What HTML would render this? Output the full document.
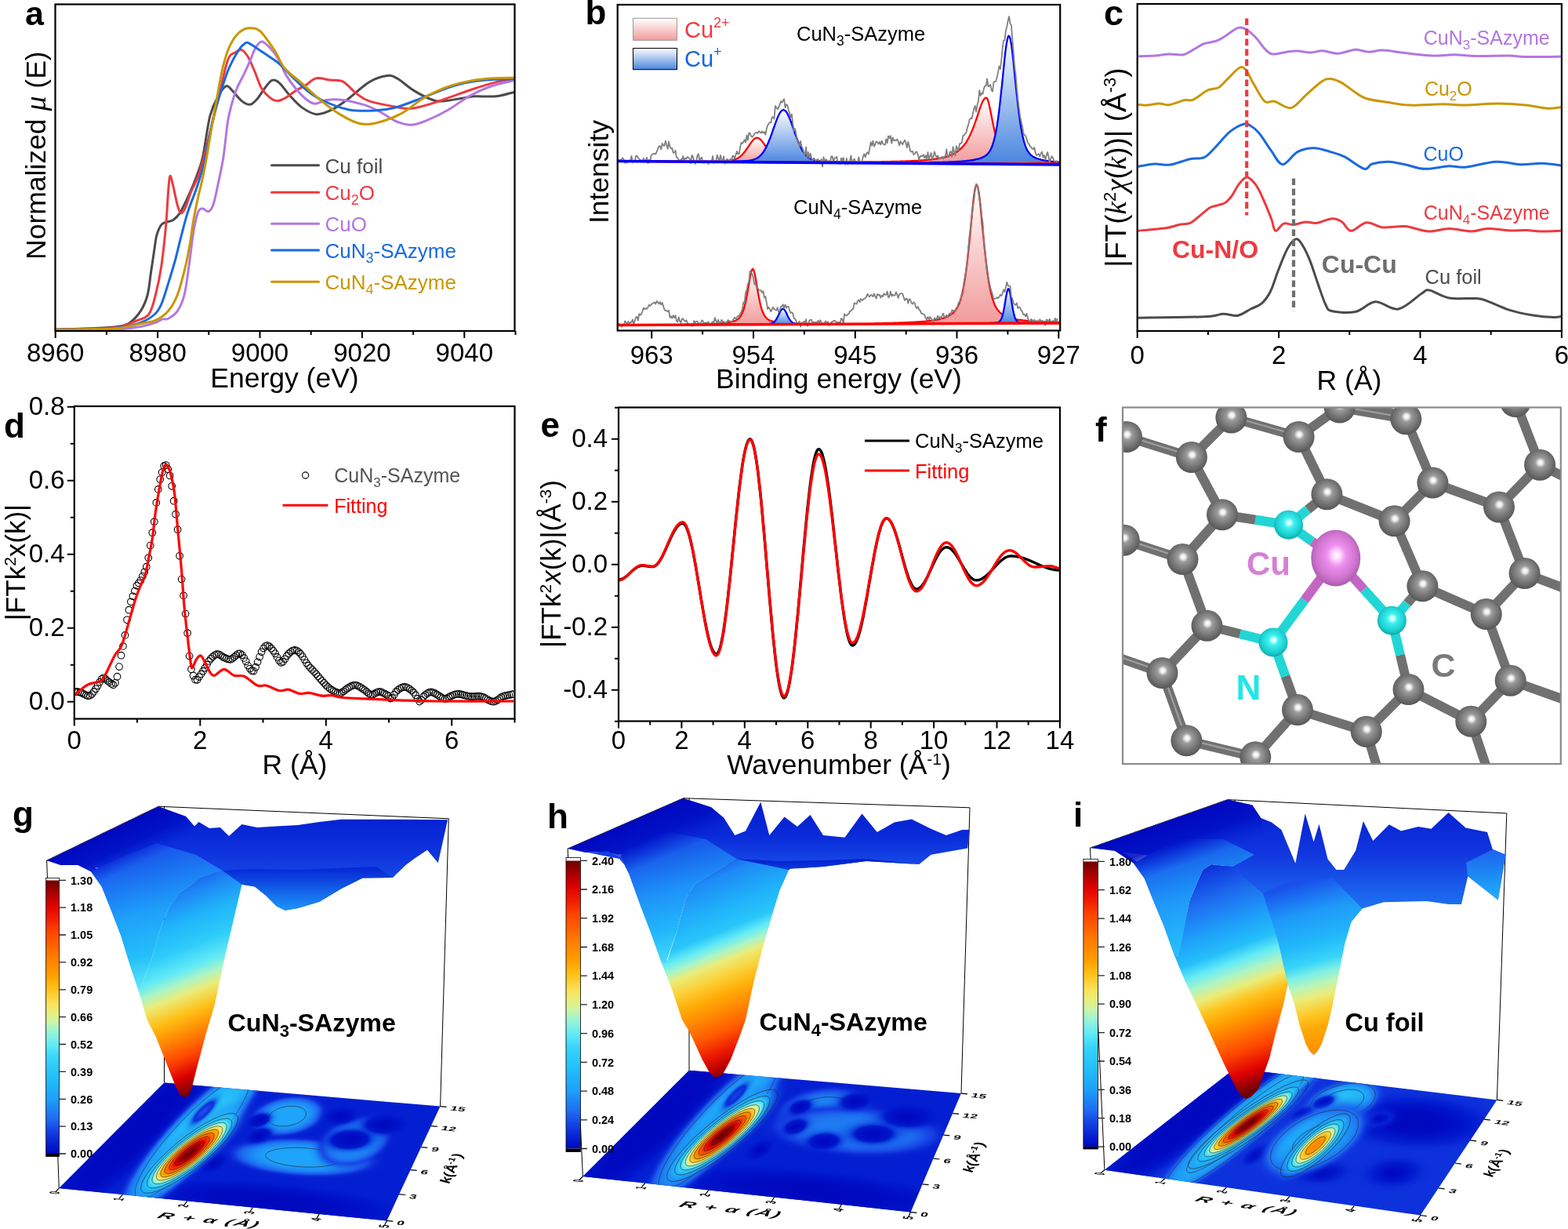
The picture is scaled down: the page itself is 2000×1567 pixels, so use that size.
<!DOCTYPE html>
<html><head><meta charset="utf-8"><title>Figure</title><style>
html,body{margin:0;padding:0;background:#fff;width:2000px;height:1567px;overflow:hidden;}
svg{display:block;}
text{font-family:"Liberation Sans",Arial,sans-serif;}
</style></head><body>
<svg xmlns="http://www.w3.org/2000/svg" width="2000" height="1567" viewBox="0 0 2000 1567">
<rect width="2000" height="1567" fill="#fff"/>
<defs><clipPath id="clipa"><rect x="71" y="6" width="585" height="415.5"/></clipPath><clipPath id="clipb"><rect x="788.7" y="7" width="562.5" height="413.5"/></clipPath><clipPath id="clipc"><rect x="1451.7" y="6" width="539.2" height="415"/></clipPath><clipPath id="clipd"><rect x="95.8" y="519" width="559.7" height="396.5"/></clipPath><clipPath id="clipe"><rect x="790" y="520.5" width="561" height="398"/></clipPath><clipPath id="clipf"><rect x="1432" y="519.5" width="558.8" height="454.5"/></clipPath></defs>
<g clip-path="url(#clipa)">
<path d="M71 420C79.2 419.8 106.8 419.1 120 418.5C133.2 417.9 142.6 417.5 150 416.4C157.4 415.3 159.8 415.3 164.7 412C169.6 408.7 175.4 402.6 179.3 396.6C183.2 390.6 186 384.3 188.2 376C190.4 367.7 191.1 356.5 192.6 346.7C194.1 336.9 195.8 325.2 197 317.4C198.2 309.6 198.4 304.9 199.9 299.8C201.4 294.7 203.6 289.4 205.8 286.6C208 283.8 210.7 283.9 213.1 282.9C215.5 281.9 217.7 282.5 220.4 280.7C223.1 278.9 225.8 277.3 229.2 271.9C232.6 266.5 237.3 256.5 241 248.4C244.7 240.3 248.3 231.6 251.2 223.5C254.1 215.4 255.8 212.7 258.6 200C261.4 187.3 264.6 160.3 268 147.3C271.4 134.3 275.3 128.2 278.7 121.9C282.1 115.7 285.4 111.2 288.1 109.8C290.8 108.4 291.5 110.7 294.8 113.8C298.1 116.9 304.2 125.3 308.2 128.6C312.2 131.8 315.5 133.8 318.9 133.3C322.2 132.9 325.2 129.4 328.3 125.9C331.4 122.4 334.6 116.4 337.7 112.5C340.8 108.6 343.9 103.5 347 102.4C350.1 101.3 352.6 102.5 356.4 105.8C360.2 109 365.1 116.8 369.8 121.9C374.5 127 379 132.6 384.6 136.6C390.2 140.6 397 145.2 403.5 145.7C410 146.2 417.1 142.9 423.8 139.7C430.6 136.4 436.1 132.1 444 126.2C451.9 120.4 462.7 109.5 471 104.6C479.3 99.6 487.9 97.2 494 96.5C500.1 95.8 501.9 97.3 507.5 100.5C513.1 103.7 520.3 110.9 527.7 115.4C535.1 119.9 545.7 125.2 552 127.5C558.3 129.8 558.8 129.3 565.5 128.9C572.2 128.5 585.8 125.8 592.5 124.8C599.2 123.8 599.2 123.1 606 122.8C612.8 122.5 624.7 123.7 633 122.8C641.3 121.9 652.2 118.3 656 117.4" fill="none" stroke="#4b4b4b" stroke-width="3" stroke-linejoin="round" stroke-linecap="round"/>
<path d="M71 420.5C79.2 420.2 106.8 419.6 120 419C133.2 418.4 141.3 418.7 150 417.2C158.7 415.7 165.4 412.5 172 409.8C178.6 407.1 185.2 406.6 189.6 401C194 395.4 195.7 386.3 198.4 376C201.1 365.7 203.6 354.1 205.8 339.4C208 324.7 210.1 303.9 211.6 288C213.1 272.1 213.7 254.6 214.6 244C215.5 233.4 215.8 226 216.8 224.5C217.8 223 218.8 229 220.4 235.2C222 241.4 224.6 255.5 226.3 261.6C228 267.7 229 271.4 230.7 271.9C232.4 272.4 234.4 269.2 236.6 264.6C238.8 260 241.2 250.6 243.9 244C246.6 237.4 250 232.3 252.7 225C255.4 217.7 257.7 208.5 260 200C262.3 191.5 263.5 186.8 266.6 174.2C269.7 161.6 274.7 140.9 278.7 124.6C282.7 108.3 287.1 85.9 290.7 76.3C294.3 66.7 297.2 69 300.1 66.9C303 64.8 305.5 62.7 308.2 63.6C310.9 64.5 313.5 68 316.2 72.3C318.9 76.6 321.4 83 324.3 89.7C327.2 96.4 330.2 106.7 333.6 112.5C337 118.3 341 121.9 344.4 124.6C347.8 127.3 350.4 128.6 353.8 128.6C357.2 128.6 360.5 126.8 364.5 124.6C368.5 122.4 373.6 117.9 377.9 115.2C382.1 112.5 385.7 111.2 390 108.6C394.3 106 398.3 100.9 403.5 99.8C408.7 98.7 415.4 101.4 421 102.1C426.6 102.8 431.7 101 437.3 103.9C442.9 106.8 449.2 115.2 454.8 119.4C460.4 123.6 462.7 126.1 471 128.9C479.3 131.7 495.8 134.7 504.8 136.3C513.8 137.9 517.1 139.1 525 138.3C532.9 137.5 543 134.3 552 131.6C561 128.9 570 125.2 579 122.1C588 118.9 597 115.6 606 112.7C615 109.8 624.7 106.6 633 104.6C641.3 102.6 652.2 101.2 656 100.5" fill="none" stroke="#ed3a40" stroke-width="3" stroke-linejoin="round" stroke-linecap="round"/>
<path d="M71 421C79.2 420.9 106.8 420.7 120 420.5C133.2 420.3 140.1 420.4 150 419.7C159.9 419 171.2 417.8 179.3 416.4C187.4 415 193.8 412.9 198.4 411.3C203.1 409.7 204.5 407.8 207.2 406.9C209.9 406 211.4 407.9 214.6 406.2C217.8 404.5 222.9 401.6 226.3 396.6C229.7 391.6 232.7 385.5 235.1 376C237.5 366.5 239.1 352.8 241 339.4C242.9 326 244.9 306.9 246.8 295.4C248.8 283.9 250.7 275.3 252.7 270.4C254.7 265.5 256.4 266.1 258.6 266C260.8 265.9 263.7 270.4 265.9 269.7C268.1 269 269.8 267.1 271.8 261.6C273.8 256.1 275.5 247 277.7 236.7C279.9 226.4 282.8 213.8 285 200C287.2 186.2 288.6 166.3 290.7 154C292.8 141.7 295.5 133 297.5 125.9C299.5 118.8 300.6 116.3 302.8 111.2C305 106.1 308.2 100.7 310.9 95.1C313.6 89.5 316.4 83.2 318.9 77.6C321.3 72 323.4 65.6 325.6 61.6C327.8 57.6 330.3 54.6 332.3 53.5C334.3 52.4 335 52.9 337.7 54.9C340.4 56.9 345 61.4 348.4 65.6C351.8 69.8 355.1 75.4 357.8 80.3C360.5 85.2 361.1 89.5 364.5 95.1C367.9 100.7 373.4 108.4 377.9 113.8C382.4 119.2 387.2 124.1 391.3 127.2C395.4 130.3 397.9 132.1 402.2 132.2C406.5 132.2 411.1 128.3 417 127.5C422.9 126.7 429.4 126.5 437.3 127.5C445.2 128.5 456.4 131.1 464.3 133.6C472.2 136.1 477.8 138.9 484.5 142.4C491.2 145.9 498.1 151.7 504.8 154.5C511.6 157.3 518.2 159.4 525 159.2C531.8 159 537.4 156.4 545.3 153.2C553.2 149.9 563.3 144.9 572.3 139.7C581.3 134.5 590.3 127 599.3 122.1C608.3 117.1 616.8 113.3 626.3 110C635.8 106.7 651 103.8 656 102.5" fill="none" stroke="#b277e2" stroke-width="3" stroke-linejoin="round" stroke-linecap="round"/>
<path d="M71 420.5C79.2 420.3 106.8 419.9 120 419.5C133.2 419.1 140.1 419.4 150 418C159.9 416.6 171.5 414.1 179.3 411.3C187.1 408.5 192.6 404.9 197 401C201.4 397.1 202.9 394.4 205.8 387.8C208.7 381.2 211.7 370.7 214.6 361.4C217.5 352.1 220.7 341.8 223.4 332C226.1 322.2 228 313 230.7 302.7C233.4 292.4 236.3 280.4 239.5 270.4C242.7 260.4 246.6 251.9 249.8 242.6C253 233.3 256.4 222.5 258.6 214.7C260.8 206.9 260.8 206.8 263 196C265.2 185.2 268.7 163.7 272 150C275.3 136.3 279.4 124.3 282.7 113.8C286 103.3 288.4 95.3 292 87C295.6 78.7 300.8 69.5 304.2 64.2C307.6 59 310 57 312.2 55.5C314.4 54 314 53.4 317.6 55.1C321.2 56.8 327.4 61.4 333.6 65.6C339.8 69.8 349.9 76.3 355 80.3C360.1 84.3 358.7 84.1 364.5 89.7C370.3 95.3 382.4 107.7 390 114C397.6 120.3 401.3 123.2 410.3 127.5C419.3 131.8 432.8 137.4 444 139.7C455.2 141.9 467.7 141.4 477.8 141C487.9 140.6 494.7 139.7 504.8 137C514.9 134.3 528.4 128.6 538.5 124.8C548.6 121 556.5 117.2 565.5 114C574.5 110.8 583.5 107.9 592.5 105.9C601.5 103.9 608.9 102.8 619.5 101.9C630.1 101 649.9 100.7 656 100.5" fill="none" stroke="#1a6ae0" stroke-width="3" stroke-linejoin="round" stroke-linecap="round"/>
<path d="M71 420.5C79.2 420.3 106.8 419.8 120 419.5C133.2 419.2 140.1 419.7 150 418.6C159.9 417.5 171.2 414.5 179.3 412.8C187.4 411.1 192.5 411.1 198.4 408.4C204.3 405.7 209.9 402 214.6 396.6C219.2 391.2 222.6 385.5 226.3 376C230 366.5 233.9 350.4 236.6 339.4C239.3 328.4 240.7 319.8 242.4 310C244.1 300.2 245.1 290.5 246.8 280.7C248.5 270.9 250.7 260.4 252.7 251.4C254.7 242.4 256.8 235 258.6 226.4C260.4 217.8 262.1 208.7 263.7 200C265.3 191.3 265.5 188.4 268 174C270.5 159.6 276 128.3 278.7 113.8C281.4 99.3 282 95.3 284 87C286 78.7 288 70.9 290.7 64.2C293.4 57.5 296.6 51.3 300 46.8C303.4 42.3 307.5 39.2 310.9 37.4C314.3 35.6 316.6 35.3 320.2 35.8C323.8 36.2 327.2 35.1 332.3 40.1C337.4 45.1 345.9 57.8 351 65.6C356.1 73.4 357.4 80.3 363 87C368.6 93.7 376.7 98.8 384.6 105.8C392.5 112.8 402 122.1 410.3 128.9C418.6 135.7 426.7 141.7 434.6 146.4C442.5 151.1 450.3 155.4 457.5 157.2C464.7 159 468.8 159.2 477.8 157.2C486.8 155.2 501.4 150.2 511.5 145C521.6 139.8 529.5 131.6 538.5 126.2C547.5 120.8 556.5 116.3 565.5 112.7C574.5 109.1 583.5 106.6 592.5 104.6C601.5 102.6 608.9 101.4 619.5 100.5C630.1 99.6 649.9 99.4 656 99.2" fill="none" stroke="#c99700" stroke-width="3" stroke-linejoin="round" stroke-linecap="round"/>
</g>
<rect x="70.5" y="5.5" width="586" height="416.5" fill="none" stroke="#000" stroke-width="2.2"/>
<path d="M70.7 422v9M201.1 422v9M331.5 422v9M461.9 422v9M592.3 422v9" stroke="#000" stroke-width="2"/>
<path d="M135.9 422v5M266.3 422v5M396.7 422v5M527.1 422v5M657.5 422v5" stroke="#000" stroke-width="2"/>
<text x="70.7" y="461" font-size="33" text-anchor="middle">8960</text>
<text x="201.1" y="461" font-size="33" text-anchor="middle">8980</text>
<text x="331.5" y="461" font-size="33" text-anchor="middle">9000</text>
<text x="461.9" y="461" font-size="33" text-anchor="middle">9020</text>
<text x="592.3" y="461" font-size="33" text-anchor="middle">9040</text>
<text x="363" y="494" font-size="35.5" text-anchor="middle">Energy (eV)</text>
<text transform="translate(57.6 331) rotate(-90)" font-size="35.5">Normalized <tspan font-family="Liberation Serif" font-style="italic" font-size="38">μ</tspan> (E)</text>
<path d="M346.5 210.8H406.5" stroke="#4b4b4b" stroke-width="3" stroke-linecap="round"/>
<text x="414.5" y="220.6" font-size="26" fill="#4b4b4b">Cu foil</text>
<path d="M346.5 245.3H406.5" stroke="#ed3a40" stroke-width="3" stroke-linecap="round"/>
<text x="414.5" y="255.1" font-size="26" fill="#ed3a40">Cu<tspan font-size="18" dy="6">2</tspan><tspan dy="-6">O</tspan></text>
<path d="M346.5 285.3H406.5" stroke="#b277e2" stroke-width="3" stroke-linecap="round"/>
<text x="414.5" y="295.1" font-size="26" fill="#b277e2">CuO</text>
<path d="M346.5 319.1H406.5" stroke="#1a6ae0" stroke-width="3" stroke-linecap="round"/>
<text x="414.5" y="328.9" font-size="26" fill="#1a6ae0">CuN<tspan font-size="18" dy="6">3</tspan><tspan dy="-6">-SAzyme</tspan></text>
<path d="M346.5 359.3H406.5" stroke="#c99700" stroke-width="3" stroke-linecap="round"/>
<text x="414.5" y="369.1" font-size="26" fill="#c99700">CuN<tspan font-size="18" dy="6">4</tspan><tspan dy="-6">-SAzyme</tspan></text>
<text x="32" y="31.5" font-size="43" font-weight="bold">a</text>
<defs><linearGradient id="gr" x1="0" y1="0" x2="0" y2="1"><stop offset="0" stop-color="#fff"/><stop offset="1" stop-color="#f29b9b"/></linearGradient><linearGradient id="gb" x1="0" y1="0" x2="0" y2="1"><stop offset="0" stop-color="#fff"/><stop offset="1" stop-color="#4a86e0"/></linearGradient></defs>
<g clip-path="url(#clipb)">
<path d="M797.7 205.5L799.8 205.5L801.9 205.5L804 205.5L806.1 205.5L808.2 205.6L810.3 205.6L812.4 205.6L814.5 205.6L816.6 205.6L818.7 205.6L820.8 205.6L822.9 205.6L825 205.6L827.1 205.7L829.2 205.7L831.3 205.7L833.4 205.7L835.5 205.7L837.6 205.7L839.7 205.7L841.8 205.7L843.9 205.7L846 205.7L848.1 205.7L850.2 205.8L852.3 205.8L854.4 205.8L856.5 205.8L858.6 205.8L860.7 205.8L862.8 205.8L864.9 205.8L867 205.8L869.1 205.8L871.2 205.8L873.3 205.8L875.4 205.8L877.5 205.8L879.6 205.8L881.7 205.8L883.8 205.8L885.9 205.8L888 205.8L890.1 205.8L892.2 205.8L894.3 205.8L896.4 205.8L898.5 205.8L900.6 205.8L902.7 205.8L904.8 205.8L906.9 205.7L909 205.7L911.1 205.7L913.2 205.7L915.3 205.6L917.4 205.6L919.5 205.5L921.6 205.5L923.7 205.4L925.8 205.3L927.9 205.1L930 204.9L932.1 204.6L934.2 204.2L936.3 203.7L938.4 202.9L940.5 202L942.6 200.7L944.7 199.1L946.8 197.1L948.9 194.7L951 192L953.1 189L955.2 185.9L957.3 182.8L959.4 180L961.5 177.7L963.6 176.1L965.7 175.6L967.8 176.2L969.9 177.7L972 180.1L974.1 182.9L976.2 186L978.3 189.2L980.4 192.2L982.5 194.9L984.6 197.3L986.7 199.3L988.8 201L990.9 202.3L993 203.3L995.1 204L997.2 204.6L999.3 205L1001.4 205.3L1003.5 205.6L1005.6 205.8L1007.7 205.9L1009.8 206L1011.9 206.1L1014 206.2L1016.1 206.2L1018.2 206.3L1020.3 206.4L1022.4 206.4L1024.5 206.5L1026.6 206.5L1028.7 206.6L1030.8 206.6L1032.9 206.6L1035 206.7L1037.1 206.7L1039.2 206.7L1041.3 206.8L1043.4 206.8L1045.5 206.8L1047.6 206.8L1049.7 206.9L1051.8 206.9L1053.9 206.9L1056 206.9L1058.1 207L1060.2 207L1062.3 207L1064.4 207L1066.5 207.1L1068.6 207.1L1070.7 207.1L1072.8 207.1L1074.9 207.1L1077 207.1L1079.1 207.2L1081.2 207.2L1083.3 207.2L1085.4 207.2L1087.5 207.2L1089.6 207.3L1091.7 207.3L1093.8 207.3L1095.9 207.3L1098 207.3L1100.1 207.3L1102.2 207.4L1104.3 207.4L1106.4 207.4L1108.5 207.4L1110.6 207.4L1112.7 207.4L1114.8 207.4L1116.9 207.5L1119 207.5L1121.1 207.5L1123.2 207.5L1125.3 207.5L1127.4 207.5L1129.5 207.6L1131.6 207.6L1133.7 207.6Z" fill="url(#gr)" stroke="none"/>
<path d="M797.7 205.5L799.8 205.5L801.9 205.5L804 205.5L806.1 205.5L808.2 205.6L810.3 205.6L812.4 205.6L814.5 205.6L816.6 205.6L818.7 205.6L820.8 205.6L822.9 205.6L825 205.6L827.1 205.7L829.2 205.7L831.3 205.7L833.4 205.7L835.5 205.7L837.6 205.7L839.7 205.7L841.8 205.7L843.9 205.7L846 205.7L848.1 205.7L850.2 205.8L852.3 205.8L854.4 205.8L856.5 205.8L858.6 205.8L860.7 205.8L862.8 205.8L864.9 205.8L867 205.8L869.1 205.8L871.2 205.8L873.3 205.8L875.4 205.8L877.5 205.8L879.6 205.8L881.7 205.8L883.8 205.8L885.9 205.8L888 205.8L890.1 205.8L892.2 205.8L894.3 205.8L896.4 205.8L898.5 205.8L900.6 205.8L902.7 205.8L904.8 205.8L906.9 205.7L909 205.7L911.1 205.7L913.2 205.7L915.3 205.6L917.4 205.6L919.5 205.5L921.6 205.5L923.7 205.4L925.8 205.3L927.9 205.1L930 204.9L932.1 204.6L934.2 204.2L936.3 203.7L938.4 202.9L940.5 202L942.6 200.7L944.7 199.1L946.8 197.1L948.9 194.7L951 192L953.1 189L955.2 185.9L957.3 182.8L959.4 180L961.5 177.7L963.6 176.1L965.7 175.6L967.8 176.2L969.9 177.7L972 180.1L974.1 182.9L976.2 186L978.3 189.2L980.4 192.2L982.5 194.9L984.6 197.3L986.7 199.3L988.8 201L990.9 202.3L993 203.3L995.1 204L997.2 204.6L999.3 205L1001.4 205.3L1003.5 205.6L1005.6 205.8L1007.7 205.9L1009.8 206L1011.9 206.1L1014 206.2L1016.1 206.2L1018.2 206.3L1020.3 206.4L1022.4 206.4L1024.5 206.5L1026.6 206.5L1028.7 206.6L1030.8 206.6L1032.9 206.6L1035 206.7L1037.1 206.7L1039.2 206.7L1041.3 206.8L1043.4 206.8L1045.5 206.8L1047.6 206.8L1049.7 206.9L1051.8 206.9L1053.9 206.9L1056 206.9L1058.1 207L1060.2 207L1062.3 207L1064.4 207L1066.5 207.1L1068.6 207.1L1070.7 207.1L1072.8 207.1L1074.9 207.1L1077 207.1L1079.1 207.2L1081.2 207.2L1083.3 207.2L1085.4 207.2L1087.5 207.2L1089.6 207.3L1091.7 207.3L1093.8 207.3L1095.9 207.3L1098 207.3L1100.1 207.3L1102.2 207.4L1104.3 207.4L1106.4 207.4L1108.5 207.4L1110.6 207.4L1112.7 207.4L1114.8 207.4L1116.9 207.5L1119 207.5L1121.1 207.5L1123.2 207.5L1125.3 207.5L1127.4 207.5L1129.5 207.6L1131.6 207.6L1133.7 207.6" fill="none" stroke="#ff0000" stroke-width="2.3"/>
<path d="M1042 206.6L1043.9 206.6L1045.9 206.6L1047.8 206.6L1049.8 206.6L1051.7 206.6L1053.6 206.6L1055.6 206.6L1057.5 206.6L1059.4 206.6L1061.4 206.6L1063.3 206.6L1065.3 206.6L1067.2 206.6L1069.1 206.6L1071.1 206.6L1073 206.6L1075 206.6L1076.9 206.6L1078.8 206.5L1080.8 206.5L1082.7 206.5L1084.7 206.5L1086.6 206.5L1088.5 206.5L1090.5 206.5L1092.4 206.5L1094.3 206.5L1096.3 206.5L1098.2 206.5L1100.2 206.5L1102.1 206.5L1104 206.4L1106 206.4L1107.9 206.4L1109.9 206.4L1111.8 206.4L1113.7 206.4L1115.7 206.3L1117.6 206.3L1119.5 206.3L1121.5 206.3L1123.4 206.3L1125.4 206.2L1127.3 206.2L1129.2 206.2L1131.2 206.1L1133.1 206.1L1135.1 206.1L1137 206L1138.9 206L1140.9 205.9L1142.8 205.9L1144.8 205.9L1146.7 205.8L1148.6 205.7L1150.6 205.7L1152.5 205.6L1154.4 205.6L1156.4 205.5L1158.3 205.4L1160.3 205.3L1162.2 205.2L1164.1 205.2L1166.1 205.1L1168 204.9L1170 204.8L1171.9 204.7L1173.8 204.6L1175.8 204.4L1177.7 204.3L1179.7 204.1L1181.6 204L1183.5 203.8L1185.5 203.6L1187.4 203.4L1189.3 203.1L1191.3 202.9L1193.2 202.6L1195.2 202.3L1197.1 202L1199 201.6L1201 201.2L1202.9 200.8L1204.9 200.3L1206.8 199.8L1208.7 199.2L1210.7 198.5L1212.6 197.8L1214.5 196.9L1216.5 196L1218.4 194.9L1220.4 193.7L1222.3 192.3L1224.2 190.7L1226.2 188.9L1228.1 186.9L1230.1 184.5L1232 181.8L1233.9 178.7L1235.9 175.2L1237.8 171.3L1239.8 166.9L1241.7 162L1243.6 156.8L1245.6 151.1L1247.5 145.3L1249.4 139.5L1251.4 134.1L1253.3 129.6L1255.3 126.2L1257.2 124.6L1259.1 125.4L1261.1 130.9L1263 139.7L1265 149.7L1266.9 159.3L1268.8 167.8L1270.8 175L1272.7 180.8L1274.7 185.5L1276.6 189.3L1278.5 192.3L1280.5 194.7L1282.4 196.6L1284.3 198.1L1286.3 199.4L1288.2 200.4L1290.2 201.3L1292.1 202.1L1294 202.7L1296 203.3L1297.9 203.8L1299.9 204.2L1301.8 204.6L1303.7 204.9L1305.7 205.2L1307.6 205.5L1309.5 205.7L1311.5 205.9L1313.4 206.1L1315.4 206.3L1317.3 206.5L1319.2 206.6L1321.2 206.8L1323.1 206.9L1325.1 207L1327 207.1L1328.9 207.2L1330.9 207.3L1332.8 207.4L1334.8 207.5L1336.7 207.6L1338.6 207.7L1340.6 207.7L1342.5 207.8L1344.4 207.9L1346.4 207.9L1348.3 208L1350.3 208L1352.2 208.1Z" fill="url(#gr)" stroke="none"/>
<path d="M1042 206.6L1043.9 206.6L1045.9 206.6L1047.8 206.6L1049.8 206.6L1051.7 206.6L1053.6 206.6L1055.6 206.6L1057.5 206.6L1059.4 206.6L1061.4 206.6L1063.3 206.6L1065.3 206.6L1067.2 206.6L1069.1 206.6L1071.1 206.6L1073 206.6L1075 206.6L1076.9 206.6L1078.8 206.5L1080.8 206.5L1082.7 206.5L1084.7 206.5L1086.6 206.5L1088.5 206.5L1090.5 206.5L1092.4 206.5L1094.3 206.5L1096.3 206.5L1098.2 206.5L1100.2 206.5L1102.1 206.5L1104 206.4L1106 206.4L1107.9 206.4L1109.9 206.4L1111.8 206.4L1113.7 206.4L1115.7 206.3L1117.6 206.3L1119.5 206.3L1121.5 206.3L1123.4 206.3L1125.4 206.2L1127.3 206.2L1129.2 206.2L1131.2 206.1L1133.1 206.1L1135.1 206.1L1137 206L1138.9 206L1140.9 205.9L1142.8 205.9L1144.8 205.9L1146.7 205.8L1148.6 205.7L1150.6 205.7L1152.5 205.6L1154.4 205.6L1156.4 205.5L1158.3 205.4L1160.3 205.3L1162.2 205.2L1164.1 205.2L1166.1 205.1L1168 204.9L1170 204.8L1171.9 204.7L1173.8 204.6L1175.8 204.4L1177.7 204.3L1179.7 204.1L1181.6 204L1183.5 203.8L1185.5 203.6L1187.4 203.4L1189.3 203.1L1191.3 202.9L1193.2 202.6L1195.2 202.3L1197.1 202L1199 201.6L1201 201.2L1202.9 200.8L1204.9 200.3L1206.8 199.8L1208.7 199.2L1210.7 198.5L1212.6 197.8L1214.5 196.9L1216.5 196L1218.4 194.9L1220.4 193.7L1222.3 192.3L1224.2 190.7L1226.2 188.9L1228.1 186.9L1230.1 184.5L1232 181.8L1233.9 178.7L1235.9 175.2L1237.8 171.3L1239.8 166.9L1241.7 162L1243.6 156.8L1245.6 151.1L1247.5 145.3L1249.4 139.5L1251.4 134.1L1253.3 129.6L1255.3 126.2L1257.2 124.6L1259.1 125.4L1261.1 130.9L1263 139.7L1265 149.7L1266.9 159.3L1268.8 167.8L1270.8 175L1272.7 180.8L1274.7 185.5L1276.6 189.3L1278.5 192.3L1280.5 194.7L1282.4 196.6L1284.3 198.1L1286.3 199.4L1288.2 200.4L1290.2 201.3L1292.1 202.1L1294 202.7L1296 203.3L1297.9 203.8L1299.9 204.2L1301.8 204.6L1303.7 204.9L1305.7 205.2L1307.6 205.5L1309.5 205.7L1311.5 205.9L1313.4 206.1L1315.4 206.3L1317.3 206.5L1319.2 206.6L1321.2 206.8L1323.1 206.9L1325.1 207L1327 207.1L1328.9 207.2L1330.9 207.3L1332.8 207.4L1334.8 207.5L1336.7 207.6L1338.6 207.7L1340.6 207.7L1342.5 207.8L1344.4 207.9L1346.4 207.9L1348.3 208L1350.3 208L1352.2 208.1" fill="none" stroke="#ff0000" stroke-width="2.3"/>
<path d="M807.3 205.5L809.7 205.5L812.1 205.6L814.5 205.6L816.9 205.6L819.3 205.6L821.7 205.6L824.1 205.6L826.5 205.6L828.9 205.6L831.3 205.7L833.7 205.7L836.1 205.7L838.5 205.7L840.9 205.7L843.3 205.7L845.7 205.7L848.1 205.7L850.5 205.7L852.9 205.7L855.3 205.8L857.7 205.8L860.1 205.8L862.5 205.8L864.9 205.8L867.3 205.8L869.7 205.8L872.1 205.8L874.5 205.8L876.9 205.8L879.3 205.8L881.7 205.8L884.1 205.8L886.5 205.8L888.9 205.9L891.3 205.9L893.7 205.9L896.1 205.9L898.5 205.9L900.9 205.9L903.3 205.9L905.7 205.9L908.1 205.8L910.5 205.8L912.9 205.8L915.3 205.8L917.7 205.8L920.1 205.8L922.5 205.8L924.9 205.8L927.3 205.7L929.7 205.7L932.1 205.7L934.5 205.6L936.9 205.6L939.3 205.5L941.7 205.5L944.1 205.4L946.5 205.3L948.9 205.2L951.3 205.1L953.7 204.9L956.1 204.6L958.5 204.2L960.9 203.6L963.3 202.8L965.7 201.6L968.1 200L970.5 197.8L972.9 195L975.3 191.3L977.7 186.8L980.1 181.5L982.5 175.5L984.9 168.9L987.3 162L989.7 155.3L992.1 149.2L994.5 144.3L996.9 141.1L999.3 140L1001.7 141.1L1004.1 144.4L1006.5 149.3L1008.9 155.4L1011.3 162.2L1013.7 169L1016.1 175.7L1018.5 181.8L1020.9 187.1L1023.3 191.6L1025.7 195.3L1028.1 198.2L1030.5 200.4L1032.9 202L1035.3 203.2L1037.7 204.1L1040.1 204.7L1042.5 205.1L1044.9 205.4L1047.3 205.7L1049.7 205.8L1052.1 206L1054.5 206.1L1056.9 206.2L1059.3 206.3L1061.7 206.4L1064.1 206.4L1066.5 206.5L1068.9 206.6L1071.3 206.6L1073.7 206.7L1076.1 206.7L1078.5 206.8L1080.9 206.8L1083.3 206.9L1085.7 206.9L1088.1 206.9L1090.5 207L1092.9 207L1095.3 207L1097.7 207.1L1100.1 207.1L1102.5 207.1L1104.9 207.2L1107.3 207.2L1109.7 207.2L1112.1 207.2L1114.5 207.3L1116.9 207.3L1119.3 207.3L1121.7 207.3L1124.1 207.4L1126.5 207.4L1128.9 207.4L1131.3 207.4L1133.7 207.5L1136.1 207.5L1138.5 207.5L1140.9 207.5L1143.3 207.5L1145.7 207.6L1148.1 207.6L1150.5 207.6L1152.9 207.6L1155.3 207.6L1157.7 207.7L1160.1 207.7L1162.5 207.7L1164.9 207.7L1167.3 207.7L1169.7 207.8L1172.1 207.8L1174.5 207.8L1176.9 207.8L1179.3 207.8L1181.7 207.8L1184.1 207.9L1186.5 207.9L1188.9 207.9L1191.3 207.9Z" fill="url(#gb)" stroke="none"/>
<path d="M807.3 205.5L809.7 205.5L812.1 205.6L814.5 205.6L816.9 205.6L819.3 205.6L821.7 205.6L824.1 205.6L826.5 205.6L828.9 205.6L831.3 205.7L833.7 205.7L836.1 205.7L838.5 205.7L840.9 205.7L843.3 205.7L845.7 205.7L848.1 205.7L850.5 205.7L852.9 205.7L855.3 205.8L857.7 205.8L860.1 205.8L862.5 205.8L864.9 205.8L867.3 205.8L869.7 205.8L872.1 205.8L874.5 205.8L876.9 205.8L879.3 205.8L881.7 205.8L884.1 205.8L886.5 205.8L888.9 205.9L891.3 205.9L893.7 205.9L896.1 205.9L898.5 205.9L900.9 205.9L903.3 205.9L905.7 205.9L908.1 205.8L910.5 205.8L912.9 205.8L915.3 205.8L917.7 205.8L920.1 205.8L922.5 205.8L924.9 205.8L927.3 205.7L929.7 205.7L932.1 205.7L934.5 205.6L936.9 205.6L939.3 205.5L941.7 205.5L944.1 205.4L946.5 205.3L948.9 205.2L951.3 205.1L953.7 204.9L956.1 204.6L958.5 204.2L960.9 203.6L963.3 202.8L965.7 201.6L968.1 200L970.5 197.8L972.9 195L975.3 191.3L977.7 186.8L980.1 181.5L982.5 175.5L984.9 168.9L987.3 162L989.7 155.3L992.1 149.2L994.5 144.3L996.9 141.1L999.3 140L1001.7 141.1L1004.1 144.4L1006.5 149.3L1008.9 155.4L1011.3 162.2L1013.7 169L1016.1 175.7L1018.5 181.8L1020.9 187.1L1023.3 191.6L1025.7 195.3L1028.1 198.2L1030.5 200.4L1032.9 202L1035.3 203.2L1037.7 204.1L1040.1 204.7L1042.5 205.1L1044.9 205.4L1047.3 205.7L1049.7 205.8L1052.1 206L1054.5 206.1L1056.9 206.2L1059.3 206.3L1061.7 206.4L1064.1 206.4L1066.5 206.5L1068.9 206.6L1071.3 206.6L1073.7 206.7L1076.1 206.7L1078.5 206.8L1080.9 206.8L1083.3 206.9L1085.7 206.9L1088.1 206.9L1090.5 207L1092.9 207L1095.3 207L1097.7 207.1L1100.1 207.1L1102.5 207.1L1104.9 207.2L1107.3 207.2L1109.7 207.2L1112.1 207.2L1114.5 207.3L1116.9 207.3L1119.3 207.3L1121.7 207.3L1124.1 207.4L1126.5 207.4L1128.9 207.4L1131.3 207.4L1133.7 207.5L1136.1 207.5L1138.5 207.5L1140.9 207.5L1143.3 207.5L1145.7 207.6L1148.1 207.6L1150.5 207.6L1152.9 207.6L1155.3 207.6L1157.7 207.7L1160.1 207.7L1162.5 207.7L1164.9 207.7L1167.3 207.7L1169.7 207.8L1172.1 207.8L1174.5 207.8L1176.9 207.8L1179.3 207.8L1181.7 207.8L1184.1 207.9L1186.5 207.9L1188.9 207.9L1191.3 207.9" fill="none" stroke="#0000ff" stroke-width="2.3"/>
<path d="M1157.2 207.2L1158.4 207.2L1159.6 207.2L1160.9 207.2L1162.1 207.2L1163.3 207.2L1164.5 207.2L1165.7 207.2L1166.9 207.2L1168.2 207.2L1169.4 207.2L1170.6 207.2L1171.8 207.2L1173 207.2L1174.3 207.2L1175.5 207.1L1176.7 207.1L1177.9 207.1L1179.1 207.1L1180.4 207.1L1181.6 207.1L1182.8 207.1L1184 207.1L1185.2 207.1L1186.4 207L1187.7 207L1188.9 207L1190.1 207L1191.3 207L1192.5 207L1193.8 206.9L1195 206.9L1196.2 206.9L1197.4 206.9L1198.6 206.8L1199.9 206.8L1201.1 206.8L1202.3 206.8L1203.5 206.7L1204.7 206.7L1205.9 206.7L1207.2 206.6L1208.4 206.6L1209.6 206.6L1210.8 206.5L1212 206.5L1213.3 206.4L1214.5 206.4L1215.7 206.3L1216.9 206.3L1218.1 206.2L1219.4 206.1L1220.6 206.1L1221.8 206L1223 205.9L1224.2 205.8L1225.4 205.8L1226.7 205.7L1227.9 205.6L1229.1 205.5L1230.3 205.4L1231.5 205.3L1232.8 205.1L1234 205L1235.2 204.9L1236.4 204.7L1237.6 204.5L1238.9 204.4L1240.1 204.2L1241.3 204L1242.5 203.7L1243.7 203.5L1244.9 203.2L1246.2 203L1247.4 202.6L1248.6 202.3L1249.8 201.9L1251 201.5L1252.3 201.1L1253.5 200.5L1254.7 199.9L1255.9 199.2L1257.1 198.4L1258.4 197.5L1259.6 196.3L1260.8 195L1262 193.3L1263.2 191.3L1264.5 188.8L1265.7 185.8L1266.9 182.2L1268.1 177.9L1269.3 172.7L1270.5 166.6L1271.8 159.5L1273 151.4L1274.2 142.3L1275.4 132.2L1276.6 121.2L1277.9 109.5L1279.1 97.5L1280.3 85.4L1281.5 73.8L1282.7 63.3L1284 54.7L1285.2 48.7L1286.4 45.8L1287.6 46.4L1288.8 50.3L1290 57.3L1291.3 66.6L1292.5 77.5L1293.7 89.3L1294.9 101.5L1296.1 113.5L1297.4 124.9L1298.6 135.7L1299.8 145.5L1301 154.3L1302.2 162.1L1303.5 168.9L1304.7 174.7L1305.9 179.6L1307.1 183.7L1308.3 187.1L1309.5 190L1310.8 192.3L1312 194.2L1313.2 195.8L1314.4 197.1L1315.6 198.2L1316.9 199.1L1318.1 199.9L1319.3 200.5L1320.5 201.1L1321.7 201.6L1323 202.1L1324.2 202.5L1325.4 202.9L1326.6 203.2L1327.8 203.6L1329 203.9L1330.3 204.1L1331.5 204.4L1332.7 204.6L1333.9 204.8L1335.1 205L1336.4 205.2L1337.6 205.4L1338.8 205.5L1340 205.7L1341.2 205.8L1342.5 206L1343.7 206.1L1344.9 206.2L1346.1 206.3L1347.3 206.5L1348.5 206.6L1349.8 206.7L1351 206.7L1352.2 206.8Z" fill="url(#gb)" stroke="none"/>
<path d="M1157.2 207.2L1158.4 207.2L1159.6 207.2L1160.9 207.2L1162.1 207.2L1163.3 207.2L1164.5 207.2L1165.7 207.2L1166.9 207.2L1168.2 207.2L1169.4 207.2L1170.6 207.2L1171.8 207.2L1173 207.2L1174.3 207.2L1175.5 207.1L1176.7 207.1L1177.9 207.1L1179.1 207.1L1180.4 207.1L1181.6 207.1L1182.8 207.1L1184 207.1L1185.2 207.1L1186.4 207L1187.7 207L1188.9 207L1190.1 207L1191.3 207L1192.5 207L1193.8 206.9L1195 206.9L1196.2 206.9L1197.4 206.9L1198.6 206.8L1199.9 206.8L1201.1 206.8L1202.3 206.8L1203.5 206.7L1204.7 206.7L1205.9 206.7L1207.2 206.6L1208.4 206.6L1209.6 206.6L1210.8 206.5L1212 206.5L1213.3 206.4L1214.5 206.4L1215.7 206.3L1216.9 206.3L1218.1 206.2L1219.4 206.1L1220.6 206.1L1221.8 206L1223 205.9L1224.2 205.8L1225.4 205.8L1226.7 205.7L1227.9 205.6L1229.1 205.5L1230.3 205.4L1231.5 205.3L1232.8 205.1L1234 205L1235.2 204.9L1236.4 204.7L1237.6 204.5L1238.9 204.4L1240.1 204.2L1241.3 204L1242.5 203.7L1243.7 203.5L1244.9 203.2L1246.2 203L1247.4 202.6L1248.6 202.3L1249.8 201.9L1251 201.5L1252.3 201.1L1253.5 200.5L1254.7 199.9L1255.9 199.2L1257.1 198.4L1258.4 197.5L1259.6 196.3L1260.8 195L1262 193.3L1263.2 191.3L1264.5 188.8L1265.7 185.8L1266.9 182.2L1268.1 177.9L1269.3 172.7L1270.5 166.6L1271.8 159.5L1273 151.4L1274.2 142.3L1275.4 132.2L1276.6 121.2L1277.9 109.5L1279.1 97.5L1280.3 85.4L1281.5 73.8L1282.7 63.3L1284 54.7L1285.2 48.7L1286.4 45.8L1287.6 46.4L1288.8 50.3L1290 57.3L1291.3 66.6L1292.5 77.5L1293.7 89.3L1294.9 101.5L1296.1 113.5L1297.4 124.9L1298.6 135.7L1299.8 145.5L1301 154.3L1302.2 162.1L1303.5 168.9L1304.7 174.7L1305.9 179.6L1307.1 183.7L1308.3 187.1L1309.5 190L1310.8 192.3L1312 194.2L1313.2 195.8L1314.4 197.1L1315.6 198.2L1316.9 199.1L1318.1 199.9L1319.3 200.5L1320.5 201.1L1321.7 201.6L1323 202.1L1324.2 202.5L1325.4 202.9L1326.6 203.2L1327.8 203.6L1329 203.9L1330.3 204.1L1331.5 204.4L1332.7 204.6L1333.9 204.8L1335.1 205L1336.4 205.2L1337.6 205.4L1338.8 205.5L1340 205.7L1341.2 205.8L1342.5 206L1343.7 206.1L1344.9 206.2L1346.1 206.3L1347.3 206.5L1348.5 206.6L1349.8 206.7L1351 206.7L1352.2 206.8" fill="none" stroke="#0000ff" stroke-width="2.3"/>
<path d="M788.7 203.4L790.1 205.9L791.5 203.5L792.9 203.2L794.3 201.3L795.7 203.6L797.1 207.8L798.5 205.6L799.9 207.6L801.3 205.1L802.7 205.5L804.1 204.9L805.5 199L806.9 207L808.3 205.9L809.7 205.9L811.1 198.9L812.5 198.7L813.9 201.4L815.3 202.7L816.7 205.2L818.1 204L819.5 205.7L820.9 201.8L822.3 204.6L823.7 204.6L825.1 200.9L826.5 208L827.9 203.6L829.3 204.8L830.7 198L832.1 196.5L833.5 196.4L834.9 195.7L836.3 196.5L837.7 193.5L839.1 189.6L840.5 186.3L841.9 186.2L843.3 190.4L844.7 182.9L846.1 185.5L847.5 185.8L848.9 179.7L850.3 185.1L851.7 189.9L853.1 180.4L854.5 187.3L855.9 189.5L857.3 188.9L858.7 194.8L860.1 194.7L861.5 191.8L862.9 200.6L864.3 201.4L865.7 203.4L867.1 205.9L868.5 203.2L869.9 203L871.3 199L872.7 205.5L874.1 201.8L875.5 202.5L876.9 200L878.3 201.1L879.7 202.5L881.1 208.4L882.5 197.8L883.9 199.7L885.3 205.1L886.7 208.9L888.1 206.2L889.5 198.2L890.9 196.2L892.3 205.4L893.7 201.9L895.1 200.7L896.5 207.4L897.9 207.8L899.3 204.7L900.7 205L902.1 205.6L903.5 209.2L904.9 206.1L906.3 205.8L907.7 205.8L909.1 199L910.5 208.1L911.9 207L913.3 205.6L914.7 197.6L916.1 201.8L917.5 206.5L918.9 198L920.3 203.1L921.7 206.9L923.1 199.3L924.5 208.6L925.9 205.1L927.3 202.7L928.7 204L930.1 204.8L931.5 202.7L932.9 205.5L934.3 199L935.7 198.9L937.1 202.3L938.5 197.6L939.9 192.9L941.3 196.6L942.7 195.9L944.1 187.3L945.5 181.7L946.9 183.1L948.3 180.7L949.7 178.1L951.1 181.7L952.5 172.4L953.9 178.5L955.3 169.4L956.7 170.1L958.1 173.8L959.5 174.6L960.9 173L962.3 170.6L963.7 169.3L965.1 168.9L966.5 169.9L967.9 167.2L969.3 168.6L970.7 169.5L972.1 167.5L973.5 169.5L974.9 168.2L976.3 171.6L977.7 164.6L979.1 160.1L980.5 157.7L981.9 156.1L983.3 156.3L984.7 149.5L986.1 149.3L987.5 151.5L988.9 135.1L990.3 137.3L991.7 139.2L993.1 137.1L994.5 133.9L995.9 129.2L997.3 130.7L998.7 128.5L1000.1 126.1L1001.5 137.1L1002.9 133.2L1004.3 134.1L1005.7 139.9L1007.1 144.3L1008.5 149.6L1009.9 145.8L1011.3 157.6L1012.7 166.8L1014.1 164L1015.5 171.5L1016.9 178.6L1018.3 181.8L1019.7 187.2L1021.1 179.9L1022.5 187L1023.9 189.4L1025.3 194.7L1026.7 198L1028.1 187.6L1029.5 201L1030.9 194L1032.3 201.8L1033.7 195.7L1035.1 201.7L1036.5 205.5L1037.9 201.7L1039.3 203.1L1040.7 205.4L1042.1 203.5L1043.5 203L1044.9 208.4L1046.3 207L1047.7 202.8L1049.1 212.6L1050.5 200.2L1051.9 206.9L1053.3 203.2L1054.7 204.5L1056.1 206.4L1057.5 204.9L1058.9 206.3L1060.3 199.4L1061.7 199.5L1063.1 206.4L1064.5 201.4L1065.9 201.2L1067.3 199.8L1068.7 208.6L1070.1 206.9L1071.5 209.3L1072.9 201.6L1074.3 204.6L1075.7 201L1077.1 207.1L1078.5 209.8L1079.9 201.8L1081.3 209.7L1082.7 207.9L1084.1 204.1L1085.5 198.4L1086.9 209.2L1088.3 204.4L1089.7 202.7L1091.1 205.8L1092.5 205.6L1093.9 208.8L1095.3 200.3L1096.7 206.6L1098.1 207L1099.5 205.9L1100.9 199.5L1102.3 196.3L1103.7 200.4L1105.1 195.8L1106.5 194.1L1107.9 196.5L1109.3 189.3L1110.7 181.1L1112.1 185.7L1113.5 179.6L1114.9 186.9L1116.3 184.2L1117.7 180.3L1119.1 181.5L1120.5 183.6L1121.9 180.8L1123.3 184.4L1124.7 179.7L1126.1 183.1L1127.5 184.4L1128.9 184.7L1130.3 177.4L1131.7 182.3L1133.1 173.4L1134.5 176L1135.9 173.1L1137.3 182.8L1138.7 175.4L1140.1 179.3L1141.5 178.7L1142.9 179.2L1144.3 177.5L1145.7 180.3L1147.1 185.5L1148.5 180.2L1149.9 182.2L1151.3 184.2L1152.7 181.1L1154.1 178.6L1155.5 181.9L1156.9 188.3L1158.3 181L1159.7 185.9L1161.1 192.6L1162.5 193.6L1163.9 192.8L1165.3 197L1166.7 196.5L1168.1 193.7L1169.5 193.7L1170.9 197.7L1172.3 203.5L1173.7 199.3L1175.1 198.7L1176.5 199.4L1177.9 197.1L1179.3 201.6L1180.7 198.2L1182.1 203L1183.5 194.2L1184.9 202.6L1186.3 199.4L1187.7 195L1189.1 203.4L1190.5 200L1191.9 193.5L1193.3 197.6L1194.7 201.1L1196.1 198.4L1197.5 202.1L1198.9 201.7L1200.3 201.1L1201.7 199.7L1203.1 202.5L1204.5 200L1205.9 198.9L1207.3 190.3L1208.7 199.3L1210.1 200.1L1211.5 194.3L1212.9 193L1214.3 199.9L1215.7 187.1L1217.1 193.2L1218.5 198.2L1219.9 186.1L1221.3 189.7L1222.7 191.7L1224.1 183.2L1225.5 183.1L1226.9 181.6L1228.3 173L1229.7 172.6L1231.1 170.6L1232.5 169L1233.9 162.7L1235.3 158.6L1236.7 152.4L1238.1 150.9L1239.5 151.2L1240.9 145.1L1242.3 138.5L1243.7 134.9L1245.1 142.6L1246.5 134.1L1247.9 129L1249.3 115.2L1250.7 122.2L1252.1 118.7L1253.5 119.7L1254.9 113.1L1256.3 109.4L1257.7 109.4L1259.1 100.4L1260.5 110.4L1261.9 109.7L1263.3 107.9L1264.7 115.2L1266.1 116.5L1267.5 104.6L1268.9 104.2L1270.3 103.6L1271.7 98.8L1273.1 91.9L1274.5 84.4L1275.9 88L1277.3 77.1L1278.7 61.5L1280.1 51.6L1281.5 51.2L1282.9 39.3L1284.3 34L1285.7 26.3L1287.1 21L1288.5 29.9L1289.9 31.9L1291.3 49.6L1292.7 66.7L1294.1 84.1L1295.5 95.2L1296.9 111.3L1298.3 126L1299.7 137.1L1301.1 147.8L1302.5 154.9L1303.9 160.3L1305.3 169.7L1306.7 172.1L1308.1 173.2L1309.5 177L1310.9 181.7L1312.3 183.5L1313.7 186.3L1315.1 187.5L1316.5 189.7L1317.9 190.2L1319.3 188L1320.7 194.7L1322.1 198L1323.5 197.2L1324.9 196.3L1326.3 199.3L1327.7 195.7L1329.1 193.6L1330.5 200.5L1331.9 198L1333.3 203.9L1334.7 198.5L1336.1 194L1337.5 199.5L1338.9 208.1L1340.3 202.1L1341.7 199.2L1343.1 201.4L1344.5 205.7L1345.9 205.8L1347.3 204.9L1348.7 209.3" fill="none" stroke="#808080" stroke-width="1.8" stroke-linejoin="round"/>
<path d="M787.7 205.5L1352.2 209" stroke="#ff0000" stroke-width="3"/>
<path d="M787.7 205.5L1352.2 210" stroke="#0000ff" stroke-width="3.5"/>
<path d="M867.7 413.8L868.9 413.8L870 413.8L871.2 413.8L872.3 413.8L873.5 413.8L874.6 413.7L875.8 413.7L876.9 413.7L878.1 413.7L879.2 413.7L880.4 413.7L881.6 413.6L882.7 413.6L883.9 413.6L885 413.6L886.2 413.6L887.3 413.5L888.5 413.5L889.6 413.5L890.8 413.5L892 413.5L893.1 413.4L894.3 413.4L895.4 413.4L896.6 413.4L897.7 413.3L898.9 413.3L900 413.3L901.2 413.2L902.4 413.2L903.5 413.2L904.7 413.1L905.8 413.1L907 413L908.1 413L909.3 412.9L910.4 412.9L911.6 412.8L912.7 412.8L913.9 412.7L915.1 412.6L916.2 412.6L917.4 412.5L918.5 412.4L919.7 412.3L920.8 412.2L922 412.1L923.1 412L924.3 411.9L925.5 411.7L926.6 411.6L927.8 411.4L928.9 411.2L930.1 411L931.2 410.8L932.4 410.6L933.5 410.3L934.7 410L935.8 409.6L937 409.2L938.2 408.7L939.3 408.1L940.5 407.4L941.6 406.6L942.8 405.5L943.9 404.1L945.1 402.4L946.2 400.3L947.4 397.7L948.6 394.4L949.7 390.5L950.9 385.8L952 380.3L953.2 374.2L954.3 367.5L955.5 360.6L956.6 353.9L957.8 348.2L958.9 344.3L960.1 342.9L961.3 344.3L962.4 348.2L963.6 353.9L964.7 360.6L965.9 367.5L967 374.1L968.2 380.3L969.3 385.7L970.5 390.4L971.6 394.3L972.8 397.6L974 400.2L975.1 402.3L976.3 404L977.4 405.3L978.6 406.4L979.7 407.2L980.9 407.9L982 408.5L983.2 409L984.4 409.4L985.5 409.7L986.7 410L987.8 410.3L989 410.6L990.1 410.8L991.3 411L992.4 411.1L993.6 411.3L994.8 411.4L995.9 411.5L997.1 411.7L998.2 411.8L999.4 411.9L1000.5 411.9L1001.7 412L1002.8 412.1L1004 412.2L1005.1 412.2L1006.3 412.3L1007.5 412.3L1008.6 412.4L1009.8 412.4L1010.9 412.5L1012.1 412.5L1013.2 412.6L1014.4 412.6L1015.5 412.6L1016.7 412.6L1017.9 412.7L1019 412.7L1020.2 412.7L1021.3 412.7L1022.5 412.8L1023.6 412.8L1024.8 412.8L1025.9 412.8L1027.1 412.8L1028.2 412.9L1029.4 412.9L1030.6 412.9L1031.7 412.9L1032.9 412.9L1034 412.9L1035.2 412.9L1036.3 412.9L1037.5 412.9L1038.6 413L1039.8 413L1041 413L1042.1 413L1043.3 413L1044.4 413L1045.6 413L1046.7 413L1047.9 413L1049 413L1050.2 413L1051.3 413L1052.5 413Z" fill="url(#gr)" stroke="none"/>
<path d="M867.7 413.8L868.9 413.8L870 413.8L871.2 413.8L872.3 413.8L873.5 413.8L874.6 413.7L875.8 413.7L876.9 413.7L878.1 413.7L879.2 413.7L880.4 413.7L881.6 413.6L882.7 413.6L883.9 413.6L885 413.6L886.2 413.6L887.3 413.5L888.5 413.5L889.6 413.5L890.8 413.5L892 413.5L893.1 413.4L894.3 413.4L895.4 413.4L896.6 413.4L897.7 413.3L898.9 413.3L900 413.3L901.2 413.2L902.4 413.2L903.5 413.2L904.7 413.1L905.8 413.1L907 413L908.1 413L909.3 412.9L910.4 412.9L911.6 412.8L912.7 412.8L913.9 412.7L915.1 412.6L916.2 412.6L917.4 412.5L918.5 412.4L919.7 412.3L920.8 412.2L922 412.1L923.1 412L924.3 411.9L925.5 411.7L926.6 411.6L927.8 411.4L928.9 411.2L930.1 411L931.2 410.8L932.4 410.6L933.5 410.3L934.7 410L935.8 409.6L937 409.2L938.2 408.7L939.3 408.1L940.5 407.4L941.6 406.6L942.8 405.5L943.9 404.1L945.1 402.4L946.2 400.3L947.4 397.7L948.6 394.4L949.7 390.5L950.9 385.8L952 380.3L953.2 374.2L954.3 367.5L955.5 360.6L956.6 353.9L957.8 348.2L958.9 344.3L960.1 342.9L961.3 344.3L962.4 348.2L963.6 353.9L964.7 360.6L965.9 367.5L967 374.1L968.2 380.3L969.3 385.7L970.5 390.4L971.6 394.3L972.8 397.6L974 400.2L975.1 402.3L976.3 404L977.4 405.3L978.6 406.4L979.7 407.2L980.9 407.9L982 408.5L983.2 409L984.4 409.4L985.5 409.7L986.7 410L987.8 410.3L989 410.6L990.1 410.8L991.3 411L992.4 411.1L993.6 411.3L994.8 411.4L995.9 411.5L997.1 411.7L998.2 411.8L999.4 411.9L1000.5 411.9L1001.7 412L1002.8 412.1L1004 412.2L1005.1 412.2L1006.3 412.3L1007.5 412.3L1008.6 412.4L1009.8 412.4L1010.9 412.5L1012.1 412.5L1013.2 412.6L1014.4 412.6L1015.5 412.6L1016.7 412.6L1017.9 412.7L1019 412.7L1020.2 412.7L1021.3 412.7L1022.5 412.8L1023.6 412.8L1024.8 412.8L1025.9 412.8L1027.1 412.8L1028.2 412.9L1029.4 412.9L1030.6 412.9L1031.7 412.9L1032.9 412.9L1034 412.9L1035.2 412.9L1036.3 412.9L1037.5 412.9L1038.6 413L1039.8 413L1041 413L1042.1 413L1043.3 413L1044.4 413L1045.6 413L1046.7 413L1047.9 413L1049 413L1050.2 413L1051.3 413L1052.5 413" fill="none" stroke="#ff0000" stroke-width="2.3"/>
<path d="M1114.9 412.3L1116.4 412.2L1117.9 412.2L1119.3 412.2L1120.8 412.2L1122.3 412.1L1123.8 412.1L1125.3 412.1L1126.8 412L1128.2 412L1129.7 412L1131.2 411.9L1132.7 411.9L1134.2 411.9L1135.7 411.8L1137.1 411.8L1138.6 411.8L1140.1 411.7L1141.6 411.7L1143.1 411.6L1144.6 411.6L1146 411.6L1147.5 411.5L1149 411.5L1150.5 411.4L1152 411.4L1153.5 411.3L1154.9 411.2L1156.4 411.2L1157.9 411.1L1159.4 411L1160.9 411L1162.4 410.9L1163.8 410.8L1165.3 410.7L1166.8 410.7L1168.3 410.6L1169.8 410.5L1171.3 410.4L1172.7 410.3L1174.2 410.2L1175.7 410.1L1177.2 409.9L1178.7 409.8L1180.2 409.7L1181.6 409.5L1183.1 409.4L1184.6 409.2L1186.1 409L1187.6 408.8L1189.1 408.6L1190.5 408.4L1192 408.2L1193.5 407.9L1195 407.6L1196.5 407.3L1198 407L1199.4 406.6L1200.9 406.2L1202.4 405.8L1203.9 405.3L1205.4 404.8L1206.9 404.2L1208.3 403.6L1209.8 402.9L1211.3 402.1L1212.8 401.1L1214.3 400.1L1215.8 398.8L1217.2 397.3L1218.7 395.6L1220.2 393.4L1221.7 390.8L1223.2 387.5L1224.7 383.6L1226.1 378.7L1227.6 372.7L1229.1 365.5L1230.6 356.8L1232.1 346.7L1233.6 335L1235 321.9L1236.5 307.4L1238 291.9L1239.5 276.3L1241 261.3L1242.4 248.6L1243.9 239.5L1245.4 235.6L1246.9 237.4L1248.4 244.6L1249.9 256.1L1251.3 270.3L1252.8 285.8L1254.3 301.4L1255.8 316.3L1257.3 330L1258.8 342.3L1260.2 353L1261.7 362.2L1263.2 369.9L1264.7 376.3L1266.2 381.6L1267.7 385.9L1269.1 389.4L1270.6 392.2L1272.1 394.6L1273.6 396.4L1275.1 398L1276.6 399.3L1278 400.5L1279.5 401.4L1281 402.3L1282.5 403L1284 403.7L1285.5 404.2L1286.9 404.8L1288.4 405.3L1289.9 405.7L1291.4 406.1L1292.9 406.4L1294.4 406.8L1295.8 407.1L1297.3 407.3L1298.8 407.6L1300.3 407.8L1301.8 408L1303.3 408.2L1304.7 408.4L1306.2 408.6L1307.7 408.7L1309.2 408.9L1310.7 409L1312.2 409.2L1313.6 409.3L1315.1 409.4L1316.6 409.5L1318.1 409.6L1319.6 409.7L1321.1 409.8L1322.5 409.9L1324 409.9L1325.5 410L1327 410.1L1328.5 410.1L1330 410.2L1331.4 410.3L1332.9 410.3L1334.4 410.4L1335.9 410.4L1337.4 410.5L1338.9 410.5L1340.3 410.5L1341.8 410.6L1343.3 410.6L1344.8 410.7L1346.3 410.7L1347.8 410.7L1349.2 410.8L1350.7 410.8L1352.2 410.8Z" fill="url(#gr)" stroke="none"/>
<path d="M1114.9 412.3L1116.4 412.2L1117.9 412.2L1119.3 412.2L1120.8 412.2L1122.3 412.1L1123.8 412.1L1125.3 412.1L1126.8 412L1128.2 412L1129.7 412L1131.2 411.9L1132.7 411.9L1134.2 411.9L1135.7 411.8L1137.1 411.8L1138.6 411.8L1140.1 411.7L1141.6 411.7L1143.1 411.6L1144.6 411.6L1146 411.6L1147.5 411.5L1149 411.5L1150.5 411.4L1152 411.4L1153.5 411.3L1154.9 411.2L1156.4 411.2L1157.9 411.1L1159.4 411L1160.9 411L1162.4 410.9L1163.8 410.8L1165.3 410.7L1166.8 410.7L1168.3 410.6L1169.8 410.5L1171.3 410.4L1172.7 410.3L1174.2 410.2L1175.7 410.1L1177.2 409.9L1178.7 409.8L1180.2 409.7L1181.6 409.5L1183.1 409.4L1184.6 409.2L1186.1 409L1187.6 408.8L1189.1 408.6L1190.5 408.4L1192 408.2L1193.5 407.9L1195 407.6L1196.5 407.3L1198 407L1199.4 406.6L1200.9 406.2L1202.4 405.8L1203.9 405.3L1205.4 404.8L1206.9 404.2L1208.3 403.6L1209.8 402.9L1211.3 402.1L1212.8 401.1L1214.3 400.1L1215.8 398.8L1217.2 397.3L1218.7 395.6L1220.2 393.4L1221.7 390.8L1223.2 387.5L1224.7 383.6L1226.1 378.7L1227.6 372.7L1229.1 365.5L1230.6 356.8L1232.1 346.7L1233.6 335L1235 321.9L1236.5 307.4L1238 291.9L1239.5 276.3L1241 261.3L1242.4 248.6L1243.9 239.5L1245.4 235.6L1246.9 237.4L1248.4 244.6L1249.9 256.1L1251.3 270.3L1252.8 285.8L1254.3 301.4L1255.8 316.3L1257.3 330L1258.8 342.3L1260.2 353L1261.7 362.2L1263.2 369.9L1264.7 376.3L1266.2 381.6L1267.7 385.9L1269.1 389.4L1270.6 392.2L1272.1 394.6L1273.6 396.4L1275.1 398L1276.6 399.3L1278 400.5L1279.5 401.4L1281 402.3L1282.5 403L1284 403.7L1285.5 404.2L1286.9 404.8L1288.4 405.3L1289.9 405.7L1291.4 406.1L1292.9 406.4L1294.4 406.8L1295.8 407.1L1297.3 407.3L1298.8 407.6L1300.3 407.8L1301.8 408L1303.3 408.2L1304.7 408.4L1306.2 408.6L1307.7 408.7L1309.2 408.9L1310.7 409L1312.2 409.2L1313.6 409.3L1315.1 409.4L1316.6 409.5L1318.1 409.6L1319.6 409.7L1321.1 409.8L1322.5 409.9L1324 409.9L1325.5 410L1327 410.1L1328.5 410.1L1330 410.2L1331.4 410.3L1332.9 410.3L1334.4 410.4L1335.9 410.4L1337.4 410.5L1338.9 410.5L1340.3 410.5L1341.8 410.6L1343.3 410.6L1344.8 410.7L1346.3 410.7L1347.8 410.7L1349.2 410.8L1350.7 410.8L1352.2 410.8" fill="none" stroke="#ff0000" stroke-width="2.3"/>
<path d="M920.6 413.9L921.6 413.9L922.6 413.9L923.5 413.9L924.5 413.9L925.5 413.9L926.5 413.9L927.4 413.8L928.4 413.8L929.4 413.8L930.4 413.8L931.3 413.8L932.3 413.8L933.3 413.8L934.2 413.8L935.2 413.8L936.2 413.8L937.2 413.8L938.1 413.8L939.1 413.8L940.1 413.8L941.1 413.8L942 413.8L943 413.8L944 413.8L945 413.7L946 413.7L946.9 413.7L947.9 413.7L948.9 413.7L949.9 413.7L950.8 413.7L951.8 413.7L952.8 413.7L953.8 413.7L954.7 413.7L955.7 413.7L956.7 413.7L957.6 413.6L958.6 413.6L959.6 413.6L960.6 413.6L961.5 413.6L962.5 413.6L963.5 413.6L964.5 413.6L965.5 413.6L966.4 413.6L967.4 413.5L968.4 413.5L969.4 413.5L970.3 413.5L971.3 413.5L972.3 413.5L973.2 413.4L974.2 413.4L975.2 413.4L976.2 413.4L977.1 413.3L978.1 413.3L979.1 413.2L980.1 413.2L981 413.1L982 412.9L983 412.7L984 412.5L984.9 412.1L985.9 411.6L986.9 411L987.9 410.1L988.9 409L989.8 407.7L990.8 406.1L991.8 404.2L992.8 402.3L993.7 400.2L994.7 398.2L995.7 396.3L996.6 394.9L997.6 393.9L998.6 393.6L999.6 393.9L1000.5 394.9L1001.5 396.3L1002.5 398.1L1003.5 400.2L1004.4 402.2L1005.4 404.2L1006.4 406L1007.4 407.6L1008.3 408.9L1009.3 410L1010.3 410.9L1011.3 411.5L1012.2 412L1013.2 412.4L1014.2 412.6L1015.2 412.8L1016.1 412.9L1017.1 413L1018.1 413L1019.1 413.1L1020 413.1L1021 413.2L1022 413.2L1023 413.2L1023.9 413.2L1024.9 413.2L1025.9 413.2L1026.9 413.2L1027.8 413.2L1028.8 413.3L1029.8 413.3L1030.8 413.3L1031.8 413.3L1032.7 413.3L1033.7 413.3L1034.7 413.3L1035.6 413.3L1036.6 413.3L1037.6 413.3L1038.6 413.3L1039.5 413.3L1040.5 413.3L1041.5 413.3L1042.5 413.3L1043.4 413.3L1044.4 413.3L1045.4 413.3L1046.4 413.3L1047.3 413.3L1048.3 413.3L1049.3 413.3L1050.3 413.3L1051.2 413.3L1052.2 413.3L1053.2 413.3L1054.2 413.3L1055.1 413.3L1056.1 413.3L1057.1 413.3L1058.1 413.3L1059 413.3L1060 413.2L1061 413.2L1062 413.2L1062.9 413.2L1063.9 413.2L1064.9 413.2L1065.9 413.2L1066.8 413.2L1067.8 413.2L1068.8 413.2L1069.8 413.2L1070.8 413.2L1071.7 413.2L1072.7 413.2L1073.7 413.2L1074.6 413.2L1075.6 413.2L1076.6 413.2Z" fill="url(#gb)" stroke="none"/>
<path d="M920.6 413.9L921.6 413.9L922.6 413.9L923.5 413.9L924.5 413.9L925.5 413.9L926.5 413.9L927.4 413.8L928.4 413.8L929.4 413.8L930.4 413.8L931.3 413.8L932.3 413.8L933.3 413.8L934.2 413.8L935.2 413.8L936.2 413.8L937.2 413.8L938.1 413.8L939.1 413.8L940.1 413.8L941.1 413.8L942 413.8L943 413.8L944 413.8L945 413.7L946 413.7L946.9 413.7L947.9 413.7L948.9 413.7L949.9 413.7L950.8 413.7L951.8 413.7L952.8 413.7L953.8 413.7L954.7 413.7L955.7 413.7L956.7 413.7L957.6 413.6L958.6 413.6L959.6 413.6L960.6 413.6L961.5 413.6L962.5 413.6L963.5 413.6L964.5 413.6L965.5 413.6L966.4 413.6L967.4 413.5L968.4 413.5L969.4 413.5L970.3 413.5L971.3 413.5L972.3 413.5L973.2 413.4L974.2 413.4L975.2 413.4L976.2 413.4L977.1 413.3L978.1 413.3L979.1 413.2L980.1 413.2L981 413.1L982 412.9L983 412.7L984 412.5L984.9 412.1L985.9 411.6L986.9 411L987.9 410.1L988.9 409L989.8 407.7L990.8 406.1L991.8 404.2L992.8 402.3L993.7 400.2L994.7 398.2L995.7 396.3L996.6 394.9L997.6 393.9L998.6 393.6L999.6 393.9L1000.5 394.9L1001.5 396.3L1002.5 398.1L1003.5 400.2L1004.4 402.2L1005.4 404.2L1006.4 406L1007.4 407.6L1008.3 408.9L1009.3 410L1010.3 410.9L1011.3 411.5L1012.2 412L1013.2 412.4L1014.2 412.6L1015.2 412.8L1016.1 412.9L1017.1 413L1018.1 413L1019.1 413.1L1020 413.1L1021 413.2L1022 413.2L1023 413.2L1023.9 413.2L1024.9 413.2L1025.9 413.2L1026.9 413.2L1027.8 413.2L1028.8 413.3L1029.8 413.3L1030.8 413.3L1031.8 413.3L1032.7 413.3L1033.7 413.3L1034.7 413.3L1035.6 413.3L1036.6 413.3L1037.6 413.3L1038.6 413.3L1039.5 413.3L1040.5 413.3L1041.5 413.3L1042.5 413.3L1043.4 413.3L1044.4 413.3L1045.4 413.3L1046.4 413.3L1047.3 413.3L1048.3 413.3L1049.3 413.3L1050.3 413.3L1051.2 413.3L1052.2 413.3L1053.2 413.3L1054.2 413.3L1055.1 413.3L1056.1 413.3L1057.1 413.3L1058.1 413.3L1059 413.3L1060 413.2L1061 413.2L1062 413.2L1062.9 413.2L1063.9 413.2L1064.9 413.2L1065.9 413.2L1066.8 413.2L1067.8 413.2L1068.8 413.2L1069.8 413.2L1070.8 413.2L1071.7 413.2L1072.7 413.2L1073.7 413.2L1074.6 413.2L1075.6 413.2L1076.6 413.2" fill="none" stroke="#0000ff" stroke-width="2.3"/>
<path d="M1226.2 412.5L1227 412.5L1227.7 412.5L1228.5 412.5L1229.2 412.5L1230 412.5L1230.7 412.5L1231.5 412.5L1232.2 412.5L1233 412.5L1233.7 412.4L1234.5 412.4L1235.2 412.4L1236 412.4L1236.7 412.4L1237.5 412.4L1238.2 412.4L1239 412.4L1239.7 412.4L1240.5 412.4L1241.2 412.4L1242 412.4L1242.7 412.4L1243.5 412.4L1244.2 412.4L1245 412.3L1245.7 412.3L1246.5 412.3L1247.2 412.3L1248 412.3L1248.7 412.3L1249.5 412.3L1250.2 412.3L1251 412.3L1251.7 412.3L1252.5 412.3L1253.2 412.2L1254 412.2L1254.7 412.2L1255.5 412.2L1256.2 412.2L1257 412.2L1257.7 412.2L1258.5 412.1L1259.2 412.1L1260 412.1L1260.7 412.1L1261.5 412.1L1262.2 412L1263 412L1263.7 412L1264.5 411.9L1265.2 411.9L1266 411.9L1266.7 411.8L1267.5 411.8L1268.2 411.7L1269 411.7L1269.7 411.6L1270.5 411.5L1271.2 411.4L1272 411.3L1272.7 411.1L1273.5 410.8L1274.2 410.4L1275 409.8L1275.7 409.1L1276.5 408L1277.2 406.5L1278 404.6L1278.7 402.2L1279.5 399.3L1280.2 395.7L1281 391.7L1281.7 387.4L1282.5 382.8L1283.2 378.4L1284 374.4L1284.7 371.2L1285.5 369L1286.2 368.3L1287 369L1287.7 371.1L1288.5 374.4L1289.2 378.4L1290 382.8L1290.7 387.3L1291.5 391.7L1292.2 395.7L1293 399.2L1293.7 402.2L1294.5 404.6L1295.2 406.5L1296 407.9L1296.7 409L1297.5 409.7L1298.2 410.3L1299 410.7L1299.7 410.9L1300.5 411.1L1301.2 411.3L1302 411.4L1302.7 411.5L1303.5 411.5L1304.2 411.6L1305 411.6L1305.7 411.7L1306.5 411.7L1307.2 411.7L1308 411.8L1308.7 411.8L1309.5 411.8L1310.2 411.8L1311 411.8L1311.7 411.9L1312.5 411.9L1313.2 411.9L1314 411.9L1314.7 411.9L1315.5 411.9L1316.2 411.9L1317 411.9L1317.7 411.9L1318.5 411.9L1319.2 411.9L1320 412L1320.7 412L1321.5 412L1322.2 412L1323 412L1323.7 412L1324.5 412L1325.2 412L1326 412L1326.7 412L1327.5 412L1328.2 412L1329 412L1329.7 412L1330.5 412L1331.2 412L1332 412L1332.7 412L1333.5 412L1334.2 412L1335 412L1335.7 412L1336.5 412L1337.2 412L1338 412L1338.7 412L1339.5 412L1340.2 412L1341 412L1341.7 412L1342.5 412L1343.2 412L1344 412L1344.7 412L1345.5 412L1346.2 412Z" fill="url(#gb)" stroke="none"/>
<path d="M1226.2 412.5L1227 412.5L1227.7 412.5L1228.5 412.5L1229.2 412.5L1230 412.5L1230.7 412.5L1231.5 412.5L1232.2 412.5L1233 412.5L1233.7 412.4L1234.5 412.4L1235.2 412.4L1236 412.4L1236.7 412.4L1237.5 412.4L1238.2 412.4L1239 412.4L1239.7 412.4L1240.5 412.4L1241.2 412.4L1242 412.4L1242.7 412.4L1243.5 412.4L1244.2 412.4L1245 412.3L1245.7 412.3L1246.5 412.3L1247.2 412.3L1248 412.3L1248.7 412.3L1249.5 412.3L1250.2 412.3L1251 412.3L1251.7 412.3L1252.5 412.3L1253.2 412.2L1254 412.2L1254.7 412.2L1255.5 412.2L1256.2 412.2L1257 412.2L1257.7 412.2L1258.5 412.1L1259.2 412.1L1260 412.1L1260.7 412.1L1261.5 412.1L1262.2 412L1263 412L1263.7 412L1264.5 411.9L1265.2 411.9L1266 411.9L1266.7 411.8L1267.5 411.8L1268.2 411.7L1269 411.7L1269.7 411.6L1270.5 411.5L1271.2 411.4L1272 411.3L1272.7 411.1L1273.5 410.8L1274.2 410.4L1275 409.8L1275.7 409.1L1276.5 408L1277.2 406.5L1278 404.6L1278.7 402.2L1279.5 399.3L1280.2 395.7L1281 391.7L1281.7 387.4L1282.5 382.8L1283.2 378.4L1284 374.4L1284.7 371.2L1285.5 369L1286.2 368.3L1287 369L1287.7 371.1L1288.5 374.4L1289.2 378.4L1290 382.8L1290.7 387.3L1291.5 391.7L1292.2 395.7L1293 399.2L1293.7 402.2L1294.5 404.6L1295.2 406.5L1296 407.9L1296.7 409L1297.5 409.7L1298.2 410.3L1299 410.7L1299.7 410.9L1300.5 411.1L1301.2 411.3L1302 411.4L1302.7 411.5L1303.5 411.5L1304.2 411.6L1305 411.6L1305.7 411.7L1306.5 411.7L1307.2 411.7L1308 411.8L1308.7 411.8L1309.5 411.8L1310.2 411.8L1311 411.8L1311.7 411.9L1312.5 411.9L1313.2 411.9L1314 411.9L1314.7 411.9L1315.5 411.9L1316.2 411.9L1317 411.9L1317.7 411.9L1318.5 411.9L1319.2 411.9L1320 412L1320.7 412L1321.5 412L1322.2 412L1323 412L1323.7 412L1324.5 412L1325.2 412L1326 412L1326.7 412L1327.5 412L1328.2 412L1329 412L1329.7 412L1330.5 412L1331.2 412L1332 412L1332.7 412L1333.5 412L1334.2 412L1335 412L1335.7 412L1336.5 412L1337.2 412L1338 412L1338.7 412L1339.5 412L1340.2 412L1341 412L1341.7 412L1342.5 412L1343.2 412L1344 412L1344.7 412L1345.5 412L1346.2 412" fill="none" stroke="#0000ff" stroke-width="2.3"/>
<path d="M788.7 414.7L790.1 412.9L791.5 414.2L792.9 416.6L794.3 414.7L795.7 414.6L797.1 409.3L798.5 411.2L799.9 412.9L801.3 410L802.7 412.7L804.1 410.9L805.5 410.9L806.9 407.4L808.3 413.1L809.7 409L811.1 404.4L812.5 403.9L813.9 408.6L815.3 400.2L816.7 401.7L818.1 400.5L819.5 396.7L820.9 392.4L822.3 394.2L823.7 393.2L825.1 393.8L826.5 391.7L827.9 388.8L829.3 389.9L830.7 388.4L832.1 387L833.5 386.3L834.9 385.4L836.3 387.8L837.7 383.9L839.1 385.4L840.5 387.6L841.9 385L843.3 388.5L844.7 385.9L846.1 390.4L847.5 394.7L848.9 396.2L850.3 396.1L851.7 397.2L853.1 395.8L854.5 404.9L855.9 403.1L857.3 405.8L858.7 402.2L860.1 405L861.5 402.1L862.9 409.2L864.3 410.4L865.7 404.3L867.1 409.4L868.5 411.6L869.9 406.3L871.3 406.5L872.7 408.7L874.1 410L875.5 408.3L876.9 412L878.3 412.6L879.7 413.6L881.1 413.9L882.5 415.9L883.9 415.1L885.3 409.2L886.7 411.1L888.1 409.8L889.5 409.7L890.9 412.1L892.3 412.3L893.7 413.4L895.1 408.4L896.5 409.2L897.9 412.1L899.3 411.7L900.7 411.4L902.1 411.9L903.5 410.2L904.9 413.6L906.3 412.8L907.7 411.6L909.1 410.2L910.5 411.3L911.9 405.1L913.3 409.2L914.7 411.6L916.1 407.8L917.5 411.8L918.9 411.6L920.3 407.8L921.7 410.4L923.1 410.1L924.5 411.8L925.9 412L927.3 410.2L928.7 408L930.1 409.5L931.5 409.4L932.9 411L934.3 409.6L935.7 406.7L937.1 404.7L938.5 406.4L939.9 404.7L941.3 402.7L942.7 403.4L944.1 400L945.5 397.8L946.9 393.8L948.3 385.5L949.7 385.5L951.1 372.7L952.5 370.2L953.9 362.1L955.3 359L956.7 345.9L958.1 347.1L959.5 349.9L960.9 354L962.3 362.5L963.7 361.4L965.1 366.4L966.5 367.4L967.9 369.9L969.3 370.5L970.7 370.2L972.1 373.2L973.5 371.2L974.9 379.5L976.3 378L977.7 385.4L979.1 394L980.5 391.6L981.9 394.1L983.3 397.3L984.7 394.3L986.1 391.7L987.5 394L988.9 395L990.3 395.6L991.7 392.2L993.1 397.8L994.5 396.6L995.9 391.2L997.3 390.6L998.7 388.3L1000.1 392.8L1001.5 388.4L1002.9 392.5L1004.3 390.6L1005.7 391L1007.1 395.7L1008.5 399L1009.9 398.3L1011.3 399.5L1012.7 406L1014.1 406.4L1015.5 409.1L1016.9 413.3L1018.3 413.1L1019.7 409.6L1021.1 416.5L1022.5 411.2L1023.9 413.1L1025.3 409.8L1026.7 411.2L1028.1 407.2L1029.5 415.7L1030.9 414.7L1032.3 408.5L1033.7 407.9L1035.1 407.6L1036.5 414.3L1037.9 410.4L1039.3 411.4L1040.7 410.8L1042.1 411.3L1043.5 408.9L1044.9 411.6L1046.3 408.1L1047.7 411.4L1049.1 412.3L1050.5 412.7L1051.9 411L1053.3 409.4L1054.7 411.9L1056.1 410.4L1057.5 415.3L1058.9 413.3L1060.3 411.1L1061.7 410.1L1063.1 409.4L1064.5 408.7L1065.9 409.8L1067.3 411L1068.7 411.1L1070.1 410.7L1071.5 413.7L1072.9 406.1L1074.3 406.9L1075.7 412.6L1077.1 400.2L1078.5 402.2L1079.9 402.4L1081.3 400.9L1082.7 399.9L1084.1 396.7L1085.5 396.5L1086.9 394.1L1088.3 394.2L1089.7 386.2L1091.1 387L1092.5 387.6L1093.9 383.7L1095.3 382.4L1096.7 385.2L1098.1 381L1099.5 383L1100.9 382.4L1102.3 380.6L1103.7 380.3L1105.1 378.3L1106.5 374.6L1107.9 377.5L1109.3 378.3L1110.7 375.7L1112.1 376.5L1113.5 378.3L1114.9 374.3L1116.3 377.8L1117.7 380.6L1119.1 374.8L1120.5 376.4L1121.9 375.7L1123.3 379.7L1124.7 376.7L1126.1 378.1L1127.5 374.3L1128.9 375.8L1130.3 375.8L1131.7 371.6L1133.1 379.3L1134.5 377.9L1135.9 371.6L1137.3 377.5L1138.7 375.5L1140.1 376.9L1141.5 376.7L1142.9 372.4L1144.3 375.6L1145.7 379.9L1147.1 375.2L1148.5 374.4L1149.9 374L1151.3 374.8L1152.7 379.1L1154.1 383L1155.5 380.7L1156.9 381.1L1158.3 386.9L1159.7 381.3L1161.1 382.1L1162.5 386.3L1163.9 387.7L1165.3 385.4L1166.7 386.5L1168.1 391.6L1169.5 393L1170.9 390.9L1172.3 395.1L1173.7 395.7L1175.1 399.6L1176.5 399.6L1177.9 400.9L1179.3 401.4L1180.7 405.7L1182.1 407.4L1183.5 403.9L1184.9 407.4L1186.3 404L1187.7 406.3L1189.1 408.2L1190.5 410.1L1191.9 405.6L1193.3 406.3L1194.7 406.8L1196.1 402.5L1197.5 405.9L1198.9 404L1200.3 406.2L1201.7 402.2L1203.1 399.7L1204.5 404.1L1205.9 404.2L1207.3 401.6L1208.7 404.5L1210.1 401L1211.5 399.4L1212.9 401.1L1214.3 395.2L1215.7 396.1L1217.1 396.3L1218.5 396.8L1219.9 392.4L1221.3 391.2L1222.7 386L1224.1 384.8L1225.5 383.8L1226.9 373L1228.3 374.1L1229.7 359.5L1231.1 352.4L1232.5 342.8L1233.9 333.4L1235.3 315.2L1236.7 299.3L1238.1 291.2L1239.5 276.8L1240.9 262.3L1242.3 254.9L1243.7 240L1245.1 235.4L1246.5 237.4L1247.9 241.4L1249.3 254.1L1250.7 259.7L1252.1 276L1253.5 283.4L1254.9 308.1L1256.3 319L1257.7 334.6L1259.1 348.7L1260.5 353.2L1261.9 360.8L1263.3 367L1264.7 371.5L1266.1 375.9L1267.5 381.3L1268.9 380.8L1270.3 380.7L1271.7 379.1L1273.1 380.4L1274.5 378.3L1275.9 375.9L1277.3 377.1L1278.7 373.9L1280.1 369.4L1281.5 372.3L1282.9 366.2L1284.3 359.8L1285.7 364.1L1287.1 364.7L1288.5 364.8L1289.9 378.1L1291.3 380.6L1292.7 386.5L1294.1 388L1295.5 388.9L1296.9 386.4L1298.3 393L1299.7 391.6L1301.1 392.2L1302.5 395.6L1303.9 397.2L1305.3 401L1306.7 400.7L1308.1 403.4L1309.5 399.9L1310.9 405.1L1312.3 408.6L1313.7 410.7L1315.1 407L1316.5 407.8L1317.9 412.1L1319.3 407.7L1320.7 410.3L1322.1 412.7L1323.5 408.8L1324.9 411.8L1326.3 407.2L1327.7 409.5L1329.1 408.8L1330.5 409.4L1331.9 411.9L1333.3 414.9L1334.7 407.7L1336.1 407.9L1337.5 410.6L1338.9 406.9L1340.3 410.6L1341.7 410.9L1343.1 408.9L1344.5 410.8L1345.9 405.9L1347.3 411.5L1348.7 406" fill="none" stroke="#808080" stroke-width="1.8" stroke-linejoin="round"/>
<path d="M787.7 414.5L1352.2 412" stroke="#ff0000" stroke-width="3.5"/>
</g>
<rect x="787.7" y="6" width="564.5" height="415.5" fill="none" stroke="#000" stroke-width="2.2"/>
<path d="M831.2 421.5v10M961 421.5v10M1090.8 421.5v10M1220.5 421.5v10M1350.3 421.5v10" stroke="#000" stroke-width="2"/>
<path d="M896.1 421.5v5M1025.9 421.5v5M1155.7 421.5v5M1285.4 421.5v5" stroke="#000" stroke-width="2"/>
<text x="831.2" y="463.5" font-size="33" text-anchor="middle">963</text>
<text x="961" y="463.5" font-size="33" text-anchor="middle">954</text>
<text x="1090.8" y="463.5" font-size="33" text-anchor="middle">945</text>
<text x="1220.5" y="463.5" font-size="33" text-anchor="middle">936</text>
<text x="1350.3" y="463.5" font-size="33" text-anchor="middle">927</text>
<text x="1070" y="495" font-size="35.5" text-anchor="middle">Binding energy (eV)</text>
<text transform="translate(775.5 219) rotate(-90)" font-size="35.5" text-anchor="middle">Intensity</text>
<rect x="807.5" y="23.3" width="56" height="28" fill="url(#gr)" stroke="#999" stroke-width="1"/>
<rect x="807.5" y="61.5" width="56" height="27.2" fill="url(#gb)" stroke="#000" stroke-width="1"/>
<text x="873" y="47.5" font-size="29" fill="#ee3a3f">Cu<tspan font-size="18" dy="-13">2+</tspan></text>
<text x="873" y="84.8" font-size="29" fill="#1464dc">Cu<tspan font-size="18" dy="-13">+</tspan></text>
<text x="1016" y="52" font-size="25.5">CuN<tspan font-size="17.5" dy="6">3</tspan><tspan dy="-6">-SAzyme</tspan></text>
<text x="1012" y="272.5" font-size="25.5">CuN<tspan font-size="17.5" dy="6">4</tspan><tspan dy="-6">-SAzyme</tspan></text>
<text x="746.5" y="31" font-size="44" font-weight="bold">b</text>
<g clip-path="url(#clipc)">
<path d="M1450.6 71.8C1454.3 71.7 1466.2 71.6 1473 71.1C1479.8 70.6 1485.1 69.2 1491.2 69C1497.3 68.8 1504.3 70.6 1509.4 69.7C1514.5 68.8 1517.6 65.7 1522 63.4C1526.4 61.1 1531.1 57.6 1536 55.7C1540.9 53.8 1546.7 54 1551.4 52.2C1556.1 50.5 1559.3 48 1564 45.2C1568.7 42.4 1575 36.6 1579.4 35.4C1583.8 34.2 1586.6 35.9 1590.6 38.2C1594.6 40.5 1599.5 45.4 1603.2 49.4C1606.9 53.4 1609.7 58.7 1613 62C1616.3 65.3 1618.1 68.3 1622.8 69C1627.5 69.7 1635.6 66.9 1641 66.2C1646.4 65.5 1649.9 65 1655 65.1C1660.1 65.2 1666.4 67 1671.8 66.9C1677.2 66.9 1681.4 64.6 1687.2 64.8C1693 65 1700.1 68.5 1706.8 68.3C1713.5 68.1 1721.1 63.8 1727.6 63.4C1734.1 63 1739.7 66.1 1745.8 66.2C1751.9 66.3 1756.3 63.9 1764 64.1C1771.7 64.3 1781.5 66.4 1792 67.6C1802.5 68.8 1816.5 70.8 1827 71.1C1837.5 71.4 1845.7 69.6 1855 69.7C1864.3 69.8 1871.3 71.3 1883 71.5C1894.7 71.7 1914.5 70.9 1925 71.1C1935.5 71.3 1934.8 72.3 1946 72.5C1957.2 72.7 1984.2 72.2 1991.9 72.1" fill="none" stroke="#b277e2" stroke-width="3" stroke-linejoin="round" stroke-linecap="round"/>
<path d="M1450.6 133.4C1452.7 133.5 1458.5 134.3 1463.2 134.1C1467.9 133.9 1473.9 132.1 1478.6 132C1483.3 131.9 1485.8 134.4 1491.2 133.7C1496.6 133 1505.7 128.9 1510.8 127.8C1515.9 126.7 1517.1 129.2 1522 127.1C1526.9 125 1534.8 117.8 1540.2 115.2C1545.6 112.6 1550 114 1554.2 111.7C1558.4 109.4 1561 105.4 1565.4 101.2C1569.8 97 1576.8 88.5 1580.8 86.5C1584.8 84.5 1586.2 85.9 1589.2 89.3C1592.2 92.7 1595 100.2 1599 106.8C1603 113.4 1608.6 125.5 1613 129.2C1617.4 132.9 1620 127.8 1625.6 129.2C1631.2 130.6 1639.8 139 1646.6 137.6C1653.4 136.2 1659.7 126.4 1666.2 120.8C1672.7 115.2 1680.7 107.4 1685.8 104C1690.9 100.6 1692.8 100.3 1697 100.5C1701.2 100.7 1705.7 102.5 1711 105.4C1716.3 108.3 1723.7 114.6 1729 118C1734.3 121.4 1736 123.6 1743 125.7C1750 127.8 1761.7 129.2 1771 130.6C1780.3 132 1787.3 133.8 1799 134.1C1810.7 134.4 1829.3 132.7 1841 132.7C1852.7 132.7 1857.3 134.2 1869 134.1C1880.7 134 1898.2 132 1911 132C1923.8 132 1935.5 133 1946 134.1C1956.5 135.2 1966.3 137.9 1974 138.3C1981.7 138.7 1988.9 136.8 1991.9 136.5" fill="none" stroke="#c99700" stroke-width="3" stroke-linejoin="round" stroke-linecap="round"/>
<path d="M1450.6 212.5C1454.3 211.9 1466 209.4 1473 209C1480 208.6 1485.1 211.2 1492.6 210.1C1500.1 209 1510.6 204.3 1517.8 202.7C1525 201.1 1530.6 203 1536 200.6C1541.4 198.2 1544.6 193.4 1550 188C1555.4 182.6 1562.4 173.3 1568.2 168.4C1574 163.5 1580.8 160.1 1585 158.6C1589.2 157.1 1589.9 157.4 1593.4 159.3C1596.9 161.2 1601.3 164.3 1606 169.8C1610.7 175.3 1616.4 185.5 1621.4 192.2C1626.4 198.8 1630.5 209.5 1636.1 209.7C1641.7 209.9 1648.3 197.1 1655 193.6C1661.7 190.1 1669 188.7 1676 188.7C1683 188.7 1690.5 191.7 1697 193.6C1703.5 195.5 1707.8 196.3 1715 199.9C1722.2 203.5 1734.4 213.8 1740.2 215.3C1746 216.8 1744.9 210.5 1750 209C1755.1 207.5 1764 206.1 1771 206.2C1778 206.3 1784.3 208.2 1792 209.7C1799.7 211.2 1807.9 215 1817.2 215.3C1826.5 215.7 1839.4 212.2 1848 211.8C1856.6 211.5 1859 214.1 1869 213.2C1879 212.3 1896.5 206.8 1908.2 206.2C1919.9 205.6 1929.2 209.3 1939 209.7C1948.8 210 1958.2 208.1 1967 208.3C1975.8 208.5 1987.8 210.6 1991.9 211.1" fill="none" stroke="#1a6ae0" stroke-width="3" stroke-linejoin="round" stroke-linecap="round"/>
<path d="M1450.6 294.3C1456.7 293.7 1478.2 292 1487.1 290.7C1496 289.4 1498.8 287.6 1504 286.5C1509.2 285.4 1513.8 286.1 1518 284.4C1522.2 282.6 1525.1 279.3 1529.3 276C1533.5 272.7 1539.1 267.2 1543.3 264.8C1547.5 262.4 1551.2 262.4 1554.5 261.3C1557.8 260.2 1560.2 260.4 1563 258.4C1565.8 256.4 1568.6 253.2 1571.4 249.3C1574.2 245.5 1576.8 239.2 1579.8 235.3C1582.8 231.4 1586.8 227 1589.6 226.1C1592.4 225.2 1594.1 227.2 1596.7 229.7C1599.3 232.2 1602.3 236 1605.1 240.9C1607.9 245.8 1610.7 252.6 1613.5 259.2C1616.3 265.8 1619.8 274.3 1622 280.2C1624.2 286.1 1624.3 293.5 1626.9 294.3C1629.5 295.1 1633.6 286.4 1637.4 285.1C1641.2 283.8 1645.3 286.9 1650 286.5C1654.7 286.1 1660.6 283.4 1665.5 283C1670.4 282.6 1673.9 285.1 1679.5 284.4C1685.1 283.7 1693.8 279 1699.2 278.8C1704.6 278.6 1707.8 280.4 1711.8 283C1715.8 285.6 1718.2 294.2 1723.4 294.3C1728.6 294.4 1736.3 284.4 1743.1 283.7C1749.9 283 1756 289.2 1764.2 290C1772.4 290.8 1782.6 287.8 1792.2 288.6C1801.8 289.4 1812.3 294.5 1821.7 295C1831.1 295.5 1839.3 291.4 1848.4 291.4C1857.5 291.4 1868.3 295 1876.5 295C1884.7 295 1889.4 291.6 1897.6 291.4C1905.8 291.2 1917.4 293.6 1925.6 294C1933.8 294.4 1940.1 293.4 1946.7 293.6C1953.3 293.8 1957.3 294.9 1965 295C1972.7 295.1 1988.2 294.4 1992.8 294.3" fill="none" stroke="#ed3a40" stroke-width="3" stroke-linejoin="round" stroke-linecap="round"/>
<path d="M1450.6 405.2C1464.9 405 1518 404.6 1536.3 403.8C1554.6 403 1553.2 400.5 1560.2 400.3C1567.2 400.1 1572.6 403.4 1578.4 402.4C1584.2 401.3 1590.2 396.6 1595.3 394C1600.4 391.4 1605.1 390.6 1609.3 386.9C1613.5 383.1 1617 378.5 1620.5 371.5C1624 364.5 1626.9 353.7 1630.4 344.8C1633.9 335.9 1638.1 324.7 1641.6 318.1C1645.1 311.6 1648.6 307.1 1651.4 305.5C1654.2 303.9 1655.5 304.3 1658.5 308.3C1661.5 312.3 1666 320.5 1669.7 329.4C1673.5 338.3 1677.5 351.9 1681 361.7C1684.5 371.5 1687.8 382.4 1690.8 388.3C1693.8 394.2 1692.8 395.3 1699.2 396.8C1705.6 398.3 1719.8 399.5 1729 397.5C1738.2 395.5 1745.2 385.4 1754.3 384.8C1763.4 384.2 1774 395.8 1783.8 394C1793.6 392.2 1806.8 378.3 1813.3 374.3C1819.8 370.3 1817.2 369.2 1823.1 370.1C1828.9 371 1838.3 378.1 1848.4 379.9C1858.5 381.6 1875.3 379.9 1883.5 380.6C1891.7 381.3 1890.6 381.6 1897.6 384.1C1904.6 386.6 1916.2 392.5 1925.6 395.4C1934.9 398.3 1944.3 400.2 1953.7 401.7C1963.1 403.2 1975.3 404.3 1981.8 404.5C1988.3 404.7 1991 403.3 1992.8 403.1" fill="none" stroke="#4b4b4b" stroke-width="3" stroke-linejoin="round" stroke-linecap="round"/>
</g>
<path d="M1590.2 23.5V274.6" stroke="#ee3a40" stroke-width="4.2" stroke-dasharray="8.5 4.5"/>
<path d="M1650 227.6V396.8" stroke="#6e6e6e" stroke-width="4.2" stroke-dasharray="8.5 4.5"/>
<rect x="1450.7" y="5" width="541.2" height="417" fill="none" stroke="#000" stroke-width="2.2"/>
<path d="M1450.7 422v9M1631.1 422v9M1811.5 422v9M1991.9 422v9" stroke="#000" stroke-width="2"/>
<path d="M1540.9 422v5M1721.3 422v5M1901.7 422v5" stroke="#000" stroke-width="2"/>
<text x="1450.7" y="463.5" font-size="33" text-anchor="middle">0</text>
<text x="1631.1" y="463.5" font-size="33" text-anchor="middle">2</text>
<text x="1811.5" y="463.5" font-size="33" text-anchor="middle">4</text>
<text x="1991.9" y="463.5" font-size="33" text-anchor="middle">6</text>
<text x="1721" y="497" font-size="35.5" text-anchor="middle">R (Å)</text>
<text transform="translate(1436 213.5) rotate(-90)" font-size="37" text-anchor="middle">|FT(<tspan font-family="Liberation Serif" font-style="italic">k</tspan><tspan font-size="22" dy="-13">2</tspan><tspan dy="13" font-family="Liberation Serif" font-style="italic">χ</tspan>(<tspan font-family="Liberation Serif" font-style="italic">k</tspan>))| (Å<tspan font-size="22" dy="-13">-3</tspan><tspan dy="13">)</tspan></text>
<text x="1815.8" y="56.7" font-size="25" fill="#b277e2">CuN<tspan font-size="17" dy="6">3</tspan><tspan dy="-6">-SAzyme</tspan></text>
<text x="1816.9" y="121.5" font-size="25" fill="#c99700">Cu<tspan font-size="17" dy="6">2</tspan><tspan dy="-6">O</tspan></text>
<text x="1815.5" y="204.8" font-size="25" fill="#1a6ae0">CuO</text>
<text x="1815.8" y="279.5" font-size="25" fill="#ed3a40">CuN<tspan font-size="17" dy="6">4</tspan><tspan dy="-6">-SAzyme</tspan></text>
<text x="1817.5" y="361.7" font-size="25.5" fill="#4b4b4b">Cu foil</text>
<text x="1494.9" y="329.4" font-size="32" font-weight="bold" fill="#ed3a40">Cu-N/O</text>
<text x="1685.8" y="347.6" font-size="32" font-weight="bold" fill="#6e6e6e">Cu-Cu</text>
<text x="1408" y="31.5" font-size="45" font-weight="bold">c</text>
<g clip-path="url(#clipd)">
<g fill="none" stroke="#000" stroke-width="1.1"><circle cx="94.8" cy="881.5" r="4.3"/><circle cx="97.3" cy="881.9" r="4.3"/><circle cx="99.8" cy="882.2" r="4.3"/><circle cx="102.3" cy="882.8" r="4.3"/><circle cx="104.7" cy="883.8" r="4.3"/><circle cx="107.2" cy="885.1" r="4.3"/><circle cx="109.7" cy="886.4" r="4.3"/><circle cx="112.2" cy="887.2" r="4.3"/><circle cx="114.7" cy="886.9" r="4.3"/><circle cx="117.2" cy="885.1" r="4.3"/><circle cx="119.7" cy="881.9" r="4.3"/><circle cx="122.2" cy="878.3" r="4.3"/><circle cx="124.6" cy="874.5" r="4.3"/><circle cx="127.1" cy="869.8" r="4.3"/><circle cx="129.6" cy="865.8" r="4.3"/><circle cx="132.1" cy="864.3" r="4.3"/><circle cx="134.6" cy="865.7" r="4.3"/><circle cx="137.1" cy="868.1" r="4.3"/><circle cx="139.6" cy="869.9" r="4.3"/><circle cx="142.1" cy="871.9" r="4.3"/><circle cx="144.5" cy="873.2" r="4.3"/><circle cx="147" cy="870.8" r="4.3"/><circle cx="149.5" cy="862.7" r="4.3"/><circle cx="152" cy="850.1" r="4.3"/><circle cx="154.5" cy="835.7" r="4.3"/><circle cx="157" cy="823.9" r="4.3"/><circle cx="159.5" cy="809.9" r="4.3"/><circle cx="162" cy="790.3" r="4.3"/><circle cx="164.4" cy="777.7" r="4.3"/><circle cx="166.9" cy="767.3" r="4.3"/><circle cx="169.4" cy="760.3" r="4.3"/><circle cx="171.9" cy="753.5" r="4.3"/><circle cx="174.4" cy="746.8" r="4.3"/><circle cx="176.9" cy="743.5" r="4.3"/><circle cx="179.4" cy="740" r="4.3"/><circle cx="181.9" cy="734.8" r="4.3"/><circle cx="184.3" cy="729.3" r="4.3"/><circle cx="186.8" cy="722.7" r="4.3"/><circle cx="189.3" cy="711.3" r="4.3"/><circle cx="191.8" cy="695.6" r="4.3"/><circle cx="194.3" cy="679.2" r="4.3"/><circle cx="196.8" cy="665.2" r="4.3"/><circle cx="199.3" cy="640.9" r="4.3"/><circle cx="201.8" cy="623.9" r="4.3"/><circle cx="204.2" cy="611.3" r="4.3"/><circle cx="206.7" cy="602.3" r="4.3"/><circle cx="209.2" cy="594.2" r="4.3"/><circle cx="211.7" cy="593" r="4.3"/><circle cx="214.2" cy="598.2" r="4.3"/><circle cx="216.7" cy="606.5" r="4.3"/><circle cx="219.2" cy="619.8" r="4.3"/><circle cx="221.7" cy="638.7" r="4.3"/><circle cx="224.1" cy="655.7" r="4.3"/><circle cx="226.6" cy="675.2" r="4.3"/><circle cx="229.1" cy="708.8" r="4.3"/><circle cx="231.6" cy="738.6" r="4.3"/><circle cx="234.1" cy="759.4" r="4.3"/><circle cx="236.6" cy="782.6" r="4.3"/><circle cx="239.1" cy="807.2" r="4.3"/><circle cx="241.6" cy="836.6" r="4.3"/><circle cx="244" cy="853.3" r="4.3"/><circle cx="246.5" cy="861.5" r="4.3"/><circle cx="249" cy="866.6" r="4.3"/><circle cx="251.5" cy="866.8" r="4.3"/><circle cx="254" cy="863" r="4.3"/><circle cx="256.5" cy="859.4" r="4.3"/><circle cx="259" cy="855.7" r="4.3"/><circle cx="261.5" cy="851.8" r="4.3"/><circle cx="263.9" cy="847.4" r="4.3"/><circle cx="266.4" cy="842.9" r="4.3"/><circle cx="268.9" cy="839.8" r="4.3"/><circle cx="271.4" cy="837.3" r="4.3"/><circle cx="273.9" cy="835.3" r="4.3"/><circle cx="276.4" cy="834.2" r="4.3"/><circle cx="278.9" cy="834.3" r="4.3"/><circle cx="281.4" cy="835.6" r="4.3"/><circle cx="283.8" cy="837.3" r="4.3"/><circle cx="286.3" cy="838.5" r="4.3"/><circle cx="288.8" cy="839.7" r="4.3"/><circle cx="291.3" cy="840.6" r="4.3"/><circle cx="293.8" cy="840.8" r="4.3"/><circle cx="296.3" cy="839.8" r="4.3"/><circle cx="298.8" cy="837.8" r="4.3"/><circle cx="301.3" cy="835.5" r="4.3"/><circle cx="303.7" cy="833.6" r="4.3"/><circle cx="306.2" cy="833.3" r="4.3"/><circle cx="308.7" cy="835.2" r="4.3"/><circle cx="311.2" cy="838.9" r="4.3"/><circle cx="313.7" cy="843.3" r="4.3"/><circle cx="316.2" cy="848.6" r="4.3"/><circle cx="318.7" cy="852.5" r="4.3"/><circle cx="321.2" cy="855.3" r="4.3"/><circle cx="323.6" cy="855.6" r="4.3"/><circle cx="326.1" cy="850.7" r="4.3"/><circle cx="328.6" cy="844.1" r="4.3"/><circle cx="331.1" cy="837.6" r="4.3"/><circle cx="333.6" cy="831.3" r="4.3"/><circle cx="336.1" cy="826.6" r="4.3"/><circle cx="338.6" cy="823.8" r="4.3"/><circle cx="341.1" cy="823.1" r="4.3"/><circle cx="343.5" cy="824.2" r="4.3"/><circle cx="346" cy="826.7" r="4.3"/><circle cx="348.5" cy="829.8" r="4.3"/><circle cx="351" cy="833.3" r="4.3"/><circle cx="353.5" cy="837.9" r="4.3"/><circle cx="356" cy="842.3" r="4.3"/><circle cx="358.5" cy="844.8" r="4.3"/><circle cx="361" cy="843.8" r="4.3"/><circle cx="363.4" cy="840.3" r="4.3"/><circle cx="365.9" cy="836.2" r="4.3"/><circle cx="368.4" cy="833.3" r="4.3"/><circle cx="370.9" cy="831.1" r="4.3"/><circle cx="373.4" cy="829.5" r="4.3"/><circle cx="375.9" cy="828.9" r="4.3"/><circle cx="378.4" cy="829.6" r="4.3"/><circle cx="380.9" cy="831.3" r="4.3"/><circle cx="383.3" cy="833.7" r="4.3"/><circle cx="385.8" cy="837" r="4.3"/><circle cx="388.3" cy="841.1" r="4.3"/><circle cx="390.8" cy="845.3" r="4.3"/><circle cx="393.3" cy="848.7" r="4.3"/><circle cx="395.8" cy="851.5" r="4.3"/><circle cx="398.3" cy="854" r="4.3"/><circle cx="400.8" cy="856.6" r="4.3"/><circle cx="403.2" cy="859.3" r="4.3"/><circle cx="405.7" cy="862.3" r="4.3"/><circle cx="408.2" cy="865.3" r="4.3"/><circle cx="410.7" cy="868.1" r="4.3"/><circle cx="413.2" cy="870.8" r="4.3"/><circle cx="415.7" cy="873.5" r="4.3"/><circle cx="418.2" cy="875.9" r="4.3"/><circle cx="420.7" cy="878" r="4.3"/><circle cx="423.1" cy="879.7" r="4.3"/><circle cx="425.6" cy="881.1" r="4.3"/><circle cx="428.1" cy="882.3" r="4.3"/><circle cx="430.6" cy="883.3" r="4.3"/><circle cx="433.1" cy="883.8" r="4.3"/><circle cx="435.6" cy="883.2" r="4.3"/><circle cx="438.1" cy="881.6" r="4.3"/><circle cx="440.6" cy="879.6" r="4.3"/><circle cx="443" cy="877.8" r="4.3"/><circle cx="445.5" cy="876.3" r="4.3"/><circle cx="448" cy="874.9" r="4.3"/><circle cx="450.5" cy="873.9" r="4.3"/><circle cx="453" cy="873.5" r="4.3"/><circle cx="455.5" cy="874.1" r="4.3"/><circle cx="458" cy="875.3" r="4.3"/><circle cx="460.5" cy="876.8" r="4.3"/><circle cx="462.9" cy="878.5" r="4.3"/><circle cx="465.4" cy="880.1" r="4.3"/><circle cx="467.9" cy="882.2" r="4.3"/><circle cx="470.4" cy="884.3" r="4.3"/><circle cx="472.9" cy="885.6" r="4.3"/><circle cx="475.4" cy="885.5" r="4.3"/><circle cx="477.9" cy="884.4" r="4.3"/><circle cx="480.4" cy="883" r="4.3"/><circle cx="482.8" cy="882.1" r="4.3"/><circle cx="485.3" cy="882.2" r="4.3"/><circle cx="487.8" cy="883.1" r="4.3"/><circle cx="490.3" cy="884.3" r="4.3"/><circle cx="492.8" cy="885.7" r="4.3"/><circle cx="495.3" cy="887.2" r="4.3"/><circle cx="497.8" cy="890.6" r="4.3"/><circle cx="500.3" cy="889.9" r="4.3"/><circle cx="502.7" cy="885.7" r="4.3"/><circle cx="505.2" cy="881.9" r="4.3"/><circle cx="507.7" cy="879.6" r="4.3"/><circle cx="510.2" cy="877.8" r="4.3"/><circle cx="512.7" cy="876.5" r="4.3"/><circle cx="515.2" cy="875.9" r="4.3"/><circle cx="517.7" cy="876.1" r="4.3"/><circle cx="520.2" cy="877.1" r="4.3"/><circle cx="522.6" cy="878.6" r="4.3"/><circle cx="525.1" cy="880.6" r="4.3"/><circle cx="527.6" cy="882.9" r="4.3"/><circle cx="530.1" cy="886.2" r="4.3"/><circle cx="532.6" cy="890.9" r="4.3"/><circle cx="535.1" cy="894.6" r="4.3"/><circle cx="537.6" cy="892.4" r="4.3"/><circle cx="540.1" cy="888.2" r="4.3"/><circle cx="542.5" cy="886" r="4.3"/><circle cx="545" cy="884.1" r="4.3"/><circle cx="547.5" cy="882.9" r="4.3"/><circle cx="550" cy="882.4" r="4.3"/><circle cx="552.5" cy="883" r="4.3"/><circle cx="555" cy="884.2" r="4.3"/><circle cx="557.5" cy="885.7" r="4.3"/><circle cx="560" cy="887.3" r="4.3"/><circle cx="562.4" cy="888.9" r="4.3"/><circle cx="564.9" cy="890.3" r="4.3"/><circle cx="567.4" cy="891.1" r="4.3"/><circle cx="569.9" cy="890.7" r="4.3"/><circle cx="572.4" cy="888.9" r="4.3"/><circle cx="574.9" cy="887.7" r="4.3"/><circle cx="577.4" cy="886.6" r="4.3"/><circle cx="579.9" cy="885.6" r="4.3"/><circle cx="582.3" cy="885" r="4.3"/><circle cx="584.8" cy="884.8" r="4.3"/><circle cx="587.3" cy="885.2" r="4.3"/><circle cx="589.8" cy="885.8" r="4.3"/><circle cx="592.3" cy="886.5" r="4.3"/><circle cx="594.8" cy="887.1" r="4.3"/><circle cx="597.3" cy="887.8" r="4.3"/><circle cx="599.8" cy="888.1" r="4.3"/><circle cx="602.2" cy="888.2" r="4.3"/><circle cx="604.7" cy="888.1" r="4.3"/><circle cx="607.2" cy="887.9" r="4.3"/><circle cx="609.7" cy="887.7" r="4.3"/><circle cx="612.2" cy="887.8" r="4.3"/><circle cx="614.7" cy="888.3" r="4.3"/><circle cx="617.2" cy="889.3" r="4.3"/><circle cx="619.6" cy="890.6" r="4.3"/><circle cx="622.1" cy="892.1" r="4.3"/><circle cx="624.6" cy="893.4" r="4.3"/><circle cx="627.1" cy="894.4" r="4.3"/><circle cx="629.6" cy="894.7" r="4.3"/><circle cx="632.1" cy="894" r="4.3"/><circle cx="634.6" cy="892.5" r="4.3"/><circle cx="637.1" cy="890.6" r="4.3"/><circle cx="639.5" cy="888.9" r="4.3"/><circle cx="642" cy="887.8" r="4.3"/><circle cx="644.5" cy="887.1" r="4.3"/><circle cx="647" cy="886.6" r="4.3"/><circle cx="649.5" cy="886.1" r="4.3"/><circle cx="652" cy="885.6" r="4.3"/><circle cx="654.5" cy="885.2" r="4.3"/></g>
<path d="M94.8 886.2C97.6 884 106.3 876 111.7 873.1C117 870.2 123.3 870.7 126.9 868.9C130.5 867 130.1 867.8 133.3 862.3C136.5 856.8 142.5 842.5 146.2 836C149.8 829.4 152 830.1 155 823.3C157.9 816.4 160.9 804.9 163.8 795.1C166.7 785.3 170.1 772.5 172.6 764.5C175.2 756.5 176.9 752.5 179.1 747.1C181.2 741.7 183.7 737.9 185.5 732.1C187.2 726.3 188 719.9 189.5 712.3C191 704.7 192.8 696.3 194.3 686.5C195.8 676.7 196.8 664.1 198.3 653.6C199.8 643.1 201.5 632.5 203.1 623.5C204.7 614.5 206.4 604.7 207.9 599.5C209.5 594.4 210.7 591.8 212.4 592.5C214 593.2 215.9 597.9 217.6 603.8C219.2 609.6 220.9 616.5 222.4 627.7C223.9 638.9 224.9 655.1 226.4 671C227.9 686.9 229.7 705.8 231.2 723.2C232.7 740.5 233.7 759.3 235.2 775.3C236.7 791.3 238.7 807.4 240 819C241.4 830.6 242.4 839.5 243.2 844.9C244.1 850.3 244 852.2 245.2 851.5C246.5 850.8 248.7 843.2 250.5 840.7C252.3 838.1 254.2 835.2 256.1 836C258 836.7 259.7 841.3 261.7 844.9C263.7 848.5 266.1 854.8 268.1 857.6C270.1 860.3 270.8 862 273.7 861.3C276.7 860.6 281.6 853.3 285.8 853.3C289.9 853.3 294.3 859.8 298.6 861.3C302.9 862.8 306.5 860.2 311.4 862.3C316.4 864.4 323.6 872.1 328.3 874C333 876 334.9 872.9 339.5 874C344.2 875.1 351.7 879.7 356.4 880.6C361.1 881.5 363.3 878.6 367.6 879.2C371.9 879.8 377.6 883.7 382.1 884.4C386.5 885.1 389.3 883 394.1 883.4C398.9 883.9 406.1 886.6 410.9 887.2C415.8 887.7 418.6 886.3 423 886.7C427.4 887.1 430.5 888.8 437.4 889.5C444.4 890.2 452.7 890.4 464.7 890.9C476.7 891.5 494.7 892.3 509.6 892.8C524.6 893.3 530.1 893.8 554.6 894C579 894.2 639.5 894 656.5 894" fill="none" stroke="#ff0000" stroke-width="3.2" stroke-linejoin="round" stroke-linecap="round"/>
</g>
<rect x="94.8" y="518" width="561.7" height="398.5" fill="none" stroke="#000" stroke-width="2.2"/>
<path d="M94.8 916.5v9M255.3 916.5v9M415.8 916.5v9M576.2 916.5v9" stroke="#000" stroke-width="2"/>
<path d="M175 916.5v5M335.5 916.5v5M496 916.5v5M656.5 916.5v5" stroke="#000" stroke-width="2"/>
<path d="M94.8 894.7h-9M94.8 800.7h-9M94.8 706.7h-9M94.8 612.7h-9M94.8 518.7h-9" stroke="#000" stroke-width="2"/>
<path d="M94.8 847.7h-5M94.8 753.7h-5M94.8 659.7h-5M94.8 565.7h-5" stroke="#000" stroke-width="2"/>
<text x="94.8" y="955" font-size="33" text-anchor="middle">0</text>
<text x="255.3" y="955" font-size="33" text-anchor="middle">2</text>
<text x="415.8" y="955" font-size="33" text-anchor="middle">4</text>
<text x="576.2" y="955" font-size="33" text-anchor="middle">6</text>
<text x="82.5" y="905.2" font-size="33" text-anchor="end">0.0</text>
<text x="82.5" y="811.2" font-size="33" text-anchor="end">0.2</text>
<text x="82.5" y="717.2" font-size="33" text-anchor="end">0.4</text>
<text x="82.5" y="623.2" font-size="33" text-anchor="end">0.6</text>
<text x="82.5" y="529.2" font-size="33" text-anchor="end">0.8</text>
<text x="376" y="987" font-size="35.5" text-anchor="middle">R (Å)</text>
<text transform="translate(31.5 717) rotate(-90)" font-size="35" text-anchor="middle">|FTk<tspan font-size="21" dy="-12">2</tspan><tspan dy="12">x(k)|</tspan></text>
<circle cx="389.6" cy="606" r="4.1" fill="none" stroke="#000" stroke-width="1.1"/>
<text x="426.3" y="615" font-size="25" fill="#555">CuN<tspan font-size="17" dy="6">3</tspan><tspan dy="-6">-SAzyme</tspan></text>
<path d="M360.5 644.2H418.3" stroke="#ff0000" stroke-width="3"/>
<text x="426.3" y="653.5" font-size="25" fill="#ff0000">Fitting</text>
<text x="5" y="557.5" font-size="44" font-weight="bold">d</text>
<g clip-path="url(#clipe)">
<path d="M789 739L790.1 738.9L791.3 738.8L792.4 738.5L793.5 738L794.6 737.5L795.8 736.9L796.9 736.2L798 735.4L799.1 734.5L800.3 733.6L801.4 732.6L802.5 731.6L803.6 730.6L804.8 729.6L805.9 728.6L807 727.6L808.1 726.6L809.3 725.7L810.4 724.8L811.5 724L812.6 723.3L813.8 722.8L814.9 722.3L816 721.9L817.1 721.6L818.3 721.4L819.4 721.4L820.5 721.4L821.7 721.5L822.8 721.6L823.9 721.7L825 721.9L826.2 722.1L827.3 722.2L828.4 722.3L829.5 722.5L830.7 722.5L831.8 722.6L832.9 722.6L834 722.4L835.2 721.9L836.3 721.2L837.4 720.3L838.5 719.2L839.7 717.9L840.8 716.3L841.9 714.6L843 712.7L844.2 710.7L845.3 708.5L846.4 706.3L847.5 703.9L848.7 701.4L849.8 698.9L850.9 696.4L852 693.8L853.2 691.3L854.3 688.8L855.4 686.3L856.6 683.9L857.7 681.6L858.8 679.4L859.9 677.4L861.1 675.5L862.2 673.8L863.3 672.2L864.4 670.9L865.6 669.8L866.7 668.8L867.8 668.1L868.9 667.7L870.1 667.4L871.2 667.5L872.3 668L873.4 669.2L874.6 670.8L875.7 673L876.8 675.8L877.9 679L879.1 682.7L880.2 686.9L881.3 691.5L882.4 696.5L883.6 701.9L884.7 707.6L885.8 713.6L887 719.8L888.1 726.3L889.2 732.9L890.3 739.6L891.5 746.4L892.6 753.3L893.7 760.1L894.8 766.9L896 773.5L897.1 780L898.2 786.3L899.3 792.3L900.5 798.1L901.6 803.6L902.7 808.6L903.8 813.3L905 817.6L906.1 821.4L907.2 824.8L908.3 827.6L909.5 830L910.6 831.7L911.7 833L912.8 833.7L914 833.8L915.1 833L916.2 831.4L917.4 828.8L918.5 825.4L919.6 821.1L920.7 815.9L921.9 810L923 803.2L924.1 795.8L925.2 787.7L926.4 778.9L927.5 769.7L928.6 759.9L929.7 749.7L930.9 739.1L932 728.3L933.1 717.2L934.2 706L935.4 694.8L936.5 683.5L937.6 672.4L938.7 661.4L939.9 650.7L941 640.2L942.1 630.2L943.2 620.6L944.4 611.5L945.5 603L946.6 595.1L947.7 587.9L948.9 581.4L950 575.8L951.1 570.9L952.3 566.9L953.4 563.8L954.5 561.5L955.6 560.2L956.8 559.8L957.9 560.4L959 562.1L960.1 564.9L961.3 568.8L962.4 573.7L963.5 579.6L964.6 586.4L965.8 594.2L966.9 602.8L968 612.3L969.1 622.5L970.3 633.3L971.4 644.8L972.5 656.8L973.6 669.3L974.8 682.1L975.9 695.2L977 708.5L978.1 721.9L979.3 735.4L980.4 748.7L981.5 761.9L982.7 774.9L983.8 787.5L984.9 799.7L986 811.4L987.2 822.6L988.3 833L989.4 842.8L990.5 851.8L991.7 860L992.8 867.2L993.9 873.5L995 878.8L996.2 883.1L997.3 886.4L998.4 888.6L999.5 889.7L1000.7 889.7L1001.8 888.7L1002.9 886.6L1004 883.6L1005.2 879.6L1006.3 874.7L1007.4 868.9L1008.5 862.1L1009.7 854.6L1010.8 846.2L1011.9 837.1L1013.1 827.3L1014.2 816.9L1015.3 806L1016.4 794.6L1017.6 782.8L1018.7 770.6L1019.8 758.2L1020.9 745.7L1022.1 733L1023.2 720.3L1024.3 707.7L1025.4 695.3L1026.6 683.1L1027.7 671.1L1028.8 659.6L1029.9 648.5L1031.1 638L1032.2 628L1033.3 618.7L1034.4 610.2L1035.6 602.4L1036.7 595.4L1037.8 589.3L1038.9 584.1L1040.1 579.8L1041.2 576.5L1042.3 574.2L1043.4 572.9L1044.6 572.6L1045.7 573.2L1046.8 574.7L1048 576.9L1049.1 580L1050.2 583.9L1051.3 588.6L1052.5 594L1053.6 600.1L1054.7 606.8L1055.8 614.2L1057 622.1L1058.1 630.6L1059.2 639.5L1060.3 648.8L1061.5 658.4L1062.6 668.3L1063.7 678.4L1064.8 688.6L1066 698.9L1067.1 709.2L1068.2 719.4L1069.3 729.4L1070.5 739.3L1071.6 748.8L1072.7 758.1L1073.8 766.9L1075 775.2L1076.1 783L1077.2 790.3L1078.4 796.9L1079.5 802.8L1080.6 808.1L1081.7 812.6L1082.9 816.3L1084 819.2L1085.1 821.3L1086.2 822.6L1087.4 823L1088.5 822.7L1089.6 821.9L1090.7 820.6L1091.9 818.7L1093 816.4L1094.1 813.5L1095.2 810.2L1096.4 806.4L1097.5 802.2L1098.6 797.6L1099.7 792.6L1100.9 787.3L1102 781.7L1103.1 775.8L1104.2 769.7L1105.4 763.4L1106.5 757L1107.6 750.5L1108.7 743.9L1109.9 737.3L1111 730.7L1112.1 724.2L1113.3 717.9L1114.4 711.7L1115.5 705.6L1116.6 699.9L1117.8 694.4L1118.9 689.2L1120 684.4L1121.1 680L1122.3 675.9L1123.4 672.3L1124.5 669.2L1125.6 666.6L1126.8 664.4L1127.9 662.8L1129 661.7L1130.1 661.1L1131.3 661L1132.4 661.4L1133.5 662.1L1134.6 663.2L1135.8 664.7L1136.9 666.6L1138 668.7L1139.1 671.2L1140.3 674L1141.4 677.1L1142.5 680.4L1143.7 683.9L1144.8 687.7L1145.9 691.5L1147 695.5L1148.2 699.6L1149.3 703.8L1150.4 707.9L1151.5 712.1L1152.7 716.2L1153.8 720.2L1154.9 724.1L1156 727.8L1157.2 731.4L1158.3 734.7L1159.4 737.8L1160.5 740.6L1161.7 743.1L1162.8 745.3L1163.9 747.1L1165 748.7L1166.2 749.8L1167.3 750.6L1168.4 751L1169.5 751L1170.7 750.7L1171.8 750.3L1172.9 749.6L1174.1 748.7L1175.2 747.6L1176.3 746.3L1177.4 744.8L1178.6 743.2L1179.7 741.4L1180.8 739.4L1181.9 737.3L1183.1 735.1L1184.2 732.8L1185.3 730.4L1186.4 728L1187.6 725.5L1188.7 723.1L1189.8 720.6L1190.9 718.2L1192.1 715.8L1193.2 713.6L1194.3 711.4L1195.4 709.3L1196.6 707.3L1197.7 705.5L1198.8 703.8L1199.9 702.4L1201.1 701.1L1202.2 700L1203.3 699.1L1204.4 698.5L1205.6 698L1206.7 697.8L1207.8 697.8L1209 698L1210.1 698.4L1211.2 698.9L1212.3 699.7L1213.5 700.5L1214.6 701.6L1215.7 702.8L1216.8 704.1L1218 705.5L1219.1 707.1L1220.2 708.7L1221.3 710.5L1222.5 712.3L1223.6 714.2L1224.7 716.1L1225.8 718L1227 720L1228.1 721.9L1229.2 723.8L1230.3 725.7L1231.5 727.5L1232.6 729.2L1233.7 730.9L1234.8 732.4L1236 733.8L1237.1 735.1L1238.2 736.3L1239.4 737.3L1240.5 738.1L1241.6 738.8L1242.7 739.3L1243.9 739.6L1245 739.8L1246.1 739.8L1247.2 739.7L1248.4 739.5L1249.5 739.2L1250.6 738.8L1251.7 738.3L1252.9 737.7L1254 737L1255.1 736.3L1256.2 735.4L1257.4 734.6L1258.5 733.6L1259.6 732.6L1260.7 731.5L1261.9 730.4L1263 729.2L1264.1 728.1L1265.2 726.9L1266.4 725.6L1267.5 724.4L1268.6 723.2L1269.8 721.9L1270.9 720.7L1272 719.6L1273.1 718.4L1274.3 717.3L1275.4 716.2L1276.5 715.2L1277.6 714.2L1278.8 713.4L1279.9 712.5L1281 711.8L1282.1 711.1L1283.3 710.5L1284.4 710L1285.5 709.6L1286.6 709.3L1287.8 709.1L1288.9 709L1290 709L1291.1 709L1292.3 709.1L1293.4 709.2L1294.5 709.3L1295.6 709.4L1296.8 709.6L1297.9 709.8L1299 710L1300.1 710.2L1301.3 710.5L1302.4 710.8L1303.5 711.1L1304.7 711.5L1305.8 711.8L1306.9 712.2L1308 712.6L1309.2 713L1310.3 713.5L1311.4 713.9L1312.5 714.4L1313.7 714.8L1314.8 715.3L1315.9 715.8L1317 716.3L1318.2 716.8L1319.3 717.3L1320.4 717.8L1321.5 718.3L1322.7 718.9L1323.8 719.4L1324.9 719.9L1326 720.4L1327.2 720.9L1328.3 721.3L1329.4 721.8L1330.5 722.3L1331.7 722.7L1332.8 723.1L1333.9 723.5L1335.1 723.9L1336.2 724.3L1337.3 724.7L1338.4 725L1339.6 725.3L1340.7 725.6L1341.8 725.9L1342.9 726.1L1344.1 726.3L1345.2 726.5L1346.3 726.6L1347.4 726.8L1348.6 726.9L1349.7 726.9L1350.8 727L1351.9 727" fill="none" stroke="#000" stroke-width="3.4" stroke-linejoin="round"/>
<path d="M789 739.8L790.1 739.7L791.3 739.5L792.4 739.2L793.5 738.8L794.6 738.2L795.8 737.5L796.9 736.7L798 735.9L799.1 734.9L800.3 733.9L801.4 732.9L802.5 731.8L803.6 730.6L804.8 729.5L805.9 728.4L807 727.3L808.1 726.3L809.3 725.3L810.4 724.3L811.5 723.5L812.6 722.7L813.8 722.1L814.9 721.5L816 721.1L817.1 720.8L818.3 720.6L819.4 720.6L820.5 720.6L821.7 720.7L822.8 720.9L823.9 721.1L825 721.3L826.2 721.5L827.3 721.7L828.4 721.9L829.5 722L830.7 722.1L831.8 722.2L832.9 722.2L834 722L835.2 721.5L836.3 720.8L837.4 719.9L838.5 718.7L839.7 717.3L840.8 715.8L841.9 714L843 712.1L844.2 710L845.3 707.8L846.4 705.5L847.5 703.1L848.7 700.6L849.8 698L850.9 695.4L852 692.8L853.2 690.2L854.3 687.6L855.4 685.1L856.6 682.7L857.7 680.3L858.8 678.1L859.9 676L861.1 674.1L862.2 672.3L863.3 670.8L864.4 669.4L865.6 668.2L866.7 667.3L867.8 666.6L868.9 666.1L870.1 665.8L871.2 665.9L872.3 666.4L873.4 667.6L874.6 669.3L875.7 671.6L876.8 674.3L877.9 677.6L879.1 681.5L880.2 685.7L881.3 690.4L882.4 695.5L883.6 701L884.7 706.9L885.8 713L887 719.4L888.1 726L889.2 732.7L890.3 739.6L891.5 746.6L892.6 753.5L893.7 760.5L894.8 767.4L896 774.2L897.1 780.8L898.2 787.3L899.3 793.4L900.5 799.3L901.6 804.9L902.7 810.1L903.8 814.9L905 819.3L906.1 823.2L907.2 826.6L908.3 829.5L909.5 831.9L910.6 833.7L911.7 835L912.8 835.7L914 835.8L915.1 835L916.2 833.4L917.4 830.8L918.5 827.3L919.6 823L920.7 817.8L921.9 811.8L923 805.1L924.1 797.6L925.2 789.5L926.4 780.7L927.5 771.4L928.6 761.6L929.7 751.3L930.9 740.7L932 729.8L933.1 718.7L934.2 707.5L935.4 696.2L936.5 684.9L937.6 673.7L938.7 662.7L939.9 651.9L941 641.4L942.1 631.3L943.2 621.6L944.4 612.5L945.5 603.9L946.6 596L947.7 588.8L948.9 582.3L950 576.6L951.1 571.7L952.3 567.7L953.4 564.6L954.5 562.3L955.6 561L956.8 560.6L957.9 561.2L959 562.9L960.1 565.7L961.3 569.5L962.4 574.4L963.5 580.2L964.6 587L965.8 594.7L966.9 603.3L968 612.6L969.1 622.7L970.3 633.5L971.4 644.9L972.5 656.8L973.6 669.1L974.8 681.9L975.9 694.9L977 708L978.1 721.3L979.3 734.7L980.4 747.9L981.5 761L982.7 773.8L983.8 786.4L984.9 798.5L986 810.1L987.2 821.1L988.3 831.5L989.4 841.2L990.5 850.1L991.7 858.2L992.8 865.4L993.9 871.7L995 876.9L996.2 881.2L997.3 884.4L998.4 886.6L999.5 887.7L1000.7 887.7L1001.8 886.7L1002.9 884.7L1004 881.8L1005.2 877.9L1006.3 873.1L1007.4 867.4L1008.5 860.9L1009.7 853.5L1010.8 845.3L1011.9 836.5L1013.1 827L1014.2 816.9L1015.3 806.2L1016.4 795.1L1017.6 783.6L1018.7 771.8L1019.8 759.7L1020.9 747.5L1022.1 735.2L1023.2 722.8L1024.3 710.6L1025.4 698.4L1026.6 686.5L1027.7 674.9L1028.8 663.7L1029.9 652.9L1031.1 642.6L1032.2 633L1033.3 623.9L1034.4 615.6L1035.6 608L1036.7 601.2L1037.8 595.2L1038.9 590.2L1040.1 586L1041.2 582.8L1042.3 580.6L1043.4 579.3L1044.6 579L1045.7 579.6L1046.8 581L1048 583.2L1049.1 586.2L1050.2 589.9L1051.3 594.4L1052.5 599.6L1053.6 605.4L1054.7 611.9L1055.8 619L1057 626.6L1058.1 634.8L1059.2 643.3L1060.3 652.3L1061.5 661.5L1062.6 671L1063.7 680.7L1064.8 690.6L1066 700.5L1067.1 710.3L1068.2 720.2L1069.3 729.8L1070.5 739.3L1071.6 748.5L1072.7 757.3L1073.8 765.8L1075 773.8L1076.1 781.4L1077.2 788.3L1078.4 794.7L1079.5 800.4L1080.6 805.4L1081.7 809.8L1082.9 813.3L1084 816.2L1085.1 818.2L1086.2 819.4L1087.4 819.8L1088.5 819.5L1089.6 818.7L1090.7 817.4L1091.9 815.6L1093 813.3L1094.1 810.5L1095.2 807.2L1096.4 803.5L1097.5 799.4L1098.6 794.8L1099.7 789.9L1100.9 784.7L1102 779.2L1103.1 773.4L1104.2 767.4L1105.4 761.2L1106.5 754.9L1107.6 748.5L1108.7 742.1L1109.9 735.6L1111 729.1L1112.1 722.7L1113.3 716.5L1114.4 710.4L1115.5 704.5L1116.6 698.8L1117.8 693.4L1118.9 688.3L1120 683.6L1121.1 679.2L1122.3 675.3L1123.4 671.7L1124.5 668.7L1125.6 666.1L1126.8 663.9L1127.9 662.3L1129 661.3L1130.1 660.7L1131.3 660.6L1132.4 661L1133.5 661.8L1134.6 662.9L1135.8 664.5L1136.9 666.4L1138 668.6L1139.1 671.2L1140.3 674.1L1141.4 677.3L1142.5 680.7L1143.7 684.3L1144.8 688.2L1145.9 692.2L1147 696.4L1148.2 700.6L1149.3 704.9L1150.4 709.2L1151.5 713.5L1152.7 717.7L1153.8 721.9L1154.9 725.9L1156 729.8L1157.2 733.5L1158.3 736.9L1159.4 740.1L1160.5 743L1161.7 745.6L1162.8 747.9L1163.9 749.8L1165 751.4L1166.2 752.6L1167.3 753.4L1168.4 753.8L1169.5 753.8L1170.7 753.5L1171.8 753L1172.9 752.2L1174.1 751.1L1175.2 749.9L1176.3 748.4L1177.4 746.6L1178.6 744.7L1179.7 742.6L1180.8 740.3L1181.9 737.8L1183.1 735.3L1184.2 732.6L1185.3 729.8L1186.4 727L1187.6 724.1L1188.7 721.3L1189.8 718.4L1190.9 715.6L1192.1 712.8L1193.2 710.2L1194.3 707.6L1195.4 705.2L1196.6 702.9L1197.7 700.8L1198.8 698.8L1199.9 697.1L1201.1 695.6L1202.2 694.4L1203.3 693.3L1204.4 692.6L1205.6 692.1L1206.7 691.8L1207.8 691.8L1209 692.1L1210.1 692.6L1211.2 693.3L1212.3 694.2L1213.5 695.4L1214.6 696.7L1215.7 698.3L1216.8 700L1218 701.9L1219.1 703.9L1220.2 706.1L1221.3 708.4L1222.5 710.7L1223.6 713.2L1224.7 715.7L1225.8 718.2L1227 720.7L1228.1 723.3L1229.2 725.8L1230.3 728.2L1231.5 730.5L1232.6 732.8L1233.7 734.9L1234.8 736.9L1236 738.8L1237.1 740.5L1238.2 742L1239.4 743.3L1240.5 744.4L1241.6 745.3L1242.7 745.9L1243.9 746.4L1245 746.6L1246.1 746.6L1247.2 746.4L1248.4 746.1L1249.5 745.6L1250.6 744.9L1251.7 744.1L1252.9 743.2L1254 742.2L1255.1 741L1256.2 739.7L1257.4 738.3L1258.5 736.8L1259.6 735.2L1260.7 733.5L1261.9 731.8L1263 730L1264.1 728.1L1265.2 726.3L1266.4 724.4L1267.5 722.5L1268.6 720.7L1269.8 718.8L1270.9 717L1272 715.3L1273.1 713.6L1274.3 712L1275.4 710.4L1276.5 709L1277.6 707.7L1278.8 706.5L1279.9 705.4L1281 704.4L1282.1 703.6L1283.3 703L1284.4 702.4L1285.5 702.1L1286.6 701.9L1287.8 701.8L1288.9 701.9L1290 702.1L1291.1 702.4L1292.3 702.9L1293.4 703.5L1294.5 704.1L1295.6 704.9L1296.8 705.8L1297.9 706.7L1299 707.7L1300.1 708.8L1301.3 709.9L1302.4 711.1L1303.5 712.2L1304.7 713.4L1305.8 714.5L1306.9 715.7L1308 716.8L1309.2 717.8L1310.3 718.8L1311.4 719.7L1312.5 720.5L1313.7 721.2L1314.8 721.8L1315.9 722.3L1317 722.6L1318.2 722.9L1319.3 723L1320.4 723L1321.5 723L1322.7 722.9L1323.8 722.9L1324.9 722.8L1326 722.7L1327.2 722.6L1328.3 722.5L1329.4 722.4L1330.5 722.3L1331.7 722.2L1332.8 722.1L1333.9 722L1335.1 722L1336.2 721.9L1337.3 721.8L1338.4 721.8L1339.6 721.8L1340.7 721.8L1341.8 722L1342.9 722.2L1344.1 722.6L1345.2 722.9L1346.3 723.3L1347.4 723.7L1348.6 724.1L1349.7 724.4L1350.8 724.5L1351.9 724.6" fill="none" stroke="#ff0000" stroke-width="3.4" stroke-linejoin="round"/>
</g>
<rect x="789" y="519.5" width="563" height="400" fill="none" stroke="#000" stroke-width="2.2"/>
<path d="M789 919.5v9M869.4 919.5v9M949.8 919.5v9M1030.3 919.5v9M1110.7 919.5v9M1191.1 919.5v9M1271.5 919.5v9M1351.9 919.5v9" stroke="#000" stroke-width="2"/>
<path d="M829.2 919.5v5M909.6 919.5v5M990 919.5v5M1070.5 919.5v5M1150.9 919.5v5M1231.3 919.5v5M1311.7 919.5v5" stroke="#000" stroke-width="2"/>
<path d="M789 879.8h-9M789 799.8h-9M789 719.8h-9M789 639.8h-9M789 559.8h-9" stroke="#000" stroke-width="2"/>
<path d="M789 919.8h-5M789 839.8h-5M789 759.8h-5M789 679.8h-5M789 599.8h-5M789 519.8h-5" stroke="#000" stroke-width="2"/>
<text x="789" y="955" font-size="33" text-anchor="middle">0</text>
<text x="869.4" y="955" font-size="33" text-anchor="middle">2</text>
<text x="949.8" y="955" font-size="33" text-anchor="middle">4</text>
<text x="1030.3" y="955" font-size="33" text-anchor="middle">6</text>
<text x="1110.7" y="955" font-size="33" text-anchor="middle">8</text>
<text x="1191.1" y="955" font-size="33" text-anchor="middle">10</text>
<text x="1271.5" y="955" font-size="33" text-anchor="middle">12</text>
<text x="1351.9" y="955" font-size="33" text-anchor="middle">14</text>
<text x="775" y="890.3" font-size="33" text-anchor="end">-0.4</text>
<text x="775" y="810.3" font-size="33" text-anchor="end">-0.2</text>
<text x="775" y="730.3" font-size="33" text-anchor="end">0.0</text>
<text x="775" y="650.3" font-size="33" text-anchor="end">0.2</text>
<text x="775" y="570.3" font-size="33" text-anchor="end">0.4</text>
<text x="1070" y="987" font-size="35.5" text-anchor="middle">Wavenumber (Å<tspan font-size="21" dy="-12">-1</tspan><tspan dy="12">)</tspan></text>
<text transform="translate(714.5 719) rotate(-90)" font-size="35" text-anchor="middle">|FTk<tspan font-size="21" dy="-12">2</tspan><tspan dy="12" font-style="italic">x</tspan>(k)|(Å<tspan font-size="21" dy="-12">-3</tspan><tspan dy="12">)</tspan></text>
<path d="M1103 562H1160" stroke="#000" stroke-width="3"/>
<text x="1167" y="571" font-size="25.5">CuN<tspan font-size="17" dy="6">3</tspan><tspan dy="-6">-SAzyme</tspan></text>
<path d="M1103 600H1160" stroke="#ff0000" stroke-width="3"/>
<text x="1167" y="609.5" font-size="25.5" fill="#ff0000">Fitting</text>
<text x="689.5" y="557" font-size="44" font-weight="bold">e</text>
<defs><radialGradient id="ag" cx="0.5" cy="0.45" r="0.55" fx="0.52" fy="0.42"><stop offset="0" stop-color="#fff"/><stop offset="0.12" stop-color="#f0f0f0"/><stop offset="0.3" stop-color="#9a9a9a"/><stop offset="0.7" stop-color="#727272"/><stop offset="1" stop-color="#555"/></radialGradient><radialGradient id="an" cx="0.5" cy="0.45" r="0.55" fx="0.52" fy="0.42"><stop offset="0" stop-color="#fff"/><stop offset="0.12" stop-color="#c8ffff"/><stop offset="0.32" stop-color="#3ef0f0"/><stop offset="0.75" stop-color="#1cd0d0"/><stop offset="1" stop-color="#14a8a8"/></radialGradient><radialGradient id="ac" cx="0.5" cy="0.47" r="0.55" fx="0.52" fy="0.45"><stop offset="0" stop-color="#fff"/><stop offset="0.12" stop-color="#ffe0ff"/><stop offset="0.35" stop-color="#ee90ee"/><stop offset="0.75" stop-color="#cc72cc"/><stop offset="1" stop-color="#a658a6"/></radialGradient></defs>
<g clip-path="url(#clipf)">
<path d="M1437 557L1519.9 583" stroke="#707070" stroke-width="12"/>
<path d="M1519.9 583L1570.4 532.5" stroke="#707070" stroke-width="12"/>
<path d="M1570.4 532.5L1656.6 557" stroke="#707070" stroke-width="12"/>
<path d="M1656.6 557L1708.7 519.5" stroke="#707070" stroke-width="12"/>
<path d="M1656.6 557L1692.4 630.2" stroke="#707070" stroke-width="12"/>
<path d="M1708.7 519.5L1793.3 534.2" stroke="#707070" stroke-width="12"/>
<path d="M1793.3 534.2L1827.4 615.5" stroke="#707070" stroke-width="12"/>
<path d="M1827.4 615.5L1778.6 664.3" stroke="#707070" stroke-width="12"/>
<path d="M1827.4 615.5L1912 646.4" stroke="#707070" stroke-width="12"/>
<path d="M1912 646.4L1964.1 592.7" stroke="#707070" stroke-width="12"/>
<path d="M1964.1 592.7L1933 512" stroke="#707070" stroke-width="12"/>
<path d="M1964.1 592.7L1995 608" stroke="#707070" stroke-width="12"/>
<path d="M1692.4 630.2L1778.6 664.3" stroke="#707070" stroke-width="12"/>
<path d="M1519.9 583L1559 656.2" stroke="#707070" stroke-width="12"/>
<path d="M1559 656.2L1508.5 713.1" stroke="#707070" stroke-width="12"/>
<path d="M1508.5 713.1L1433.7 688.7" stroke="#707070" stroke-width="12"/>
<path d="M1508.5 713.1L1539.5 797.8" stroke="#707070" stroke-width="12"/>
<path d="M1539.5 797.8L1482.5 858" stroke="#707070" stroke-width="12"/>
<path d="M1482.5 858L1425 838" stroke="#707070" stroke-width="12"/>
<path d="M1482.5 858L1513.4 944.2" stroke="#707070" stroke-width="12"/>
<path d="M1513.4 944.2L1601.3 965.3" stroke="#707070" stroke-width="12"/>
<path d="M1601.3 965.3L1655 905.1" stroke="#707070" stroke-width="12"/>
<path d="M1655 905.1L1742.8 932.8" stroke="#707070" stroke-width="12"/>
<path d="M1742.8 932.8L1796.5 879.1" stroke="#707070" stroke-width="12"/>
<path d="M1742.8 932.8L1760 990" stroke="#707070" stroke-width="12"/>
<path d="M1796.5 879.1L1876.3 919.8" stroke="#707070" stroke-width="12"/>
<path d="M1876.3 919.8L1926.7 867.7" stroke="#707070" stroke-width="12"/>
<path d="M1876.3 919.8L1900 990" stroke="#707070" stroke-width="12"/>
<path d="M1926.7 867.7L1895.8 783.1" stroke="#707070" stroke-width="12"/>
<path d="M1926.7 867.7L1995 892" stroke="#707070" stroke-width="12"/>
<path d="M1895.8 783.1L1944.6 731" stroke="#707070" stroke-width="12"/>
<path d="M1944.6 731L1912 646.4" stroke="#707070" stroke-width="12"/>
<path d="M1944.6 731L1995 750" stroke="#707070" stroke-width="12"/>
<path d="M1895.8 783.1L1814.4 747.3" stroke="#707070" stroke-width="12"/>
<path d="M1814.4 747.3L1778.6 664.3" stroke="#707070" stroke-width="12"/>
<path d="M1433.7 688.7L1400 670" stroke="#707070" stroke-width="12"/>
<path d="M1793.3 534.2L1720 505" stroke="#707070" stroke-width="12"/>
<path d="M1437 555.5L1519.9 581.5" stroke="#a9a9a9" stroke-width="2.2" stroke-opacity="0.8"/>
<path d="M1570.4 531L1656.6 555.5" stroke="#a9a9a9" stroke-width="2.2" stroke-opacity="0.8"/>
<path d="M1708.7 518L1793.3 532.7" stroke="#a9a9a9" stroke-width="2.2" stroke-opacity="0.8"/>
<path d="M1559 654.7L1643.6 667.7" stroke="#a9a9a9" stroke-width="2.2" stroke-opacity="0.8"/>
<path d="M1508.5 711.6L1433.7 687.2" stroke="#a9a9a9" stroke-width="2.2" stroke-opacity="0.8"/>
<path d="M1539.5 796.3L1624 817.4" stroke="#a9a9a9" stroke-width="2.2" stroke-opacity="0.8"/>
<path d="M1482.5 856.5L1425 836.5" stroke="#a9a9a9" stroke-width="2.2" stroke-opacity="0.8"/>
<path d="M1482.5 856.5L1513.4 942.7" stroke="#a9a9a9" stroke-width="2.2" stroke-opacity="0.8"/>
<path d="M1513.4 942.7L1601.3 963.8" stroke="#a9a9a9" stroke-width="2.2" stroke-opacity="0.8"/>
<path d="M1692.4 630.2L1668 649.7" stroke="#707070" stroke-width="12"/>
<path d="M1668 649.7L1643.6 669.2" stroke="#22d6d6" stroke-width="12"/>
<path d="M1559 656.2L1601.3 662.7" stroke="#707070" stroke-width="12"/>
<path d="M1601.3 662.7L1643.6 669.2" stroke="#22d6d6" stroke-width="12"/>
<path d="M1539.5 797.8L1581.8 808.3" stroke="#707070" stroke-width="12"/>
<path d="M1581.8 808.3L1624 818.9" stroke="#22d6d6" stroke-width="12"/>
<path d="M1655 905.1L1639.5 862" stroke="#707070" stroke-width="12"/>
<path d="M1639.5 862L1624 818.9" stroke="#22d6d6" stroke-width="12"/>
<path d="M1814.4 747.3L1794.9 769.2" stroke="#707070" stroke-width="12"/>
<path d="M1794.9 769.2L1775.4 791.2" stroke="#22d6d6" stroke-width="12"/>
<path d="M1796.5 879.1L1786 835.2" stroke="#707070" stroke-width="12"/>
<path d="M1786 835.2L1775.4 791.2" stroke="#22d6d6" stroke-width="12"/>
<path d="M1643.6 669.2L1673.7 690.4" stroke="#22d6d6" stroke-width="12"/>
<path d="M1673.7 690.4L1703.8 711.5" stroke="#c466c4" stroke-width="12"/>
<path d="M1624 818.9L1663.9 765.2" stroke="#22d6d6" stroke-width="12"/>
<path d="M1663.9 765.2L1703.8 711.5" stroke="#c466c4" stroke-width="12"/>
<path d="M1775.4 791.2L1739.6 751.4" stroke="#22d6d6" stroke-width="12"/>
<path d="M1739.6 751.4L1703.8 711.5" stroke="#c466c4" stroke-width="12"/>
<circle cx="1437" cy="557" r="20" fill="url(#ag)"/>
<circle cx="1570.4" cy="532.5" r="20" fill="url(#ag)"/>
<circle cx="1519.9" cy="583" r="20" fill="url(#ag)"/>
<circle cx="1656.6" cy="557" r="20" fill="url(#ag)"/>
<circle cx="1708.7" cy="519.5" r="20" fill="url(#ag)"/>
<circle cx="1793.3" cy="534.2" r="20" fill="url(#ag)"/>
<circle cx="1933" cy="512" r="20" fill="url(#ag)"/>
<circle cx="1964.1" cy="592.7" r="20" fill="url(#ag)"/>
<circle cx="1692.4" cy="630.2" r="20" fill="url(#ag)"/>
<circle cx="1827.4" cy="615.5" r="20" fill="url(#ag)"/>
<circle cx="1559" cy="656.2" r="20" fill="url(#ag)"/>
<circle cx="1778.6" cy="664.3" r="20" fill="url(#ag)"/>
<circle cx="1912" cy="646.4" r="20" fill="url(#ag)"/>
<circle cx="1508.5" cy="713.1" r="20" fill="url(#ag)"/>
<circle cx="1433.7" cy="688.7" r="20" fill="url(#ag)"/>
<circle cx="1814.4" cy="747.3" r="20" fill="url(#ag)"/>
<circle cx="1944.6" cy="731" r="20" fill="url(#ag)"/>
<circle cx="1539.5" cy="797.8" r="20" fill="url(#ag)"/>
<circle cx="1895.8" cy="783.1" r="20" fill="url(#ag)"/>
<circle cx="1482.5" cy="858" r="20" fill="url(#ag)"/>
<circle cx="1796.5" cy="879.1" r="20" fill="url(#ag)"/>
<circle cx="1926.7" cy="867.7" r="20" fill="url(#ag)"/>
<circle cx="1655" cy="905.1" r="20" fill="url(#ag)"/>
<circle cx="1742.8" cy="932.8" r="20" fill="url(#ag)"/>
<circle cx="1876.3" cy="919.8" r="20" fill="url(#ag)"/>
<circle cx="1513.4" cy="944.2" r="20" fill="url(#ag)"/>
<circle cx="1601.3" cy="965.3" r="20" fill="url(#ag)"/>
<circle cx="1643.6" cy="669.2" r="18.5" fill="url(#an)"/>
<circle cx="1624" cy="818.9" r="18.5" fill="url(#an)"/>
<circle cx="1775.4" cy="791.2" r="18.5" fill="url(#an)"/>
<ellipse cx="1703.8" cy="711.5" rx="31.5" ry="36" fill="url(#ac)"/>
</g>
<rect x="1432" y="519.5" width="558.8" height="454.5" fill="none" stroke="#8a8a8a" stroke-width="2.2"/>
<text x="1590" y="733" font-size="42" font-weight="bold" fill="#d77fd7">Cu</text>
<text x="1576.5" y="892" font-size="44" font-weight="bold" fill="#22e6e6">N</text>
<text x="1825.5" y="863" font-size="43" font-weight="bold" fill="#7a7a7a">C</text>
<text x="1397" y="562.5" font-size="44" font-weight="bold">f</text>
<defs><clipPath id="g_fl"><path d="M75.3 1515.1L493.3 1556.4L561.6 1410.6L209.5 1380.4Z"/></clipPath><radialGradient id="g_b0" gradientUnits="userSpaceOnUse" cx="0" cy="0" r="3.2"><stop offset="0.000" stop-color="#0008be" stop-opacity="1.00"/><stop offset="0.031" stop-color="#0008be" stop-opacity="1.00"/><stop offset="0.062" stop-color="#0008be" stop-opacity="1.00"/><stop offset="0.094" stop-color="#0008be" stop-opacity="1.00"/><stop offset="0.125" stop-color="#0008be" stop-opacity="1.00"/><stop offset="0.156" stop-color="#0008be" stop-opacity="1.00"/><stop offset="0.188" stop-color="#0009bf" stop-opacity="1.00"/><stop offset="0.219" stop-color="#0009bf" stop-opacity="1.00"/><stop offset="0.250" stop-color="#000ac0" stop-opacity="1.00"/><stop offset="0.281" stop-color="#000bc1" stop-opacity="1.00"/><stop offset="0.312" stop-color="#000dc3" stop-opacity="1.00"/><stop offset="0.344" stop-color="#000fc4" stop-opacity="1.00"/><stop offset="0.375" stop-color="#0011c6" stop-opacity="1.00"/><stop offset="0.406" stop-color="#0013c9" stop-opacity="1.00"/><stop offset="0.438" stop-color="#0016cb" stop-opacity="1.00"/><stop offset="0.469" stop-color="#0018cd" stop-opacity="0.81"/><stop offset="0.500" stop-color="#011ace" stop-opacity="0.56"/><stop offset="0.531" stop-color="#021ccf" stop-opacity="0.35"/><stop offset="0.562" stop-color="#031dd0" stop-opacity="0.21"/><stop offset="0.594" stop-color="#031ed1" stop-opacity="0.11"/><stop offset="0.625" stop-color="#041fd1" stop-opacity="0.05"/><stop offset="0.656" stop-color="#041fd1" stop-opacity="0.02"/><stop offset="0.688" stop-color="#041fd1" stop-opacity="0.01"/><stop offset="0.719" stop-color="#041fd1" stop-opacity="0.00"/><stop offset="0.750" stop-color="#041fd1" stop-opacity="0.00"/><stop offset="0.781" stop-color="#041fd1" stop-opacity="0.00"/><stop offset="0.812" stop-color="#041fd1" stop-opacity="0.00"/><stop offset="0.844" stop-color="#041fd1" stop-opacity="0.00"/><stop offset="0.875" stop-color="#041fd1" stop-opacity="0.00"/><stop offset="0.906" stop-color="#041fd1" stop-opacity="0.00"/><stop offset="0.938" stop-color="#041fd1" stop-opacity="0.00"/><stop offset="0.969" stop-color="#041fd1" stop-opacity="0.00"/><stop offset="1.000" stop-color="#041fd1" stop-opacity="0.00"/></radialGradient><radialGradient id="g_b1" gradientUnits="userSpaceOnUse" cx="0" cy="0" r="3.2"><stop offset="0.000" stop-color="#0008be" stop-opacity="1.00"/><stop offset="0.031" stop-color="#0008be" stop-opacity="1.00"/><stop offset="0.062" stop-color="#0008be" stop-opacity="1.00"/><stop offset="0.094" stop-color="#0008be" stop-opacity="1.00"/><stop offset="0.125" stop-color="#0009be" stop-opacity="1.00"/><stop offset="0.156" stop-color="#0009bf" stop-opacity="1.00"/><stop offset="0.188" stop-color="#000ac0" stop-opacity="1.00"/><stop offset="0.219" stop-color="#000bc0" stop-opacity="1.00"/><stop offset="0.250" stop-color="#000cc1" stop-opacity="1.00"/><stop offset="0.281" stop-color="#000dc3" stop-opacity="1.00"/><stop offset="0.312" stop-color="#000fc4" stop-opacity="1.00"/><stop offset="0.344" stop-color="#0010c6" stop-opacity="1.00"/><stop offset="0.375" stop-color="#0012c8" stop-opacity="1.00"/><stop offset="0.406" stop-color="#0014c9" stop-opacity="1.00"/><stop offset="0.438" stop-color="#0016cb" stop-opacity="1.00"/><stop offset="0.469" stop-color="#0018cd" stop-opacity="0.87"/><stop offset="0.500" stop-color="#0119ce" stop-opacity="0.67"/><stop offset="0.531" stop-color="#021bcf" stop-opacity="0.50"/><stop offset="0.562" stop-color="#021ccf" stop-opacity="0.36"/><stop offset="0.594" stop-color="#031dd0" stop-opacity="0.25"/><stop offset="0.625" stop-color="#031ed0" stop-opacity="0.17"/><stop offset="0.656" stop-color="#031ed1" stop-opacity="0.11"/><stop offset="0.688" stop-color="#041fd1" stop-opacity="0.07"/><stop offset="0.719" stop-color="#041fd1" stop-opacity="0.04"/><stop offset="0.750" stop-color="#041fd1" stop-opacity="0.02"/><stop offset="0.781" stop-color="#041fd1" stop-opacity="0.01"/><stop offset="0.812" stop-color="#041fd1" stop-opacity="0.01"/><stop offset="0.844" stop-color="#041fd1" stop-opacity="0.00"/><stop offset="0.875" stop-color="#041fd1" stop-opacity="0.00"/><stop offset="0.906" stop-color="#041fd1" stop-opacity="0.00"/><stop offset="0.938" stop-color="#041fd1" stop-opacity="0.00"/><stop offset="0.969" stop-color="#041fd1" stop-opacity="0.00"/><stop offset="1.000" stop-color="#041fd1" stop-opacity="0.00"/></radialGradient><radialGradient id="g_b2" gradientUnits="userSpaceOnUse" cx="0" cy="0" r="3.2"><stop offset="0.000" stop-color="#1ea4fa" stop-opacity="1.00"/><stop offset="0.031" stop-color="#1ea4fa" stop-opacity="1.00"/><stop offset="0.062" stop-color="#1ea4fa" stop-opacity="1.00"/><stop offset="0.094" stop-color="#1ea4fa" stop-opacity="1.00"/><stop offset="0.125" stop-color="#1ea4fa" stop-opacity="1.00"/><stop offset="0.156" stop-color="#1ea4fa" stop-opacity="1.00"/><stop offset="0.188" stop-color="#1ea3fa" stop-opacity="1.00"/><stop offset="0.219" stop-color="#1ea2fa" stop-opacity="1.00"/><stop offset="0.250" stop-color="#1ea0fa" stop-opacity="1.00"/><stop offset="0.281" stop-color="#1e9af9" stop-opacity="1.00"/><stop offset="0.312" stop-color="#1e92f8" stop-opacity="1.00"/><stop offset="0.344" stop-color="#1e87f6" stop-opacity="1.00"/><stop offset="0.375" stop-color="#1e7af3" stop-opacity="1.00"/><stop offset="0.406" stop-color="#1d6aef" stop-opacity="1.00"/><stop offset="0.438" stop-color="#1953eb" stop-opacity="1.00"/><stop offset="0.469" stop-color="#143fe2" stop-opacity="0.75"/><stop offset="0.500" stop-color="#0e32dc" stop-opacity="0.45"/><stop offset="0.531" stop-color="#0a29d8" stop-opacity="0.23"/><stop offset="0.562" stop-color="#0624d4" stop-opacity="0.10"/><stop offset="0.594" stop-color="#0521d2" stop-opacity="0.04"/><stop offset="0.625" stop-color="#0420d2" stop-opacity="0.01"/><stop offset="0.656" stop-color="#041fd1" stop-opacity="0.00"/><stop offset="0.688" stop-color="#041fd1" stop-opacity="0.00"/><stop offset="0.719" stop-color="#041fd1" stop-opacity="0.00"/><stop offset="0.750" stop-color="#041fd1" stop-opacity="0.00"/><stop offset="0.781" stop-color="#041fd1" stop-opacity="0.00"/><stop offset="0.812" stop-color="#041fd1" stop-opacity="0.00"/><stop offset="0.844" stop-color="#041fd1" stop-opacity="0.00"/><stop offset="0.875" stop-color="#041fd1" stop-opacity="0.00"/><stop offset="0.906" stop-color="#041fd1" stop-opacity="0.00"/><stop offset="0.938" stop-color="#041fd1" stop-opacity="0.00"/><stop offset="0.969" stop-color="#041fd1" stop-opacity="0.00"/><stop offset="1.000" stop-color="#041fd1" stop-opacity="0.00"/></radialGradient><radialGradient id="g_b3" gradientUnits="userSpaceOnUse" cx="0" cy="0" r="3.2"><stop offset="0.000" stop-color="#1ea4fa" stop-opacity="1.00"/><stop offset="0.031" stop-color="#1ea4fa" stop-opacity="1.00"/><stop offset="0.062" stop-color="#1ea4fa" stop-opacity="1.00"/><stop offset="0.094" stop-color="#1ea4fa" stop-opacity="1.00"/><stop offset="0.125" stop-color="#1ea4fa" stop-opacity="1.00"/><stop offset="0.156" stop-color="#1ea4fa" stop-opacity="1.00"/><stop offset="0.188" stop-color="#1ea3fa" stop-opacity="1.00"/><stop offset="0.219" stop-color="#1ea2fa" stop-opacity="1.00"/><stop offset="0.250" stop-color="#1ea0fa" stop-opacity="1.00"/><stop offset="0.281" stop-color="#1e9af9" stop-opacity="1.00"/><stop offset="0.312" stop-color="#1e92f8" stop-opacity="1.00"/><stop offset="0.344" stop-color="#1e87f6" stop-opacity="1.00"/><stop offset="0.375" stop-color="#1e7af3" stop-opacity="1.00"/><stop offset="0.406" stop-color="#1d6aef" stop-opacity="1.00"/><stop offset="0.438" stop-color="#1953eb" stop-opacity="1.00"/><stop offset="0.469" stop-color="#143fe2" stop-opacity="0.75"/><stop offset="0.500" stop-color="#0e32dc" stop-opacity="0.45"/><stop offset="0.531" stop-color="#0a29d8" stop-opacity="0.23"/><stop offset="0.562" stop-color="#0624d4" stop-opacity="0.10"/><stop offset="0.594" stop-color="#0521d2" stop-opacity="0.04"/><stop offset="0.625" stop-color="#0420d2" stop-opacity="0.01"/><stop offset="0.656" stop-color="#041fd1" stop-opacity="0.00"/><stop offset="0.688" stop-color="#041fd1" stop-opacity="0.00"/><stop offset="0.719" stop-color="#041fd1" stop-opacity="0.00"/><stop offset="0.750" stop-color="#041fd1" stop-opacity="0.00"/><stop offset="0.781" stop-color="#041fd1" stop-opacity="0.00"/><stop offset="0.812" stop-color="#041fd1" stop-opacity="0.00"/><stop offset="0.844" stop-color="#041fd1" stop-opacity="0.00"/><stop offset="0.875" stop-color="#041fd1" stop-opacity="0.00"/><stop offset="0.906" stop-color="#041fd1" stop-opacity="0.00"/><stop offset="0.938" stop-color="#041fd1" stop-opacity="0.00"/><stop offset="0.969" stop-color="#041fd1" stop-opacity="0.00"/><stop offset="1.000" stop-color="#041fd1" stop-opacity="0.00"/></radialGradient><radialGradient id="g_b4" gradientUnits="userSpaceOnUse" cx="0" cy="0" r="3.2"><stop offset="0.000" stop-color="#1e98f9" stop-opacity="1.00"/><stop offset="0.031" stop-color="#1e98f9" stop-opacity="1.00"/><stop offset="0.062" stop-color="#1e98f9" stop-opacity="1.00"/><stop offset="0.094" stop-color="#1e98f9" stop-opacity="1.00"/><stop offset="0.125" stop-color="#1e98f9" stop-opacity="1.00"/><stop offset="0.156" stop-color="#1e98f9" stop-opacity="1.00"/><stop offset="0.188" stop-color="#1e97f8" stop-opacity="1.00"/><stop offset="0.219" stop-color="#1e95f8" stop-opacity="1.00"/><stop offset="0.250" stop-color="#1e92f8" stop-opacity="1.00"/><stop offset="0.281" stop-color="#1e8df7" stop-opacity="1.00"/><stop offset="0.312" stop-color="#1e86f6" stop-opacity="1.00"/><stop offset="0.344" stop-color="#1e7cf4" stop-opacity="1.00"/><stop offset="0.375" stop-color="#1e71f1" stop-opacity="1.00"/><stop offset="0.406" stop-color="#1c5fee" stop-opacity="1.00"/><stop offset="0.438" stop-color="#184be9" stop-opacity="1.00"/><stop offset="0.469" stop-color="#123be0" stop-opacity="0.75"/><stop offset="0.500" stop-color="#0d30db" stop-opacity="0.45"/><stop offset="0.531" stop-color="#0928d7" stop-opacity="0.23"/><stop offset="0.562" stop-color="#0623d4" stop-opacity="0.10"/><stop offset="0.594" stop-color="#0521d2" stop-opacity="0.04"/><stop offset="0.625" stop-color="#0420d2" stop-opacity="0.01"/><stop offset="0.656" stop-color="#041fd1" stop-opacity="0.00"/><stop offset="0.688" stop-color="#041fd1" stop-opacity="0.00"/><stop offset="0.719" stop-color="#041fd1" stop-opacity="0.00"/><stop offset="0.750" stop-color="#041fd1" stop-opacity="0.00"/><stop offset="0.781" stop-color="#041fd1" stop-opacity="0.00"/><stop offset="0.812" stop-color="#041fd1" stop-opacity="0.00"/><stop offset="0.844" stop-color="#041fd1" stop-opacity="0.00"/><stop offset="0.875" stop-color="#041fd1" stop-opacity="0.00"/><stop offset="0.906" stop-color="#041fd1" stop-opacity="0.00"/><stop offset="0.938" stop-color="#041fd1" stop-opacity="0.00"/><stop offset="0.969" stop-color="#041fd1" stop-opacity="0.00"/><stop offset="1.000" stop-color="#041fd1" stop-opacity="0.00"/></radialGradient><radialGradient id="g_b5" gradientUnits="userSpaceOnUse" cx="0" cy="0" r="3.2"><stop offset="0.000" stop-color="#0008be" stop-opacity="1.00"/><stop offset="0.031" stop-color="#0008be" stop-opacity="1.00"/><stop offset="0.062" stop-color="#0008be" stop-opacity="1.00"/><stop offset="0.094" stop-color="#0009bf" stop-opacity="1.00"/><stop offset="0.125" stop-color="#000ac0" stop-opacity="1.00"/><stop offset="0.156" stop-color="#000bc0" stop-opacity="1.00"/><stop offset="0.188" stop-color="#000cc1" stop-opacity="1.00"/><stop offset="0.219" stop-color="#000dc3" stop-opacity="1.00"/><stop offset="0.250" stop-color="#000ec4" stop-opacity="1.00"/><stop offset="0.281" stop-color="#000fc5" stop-opacity="1.00"/><stop offset="0.312" stop-color="#0011c6" stop-opacity="1.00"/><stop offset="0.344" stop-color="#0012c8" stop-opacity="1.00"/><stop offset="0.375" stop-color="#0013c9" stop-opacity="1.00"/><stop offset="0.406" stop-color="#0015ca" stop-opacity="1.00"/><stop offset="0.438" stop-color="#0016cb" stop-opacity="1.00"/><stop offset="0.469" stop-color="#0017cc" stop-opacity="0.93"/><stop offset="0.500" stop-color="#0018cd" stop-opacity="0.79"/><stop offset="0.531" stop-color="#0119ce" stop-opacity="0.67"/><stop offset="0.562" stop-color="#011ace" stop-opacity="0.57"/><stop offset="0.594" stop-color="#021bcf" stop-opacity="0.47"/><stop offset="0.625" stop-color="#021ccf" stop-opacity="0.39"/><stop offset="0.656" stop-color="#021cd0" stop-opacity="0.32"/><stop offset="0.688" stop-color="#031dd0" stop-opacity="0.25"/><stop offset="0.719" stop-color="#031dd0" stop-opacity="0.20"/><stop offset="0.750" stop-color="#031ed1" stop-opacity="0.16"/><stop offset="0.781" stop-color="#031ed1" stop-opacity="0.13"/><stop offset="0.812" stop-color="#041ed1" stop-opacity="0.10"/><stop offset="0.844" stop-color="#041fd1" stop-opacity="0.07"/><stop offset="0.875" stop-color="#041fd1" stop-opacity="0.06"/><stop offset="0.906" stop-color="#041fd1" stop-opacity="0.04"/><stop offset="0.938" stop-color="#041fd1" stop-opacity="0.03"/><stop offset="0.969" stop-color="#041fd1" stop-opacity="0.02"/><stop offset="1.000" stop-color="#041fd1" stop-opacity="0.00"/></radialGradient><radialGradient id="g_b6" gradientUnits="userSpaceOnUse" cx="0" cy="0" r="3.2"><stop offset="0.000" stop-color="#0008be" stop-opacity="1.00"/><stop offset="0.031" stop-color="#0008be" stop-opacity="1.00"/><stop offset="0.062" stop-color="#0008be" stop-opacity="1.00"/><stop offset="0.094" stop-color="#0009bf" stop-opacity="1.00"/><stop offset="0.125" stop-color="#000ac0" stop-opacity="1.00"/><stop offset="0.156" stop-color="#000bc0" stop-opacity="1.00"/><stop offset="0.188" stop-color="#000cc1" stop-opacity="1.00"/><stop offset="0.219" stop-color="#000dc3" stop-opacity="1.00"/><stop offset="0.250" stop-color="#000ec4" stop-opacity="1.00"/><stop offset="0.281" stop-color="#000fc5" stop-opacity="1.00"/><stop offset="0.312" stop-color="#0011c6" stop-opacity="1.00"/><stop offset="0.344" stop-color="#0012c8" stop-opacity="1.00"/><stop offset="0.375" stop-color="#0013c9" stop-opacity="1.00"/><stop offset="0.406" stop-color="#0015ca" stop-opacity="1.00"/><stop offset="0.438" stop-color="#0016cb" stop-opacity="1.00"/><stop offset="0.469" stop-color="#0017cc" stop-opacity="0.93"/><stop offset="0.500" stop-color="#0018cd" stop-opacity="0.79"/><stop offset="0.531" stop-color="#0119ce" stop-opacity="0.67"/><stop offset="0.562" stop-color="#011ace" stop-opacity="0.57"/><stop offset="0.594" stop-color="#021bcf" stop-opacity="0.47"/><stop offset="0.625" stop-color="#021ccf" stop-opacity="0.39"/><stop offset="0.656" stop-color="#021cd0" stop-opacity="0.32"/><stop offset="0.688" stop-color="#031dd0" stop-opacity="0.25"/><stop offset="0.719" stop-color="#031dd0" stop-opacity="0.20"/><stop offset="0.750" stop-color="#031ed1" stop-opacity="0.16"/><stop offset="0.781" stop-color="#031ed1" stop-opacity="0.13"/><stop offset="0.812" stop-color="#041ed1" stop-opacity="0.10"/><stop offset="0.844" stop-color="#041fd1" stop-opacity="0.07"/><stop offset="0.875" stop-color="#041fd1" stop-opacity="0.06"/><stop offset="0.906" stop-color="#041fd1" stop-opacity="0.04"/><stop offset="0.938" stop-color="#041fd1" stop-opacity="0.03"/><stop offset="0.969" stop-color="#041fd1" stop-opacity="0.02"/><stop offset="1.000" stop-color="#041fd1" stop-opacity="0.00"/></radialGradient><radialGradient id="g_b7" gradientUnits="userSpaceOnUse" cx="0" cy="0" r="3.2"><stop offset="0.000" stop-color="#0008be" stop-opacity="1.00"/><stop offset="0.031" stop-color="#0008be" stop-opacity="1.00"/><stop offset="0.062" stop-color="#0008be" stop-opacity="1.00"/><stop offset="0.094" stop-color="#0009bf" stop-opacity="1.00"/><stop offset="0.125" stop-color="#000ac0" stop-opacity="1.00"/><stop offset="0.156" stop-color="#000bc0" stop-opacity="1.00"/><stop offset="0.188" stop-color="#000cc1" stop-opacity="1.00"/><stop offset="0.219" stop-color="#000dc3" stop-opacity="1.00"/><stop offset="0.250" stop-color="#000ec4" stop-opacity="1.00"/><stop offset="0.281" stop-color="#000fc5" stop-opacity="1.00"/><stop offset="0.312" stop-color="#0011c6" stop-opacity="1.00"/><stop offset="0.344" stop-color="#0012c8" stop-opacity="1.00"/><stop offset="0.375" stop-color="#0013c9" stop-opacity="1.00"/><stop offset="0.406" stop-color="#0015ca" stop-opacity="1.00"/><stop offset="0.438" stop-color="#0016cb" stop-opacity="1.00"/><stop offset="0.469" stop-color="#0017cc" stop-opacity="0.93"/><stop offset="0.500" stop-color="#0018cd" stop-opacity="0.79"/><stop offset="0.531" stop-color="#0119ce" stop-opacity="0.67"/><stop offset="0.562" stop-color="#011ace" stop-opacity="0.57"/><stop offset="0.594" stop-color="#021bcf" stop-opacity="0.47"/><stop offset="0.625" stop-color="#021ccf" stop-opacity="0.39"/><stop offset="0.656" stop-color="#021cd0" stop-opacity="0.32"/><stop offset="0.688" stop-color="#031dd0" stop-opacity="0.25"/><stop offset="0.719" stop-color="#031dd0" stop-opacity="0.20"/><stop offset="0.750" stop-color="#031ed1" stop-opacity="0.16"/><stop offset="0.781" stop-color="#031ed1" stop-opacity="0.13"/><stop offset="0.812" stop-color="#041ed1" stop-opacity="0.10"/><stop offset="0.844" stop-color="#041fd1" stop-opacity="0.07"/><stop offset="0.875" stop-color="#041fd1" stop-opacity="0.06"/><stop offset="0.906" stop-color="#041fd1" stop-opacity="0.04"/><stop offset="0.938" stop-color="#041fd1" stop-opacity="0.03"/><stop offset="0.969" stop-color="#041fd1" stop-opacity="0.02"/><stop offset="1.000" stop-color="#041fd1" stop-opacity="0.00"/></radialGradient><radialGradient id="g_b8" gradientUnits="userSpaceOnUse" cx="0" cy="0" r="3.2"><stop offset="0.000" stop-color="#0008be" stop-opacity="1.00"/><stop offset="0.031" stop-color="#0008be" stop-opacity="1.00"/><stop offset="0.062" stop-color="#0008be" stop-opacity="1.00"/><stop offset="0.094" stop-color="#0009bf" stop-opacity="1.00"/><stop offset="0.125" stop-color="#000ac0" stop-opacity="1.00"/><stop offset="0.156" stop-color="#000bc0" stop-opacity="1.00"/><stop offset="0.188" stop-color="#000cc1" stop-opacity="1.00"/><stop offset="0.219" stop-color="#000dc3" stop-opacity="1.00"/><stop offset="0.250" stop-color="#000ec4" stop-opacity="1.00"/><stop offset="0.281" stop-color="#000fc5" stop-opacity="1.00"/><stop offset="0.312" stop-color="#0011c6" stop-opacity="1.00"/><stop offset="0.344" stop-color="#0012c8" stop-opacity="1.00"/><stop offset="0.375" stop-color="#0013c9" stop-opacity="1.00"/><stop offset="0.406" stop-color="#0015ca" stop-opacity="1.00"/><stop offset="0.438" stop-color="#0016cb" stop-opacity="1.00"/><stop offset="0.469" stop-color="#0017cc" stop-opacity="0.93"/><stop offset="0.500" stop-color="#0018cd" stop-opacity="0.79"/><stop offset="0.531" stop-color="#0119ce" stop-opacity="0.67"/><stop offset="0.562" stop-color="#011ace" stop-opacity="0.57"/><stop offset="0.594" stop-color="#021bcf" stop-opacity="0.47"/><stop offset="0.625" stop-color="#021ccf" stop-opacity="0.39"/><stop offset="0.656" stop-color="#021cd0" stop-opacity="0.32"/><stop offset="0.688" stop-color="#031dd0" stop-opacity="0.25"/><stop offset="0.719" stop-color="#031dd0" stop-opacity="0.20"/><stop offset="0.750" stop-color="#031ed1" stop-opacity="0.16"/><stop offset="0.781" stop-color="#031ed1" stop-opacity="0.13"/><stop offset="0.812" stop-color="#041ed1" stop-opacity="0.10"/><stop offset="0.844" stop-color="#041fd1" stop-opacity="0.07"/><stop offset="0.875" stop-color="#041fd1" stop-opacity="0.06"/><stop offset="0.906" stop-color="#041fd1" stop-opacity="0.04"/><stop offset="0.938" stop-color="#041fd1" stop-opacity="0.03"/><stop offset="0.969" stop-color="#041fd1" stop-opacity="0.02"/><stop offset="1.000" stop-color="#041fd1" stop-opacity="0.00"/></radialGradient><radialGradient id="g_b9" gradientUnits="userSpaceOnUse" cx="0" cy="0" r="3.2"><stop offset="0.000" stop-color="#0008be" stop-opacity="1.00"/><stop offset="0.031" stop-color="#0008be" stop-opacity="1.00"/><stop offset="0.062" stop-color="#0008be" stop-opacity="1.00"/><stop offset="0.094" stop-color="#0009bf" stop-opacity="1.00"/><stop offset="0.125" stop-color="#000ac0" stop-opacity="1.00"/><stop offset="0.156" stop-color="#000bc0" stop-opacity="1.00"/><stop offset="0.188" stop-color="#000cc1" stop-opacity="1.00"/><stop offset="0.219" stop-color="#000dc3" stop-opacity="1.00"/><stop offset="0.250" stop-color="#000ec4" stop-opacity="1.00"/><stop offset="0.281" stop-color="#000fc5" stop-opacity="1.00"/><stop offset="0.312" stop-color="#0011c6" stop-opacity="1.00"/><stop offset="0.344" stop-color="#0012c8" stop-opacity="1.00"/><stop offset="0.375" stop-color="#0013c9" stop-opacity="1.00"/><stop offset="0.406" stop-color="#0015ca" stop-opacity="1.00"/><stop offset="0.438" stop-color="#0016cb" stop-opacity="1.00"/><stop offset="0.469" stop-color="#0017cc" stop-opacity="0.93"/><stop offset="0.500" stop-color="#0018cd" stop-opacity="0.79"/><stop offset="0.531" stop-color="#0119ce" stop-opacity="0.67"/><stop offset="0.562" stop-color="#011ace" stop-opacity="0.57"/><stop offset="0.594" stop-color="#021bcf" stop-opacity="0.47"/><stop offset="0.625" stop-color="#021ccf" stop-opacity="0.39"/><stop offset="0.656" stop-color="#021cd0" stop-opacity="0.32"/><stop offset="0.688" stop-color="#031dd0" stop-opacity="0.25"/><stop offset="0.719" stop-color="#031dd0" stop-opacity="0.20"/><stop offset="0.750" stop-color="#031ed1" stop-opacity="0.16"/><stop offset="0.781" stop-color="#031ed1" stop-opacity="0.13"/><stop offset="0.812" stop-color="#041ed1" stop-opacity="0.10"/><stop offset="0.844" stop-color="#041fd1" stop-opacity="0.07"/><stop offset="0.875" stop-color="#041fd1" stop-opacity="0.06"/><stop offset="0.906" stop-color="#041fd1" stop-opacity="0.04"/><stop offset="0.938" stop-color="#041fd1" stop-opacity="0.03"/><stop offset="0.969" stop-color="#041fd1" stop-opacity="0.02"/><stop offset="1.000" stop-color="#041fd1" stop-opacity="0.00"/></radialGradient><radialGradient id="g_b10" gradientUnits="userSpaceOnUse" cx="0" cy="0" r="3.2"><stop offset="0.000" stop-color="#0008be" stop-opacity="1.00"/><stop offset="0.031" stop-color="#0008be" stop-opacity="1.00"/><stop offset="0.062" stop-color="#0008be" stop-opacity="1.00"/><stop offset="0.094" stop-color="#0009bf" stop-opacity="1.00"/><stop offset="0.125" stop-color="#000ac0" stop-opacity="1.00"/><stop offset="0.156" stop-color="#000bc0" stop-opacity="1.00"/><stop offset="0.188" stop-color="#000cc1" stop-opacity="1.00"/><stop offset="0.219" stop-color="#000dc3" stop-opacity="1.00"/><stop offset="0.250" stop-color="#000ec4" stop-opacity="1.00"/><stop offset="0.281" stop-color="#000fc5" stop-opacity="1.00"/><stop offset="0.312" stop-color="#0011c6" stop-opacity="1.00"/><stop offset="0.344" stop-color="#0012c8" stop-opacity="1.00"/><stop offset="0.375" stop-color="#0013c9" stop-opacity="1.00"/><stop offset="0.406" stop-color="#0015ca" stop-opacity="1.00"/><stop offset="0.438" stop-color="#0016cb" stop-opacity="1.00"/><stop offset="0.469" stop-color="#0017cc" stop-opacity="0.93"/><stop offset="0.500" stop-color="#0018cd" stop-opacity="0.79"/><stop offset="0.531" stop-color="#0119ce" stop-opacity="0.67"/><stop offset="0.562" stop-color="#011ace" stop-opacity="0.57"/><stop offset="0.594" stop-color="#021bcf" stop-opacity="0.47"/><stop offset="0.625" stop-color="#021ccf" stop-opacity="0.39"/><stop offset="0.656" stop-color="#021cd0" stop-opacity="0.32"/><stop offset="0.688" stop-color="#031dd0" stop-opacity="0.25"/><stop offset="0.719" stop-color="#031dd0" stop-opacity="0.20"/><stop offset="0.750" stop-color="#031ed1" stop-opacity="0.16"/><stop offset="0.781" stop-color="#031ed1" stop-opacity="0.13"/><stop offset="0.812" stop-color="#041ed1" stop-opacity="0.10"/><stop offset="0.844" stop-color="#041fd1" stop-opacity="0.07"/><stop offset="0.875" stop-color="#041fd1" stop-opacity="0.06"/><stop offset="0.906" stop-color="#041fd1" stop-opacity="0.04"/><stop offset="0.938" stop-color="#041fd1" stop-opacity="0.03"/><stop offset="0.969" stop-color="#041fd1" stop-opacity="0.02"/><stop offset="1.000" stop-color="#041fd1" stop-opacity="0.00"/></radialGradient><radialGradient id="g_b11" gradientUnits="userSpaceOnUse" cx="0" cy="0" r="3.2"><stop offset="0.000" stop-color="#28c6fa" stop-opacity="1.00"/><stop offset="0.031" stop-color="#28c6fa" stop-opacity="1.00"/><stop offset="0.062" stop-color="#28c6fa" stop-opacity="1.00"/><stop offset="0.094" stop-color="#28c6fa" stop-opacity="1.00"/><stop offset="0.125" stop-color="#28c6fa" stop-opacity="1.00"/><stop offset="0.156" stop-color="#28c5fa" stop-opacity="1.00"/><stop offset="0.188" stop-color="#27c5fa" stop-opacity="1.00"/><stop offset="0.219" stop-color="#27c3fa" stop-opacity="1.00"/><stop offset="0.250" stop-color="#26c1fa" stop-opacity="1.00"/><stop offset="0.281" stop-color="#24bdfa" stop-opacity="1.00"/><stop offset="0.312" stop-color="#21b7fa" stop-opacity="1.00"/><stop offset="0.344" stop-color="#1faefa" stop-opacity="1.00"/><stop offset="0.375" stop-color="#1ea2fa" stop-opacity="1.00"/><stop offset="0.406" stop-color="#1e8bf7" stop-opacity="1.00"/><stop offset="0.438" stop-color="#1e73f1" stop-opacity="1.00"/><stop offset="0.469" stop-color="#1a54ec" stop-opacity="0.75"/><stop offset="0.500" stop-color="#133ce1" stop-opacity="0.45"/><stop offset="0.531" stop-color="#0c2eda" stop-opacity="0.23"/><stop offset="0.562" stop-color="#0826d6" stop-opacity="0.10"/><stop offset="0.594" stop-color="#0522d3" stop-opacity="0.04"/><stop offset="0.625" stop-color="#0420d2" stop-opacity="0.01"/><stop offset="0.656" stop-color="#041fd1" stop-opacity="0.00"/><stop offset="0.688" stop-color="#041fd1" stop-opacity="0.00"/><stop offset="0.719" stop-color="#041fd1" stop-opacity="0.00"/><stop offset="0.750" stop-color="#041fd1" stop-opacity="0.00"/><stop offset="0.781" stop-color="#041fd1" stop-opacity="0.00"/><stop offset="0.812" stop-color="#041fd1" stop-opacity="0.00"/><stop offset="0.844" stop-color="#041fd1" stop-opacity="0.00"/><stop offset="0.875" stop-color="#041fd1" stop-opacity="0.00"/><stop offset="0.906" stop-color="#041fd1" stop-opacity="0.00"/><stop offset="0.938" stop-color="#041fd1" stop-opacity="0.00"/><stop offset="0.969" stop-color="#041fd1" stop-opacity="0.00"/><stop offset="1.000" stop-color="#041fd1" stop-opacity="0.00"/></radialGradient><radialGradient id="g_b12" gradientUnits="userSpaceOnUse" cx="0" cy="0" r="3.2"><stop offset="0.000" stop-color="#1950eb" stop-opacity="1.00"/><stop offset="0.031" stop-color="#1950eb" stop-opacity="1.00"/><stop offset="0.062" stop-color="#194fea" stop-opacity="1.00"/><stop offset="0.094" stop-color="#184dea" stop-opacity="1.00"/><stop offset="0.125" stop-color="#184ce9" stop-opacity="1.00"/><stop offset="0.156" stop-color="#1749e8" stop-opacity="1.00"/><stop offset="0.188" stop-color="#1646e6" stop-opacity="1.00"/><stop offset="0.219" stop-color="#1543e5" stop-opacity="1.00"/><stop offset="0.250" stop-color="#1540e3" stop-opacity="1.00"/><stop offset="0.281" stop-color="#133de1" stop-opacity="1.00"/><stop offset="0.312" stop-color="#123ae0" stop-opacity="1.00"/><stop offset="0.344" stop-color="#1138df" stop-opacity="1.00"/><stop offset="0.375" stop-color="#1035de" stop-opacity="1.00"/><stop offset="0.406" stop-color="#0e33dc" stop-opacity="1.00"/><stop offset="0.438" stop-color="#0d30db" stop-opacity="1.00"/><stop offset="0.469" stop-color="#0c2eda" stop-opacity="0.93"/><stop offset="0.500" stop-color="#0b2cd9" stop-opacity="0.79"/><stop offset="0.531" stop-color="#0a2ad8" stop-opacity="0.67"/><stop offset="0.562" stop-color="#0928d7" stop-opacity="0.57"/><stop offset="0.594" stop-color="#0827d6" stop-opacity="0.47"/><stop offset="0.625" stop-color="#0826d5" stop-opacity="0.39"/><stop offset="0.656" stop-color="#0724d5" stop-opacity="0.32"/><stop offset="0.688" stop-color="#0623d4" stop-opacity="0.25"/><stop offset="0.719" stop-color="#0623d3" stop-opacity="0.20"/><stop offset="0.750" stop-color="#0522d3" stop-opacity="0.16"/><stop offset="0.781" stop-color="#0521d3" stop-opacity="0.13"/><stop offset="0.812" stop-color="#0521d2" stop-opacity="0.10"/><stop offset="0.844" stop-color="#0520d2" stop-opacity="0.07"/><stop offset="0.875" stop-color="#0520d2" stop-opacity="0.06"/><stop offset="0.906" stop-color="#0420d2" stop-opacity="0.04"/><stop offset="0.938" stop-color="#0420d2" stop-opacity="0.03"/><stop offset="0.969" stop-color="#0420d2" stop-opacity="0.02"/><stop offset="1.000" stop-color="#041fd2" stop-opacity="0.00"/></radialGradient><radialGradient id="g_b13" gradientUnits="userSpaceOnUse" cx="0" cy="0" r="3.2"><stop offset="0.000" stop-color="#6e0000" stop-opacity="1.00"/><stop offset="0.031" stop-color="#710000" stop-opacity="1.00"/><stop offset="0.062" stop-color="#7b0000" stop-opacity="1.00"/><stop offset="0.094" stop-color="#900000" stop-opacity="1.00"/><stop offset="0.125" stop-color="#ae0000" stop-opacity="1.00"/><stop offset="0.156" stop-color="#d50000" stop-opacity="1.00"/><stop offset="0.188" stop-color="#ea1500" stop-opacity="1.00"/><stop offset="0.219" stop-color="#fa3900" stop-opacity="1.00"/><stop offset="0.250" stop-color="#ff5d00" stop-opacity="1.00"/><stop offset="0.281" stop-color="#ff8000" stop-opacity="1.00"/><stop offset="0.312" stop-color="#ffa000" stop-opacity="1.00"/><stop offset="0.344" stop-color="#fdcc30" stop-opacity="1.00"/><stop offset="0.375" stop-color="#ecec77" stop-opacity="1.00"/><stop offset="0.406" stop-color="#abf5c7" stop-opacity="1.00"/><stop offset="0.438" stop-color="#62eaf5" stop-opacity="1.00"/><stop offset="0.469" stop-color="#35d2fa" stop-opacity="0.91"/><stop offset="0.500" stop-color="#27c3fa" stop-opacity="0.76"/><stop offset="0.531" stop-color="#20b2fa" stop-opacity="0.62"/><stop offset="0.562" stop-color="#1ea2fa" stop-opacity="0.50"/><stop offset="0.594" stop-color="#1e89f6" stop-opacity="0.40"/><stop offset="0.625" stop-color="#1e75f2" stop-opacity="0.31"/><stop offset="0.656" stop-color="#1c60ee" stop-opacity="0.24"/><stop offset="0.688" stop-color="#184ce9" stop-opacity="0.18"/><stop offset="0.719" stop-color="#143ee2" stop-opacity="0.13"/><stop offset="0.750" stop-color="#1036de" stop-opacity="0.10"/><stop offset="0.781" stop-color="#0d30db" stop-opacity="0.07"/><stop offset="0.812" stop-color="#0b2bd9" stop-opacity="0.05"/><stop offset="0.844" stop-color="#0928d6" stop-opacity="0.03"/><stop offset="0.875" stop-color="#0725d5" stop-opacity="0.02"/><stop offset="0.906" stop-color="#0623d4" stop-opacity="0.02"/><stop offset="0.938" stop-color="#0522d3" stop-opacity="0.01"/><stop offset="0.969" stop-color="#0521d2" stop-opacity="0.01"/><stop offset="1.000" stop-color="#0520d2" stop-opacity="0.00"/></radialGradient><linearGradient id="g_bk" gradientUnits="userSpaceOnUse" x1="0" y1="1030" x2="0" y2="1165"><stop offset="0.000" stop-color="#021ccf"/><stop offset="0.450" stop-color="#0f34dd"/><stop offset="1.000" stop-color="#1e6ef0"/></linearGradient><linearGradient id="g_rg0" gradientUnits="userSpaceOnUse" x1="0" y1="1105" x2="0" y2="1162"><stop offset="0.000" stop-color="#0623d4"/><stop offset="1.000" stop-color="#1e98f9"/></linearGradient><linearGradient gradientTransform="rotate(-22 232 1260)" id="g_fn0" gradientUnits="userSpaceOnUse" x1="0" y1="1116.3" x2="0" y2="1389.8"><stop offset="0.000" stop-color="#1137df"/><stop offset="0.119" stop-color="#1e82f5"/><stop offset="0.237" stop-color="#20b4fa"/><stop offset="0.356" stop-color="#2eccfa"/><stop offset="0.451" stop-color="#64ebf5"/><stop offset="0.505" stop-color="#adf5c5"/><stop offset="0.558" stop-color="#ebec78"/><stop offset="0.647" stop-color="#ffbe14"/><stop offset="0.742" stop-color="#ff8200"/><stop offset="0.827" stop-color="#ff4600"/><stop offset="0.912" stop-color="#dc0000"/><stop offset="1.000" stop-color="#6e0000"/></linearGradient><linearGradient gradientTransform="rotate(-15 170 1180)" id="g_in0" gradientUnits="userSpaceOnUse" x1="0" y1="1090" x2="0" y2="1265"><stop offset="0.000" stop-color="#1950eb"/><stop offset="0.450" stop-color="#1ea0fa"/><stop offset="0.750" stop-color="#25bffa"/><stop offset="1.000" stop-color="#64ebf5"/></linearGradient><linearGradient id="g_bd" gradientUnits="userSpaceOnUse" x1="130.7" y1="1062.6" x2="154.7" y2="1112.1"><stop offset="0.000" stop-color="#0008be" stop-opacity="1.00"/><stop offset="0.500" stop-color="#0010c5" stop-opacity="0.90"/><stop offset="1.000" stop-color="#0623d4" stop-opacity="0.00"/></linearGradient><linearGradient id="g_cb" x1="0" y1="0" x2="0" y2="1"><stop offset="0.000" stop-color="#6e0000"/><stop offset="0.040" stop-color="#a00000"/><stop offset="0.090" stop-color="#dc0000"/><stop offset="0.140" stop-color="#f01e00"/><stop offset="0.190" stop-color="#ff4600"/><stop offset="0.290" stop-color="#ff8200"/><stop offset="0.350" stop-color="#ffa000"/><stop offset="0.390" stop-color="#ffbe14"/><stop offset="0.450" stop-color="#fae15a"/><stop offset="0.490" stop-color="#e6f082"/><stop offset="0.520" stop-color="#c8f5aa"/><stop offset="0.550" stop-color="#a0f5d2"/><stop offset="0.600" stop-color="#64ebf5"/><stop offset="0.650" stop-color="#37d4fa"/><stop offset="0.700" stop-color="#28c6fa"/><stop offset="0.750" stop-color="#20b4fa"/><stop offset="0.800" stop-color="#1ea0fa"/><stop offset="0.840" stop-color="#1e82f5"/><stop offset="0.870" stop-color="#1e6ef0"/><stop offset="0.900" stop-color="#1950eb"/><stop offset="0.920" stop-color="#143ee2"/><stop offset="0.950" stop-color="#0a2ad8"/><stop offset="0.975" stop-color="#0018cd"/><stop offset="1.000" stop-color="#0008be"/></linearGradient></defs>
<path d="M201.8 1028.2L572.3 1043.8L561.6 1410.6M209.5 1380.4V1028.2M59.6 1097L75.3 1515.1" fill="none" stroke="#000" stroke-width="1"/>
<path d="M75.3 1515.1L493.3 1556.4L561.6 1410.6L209.5 1380.4Z" fill="#041fd1"/>
<g clip-path="url(#g_fl)">
<circle r="3.2" fill="url(#g_b0)" transform="matrix(25.9997 2.3835 77.3118 -80.6236 174.28 1444.17)"/>
<circle r="3.2" fill="url(#g_b1)" transform="matrix(100.3112 9.8278 8.7393 -13.3017 345.17 1532.22)"/>
<circle r="3.2" fill="url(#g_b2)" transform="matrix(27.7624 2.4518 11.6104 -16.0033 366.38 1423.14)"/>
<circle r="0.803" fill="none" stroke="#222" stroke-width="0.8" stroke-opacity="0.75" vector-effect="non-scaling-stroke" transform="matrix(27.7624 2.4518 11.6104 -16.0033 366.38 1423.14)"/>
<circle r="3.2" fill="url(#g_b3)" transform="matrix(58.7086 5.4436 9.4359 -14.4778 386.44 1475.72)"/>
<circle r="0.803" fill="none" stroke="#222" stroke-width="0.8" stroke-opacity="0.75" vector-effect="non-scaling-stroke" transform="matrix(58.7086 5.4436 9.4359 -14.4778 386.44 1475.72)"/>
<circle r="3.2" fill="url(#g_b4)" transform="matrix(26.7878 2.4217 11.7285 -20.1007 452.42 1454.97)"/>
<circle r="3.2" fill="url(#g_b5)" transform="matrix(7.3429 0.6539 3.9455 -5.1320 330.39 1428.45)"/>
<circle r="3.2" fill="url(#g_b6)" transform="matrix(7.5312 0.6834 4.0436 -5.4006 330.81 1447.80)"/>
<circle r="3.2" fill="url(#g_b7)" transform="matrix(7.8444 0.7394 5.4429 -6.8993 272.63 1482.77)"/>
<circle r="3.2" fill="url(#g_b8)" transform="matrix(10.9986 0.9655 3.7218 -5.8813 434.73 1423.00)"/>
<circle r="3.2" fill="url(#g_b9)" transform="matrix(14.9249 1.3180 3.8000 -6.9095 489.75 1433.94)"/>
<circle r="3.2" fill="url(#g_b10)" transform="matrix(15.2647 1.3782 4.3135 -7.2749 446.29 1453.07)"/>
<circle r="3.2" fill="url(#g_b11)" transform="matrix(24.8226 2.2756 54.5943 -63.6429 245.29 1450.68)"/>
<circle r="1.218" fill="none" stroke="#222" stroke-width="0.8" stroke-opacity="0.75" vector-effect="non-scaling-stroke" transform="matrix(24.8226 2.2756 54.5943 -63.6429 245.29 1450.68)"/>
<circle r="3.2" fill="url(#g_b12)" transform="matrix(4.3235 0.3832 7.2950 -8.3187 259.94 1417.31)"/>
<circle r="3.2" fill="url(#g_b13)" transform="matrix(15.3716 1.4939 30.5775 -28.0799 241.64 1470.46)"/>
<circle r="1.811" fill="none" stroke="#222" stroke-width="0.8" stroke-opacity="0.75" vector-effect="non-scaling-stroke" transform="matrix(15.3716 1.4939 30.5775 -28.0799 241.64 1470.46)"/>
<circle r="1.581" fill="none" stroke="#222" stroke-width="0.8" stroke-opacity="0.75" vector-effect="non-scaling-stroke" transform="matrix(15.3716 1.4939 30.5775 -28.0799 241.64 1470.46)"/>
<circle r="1.397" fill="none" stroke="#222" stroke-width="0.8" stroke-opacity="0.75" vector-effect="non-scaling-stroke" transform="matrix(15.3716 1.4939 30.5775 -28.0799 241.64 1470.46)"/>
<circle r="1.233" fill="none" stroke="#222" stroke-width="0.8" stroke-opacity="0.75" vector-effect="non-scaling-stroke" transform="matrix(15.3716 1.4939 30.5775 -28.0799 241.64 1470.46)"/>
<circle r="1.078" fill="none" stroke="#222" stroke-width="0.8" stroke-opacity="0.75" vector-effect="non-scaling-stroke" transform="matrix(15.3716 1.4939 30.5775 -28.0799 241.64 1470.46)"/>
<circle r="0.920" fill="none" stroke="#222" stroke-width="0.8" stroke-opacity="0.75" vector-effect="non-scaling-stroke" transform="matrix(15.3716 1.4939 30.5775 -28.0799 241.64 1470.46)"/>
<circle r="0.750" fill="none" stroke="#222" stroke-width="0.8" stroke-opacity="0.75" vector-effect="non-scaling-stroke" transform="matrix(15.3716 1.4939 30.5775 -28.0799 241.64 1470.46)"/>
<circle r="0.540" fill="none" stroke="#222" stroke-width="0.8" stroke-opacity="0.75" vector-effect="non-scaling-stroke" transform="matrix(15.3716 1.4939 30.5775 -28.0799 241.64 1470.46)"/>
</g>
<path d="M59.6 1097L201.8 1028.2L237 1041L248 1053.5L253.5 1048L267 1056L281 1055L292 1066L308.5 1051L327.8 1055L352.5 1053.5L380 1052L407.5 1048L435 1044.7L490 1044.7L571 1045.3L558.8 1100.3L545 1083.8L528.5 1094.8L517.5 1103L501 1119L462.5 1119.5L435 1133.3L407.5 1149.8L380 1158L363.5 1160.8L352.5 1155.3L338.8 1141.5L325 1130.5L308.5 1127.8L250 1125L150 1110Z" fill="url(#g_bk)"/>
<path d="M215 1158L228.8 1138.8L256.3 1119.5L283.8 1109.9L320 1108L380 1109L430 1107L480 1105L501 1119L462.5 1119.5L435 1133.3L407.5 1149.8L380 1158L363.5 1160.8L352.5 1155.3L338.8 1141.5L325 1130.5L308.5 1127.8Z" fill="url(#g_rg0)"/>
<path d="M59.6 1097L77.5 1103L99.5 1103L116 1111.3L129.8 1130.5L140.8 1158L154.5 1193.8L165.5 1229.5L176.5 1262.5L187.5 1300L198.5 1321.3L215 1362.5L224 1385L230 1396L235.6 1399.6L241 1396L245 1386L250.8 1362.5L261.8 1321.3L274.1 1280L286.5 1221.3L297.5 1174.5L308.5 1127.8L283.8 1109.9L256.3 1119.5L228.8 1138.8L215 1158L204 1185.5L193 1224L180 1256L172 1240L160 1200L150 1160L140 1125L120 1105Z" fill="url(#g_fn0)"/>
<path d="M116 1111.3L129.8 1130.5L140.8 1158L154.5 1193.8L165.5 1229.5L176.5 1262.5L180 1256L193 1224L204 1185.5L215 1158L228.8 1138.8L256.3 1119.5L283.8 1109.9L250 1090L200 1075L150 1095Z" fill="url(#g_in0)"/>
<path d="M59.6 1097L201.8 1028.2L237 1041L252 1058L262 1080L220 1100L160 1125L125 1122L116 1111.3L99.5 1103L77.5 1103Z" fill="url(#g_bd)"/>
<path d="M59.6 1097L201.8 1028.2" stroke="#333" stroke-width="1.2" stroke-dasharray="1.5 1"/>
<rect x="58.7" y="1122.3" width="16.8" height="348.7" fill="url(#g_cb)"/>
<rect x="58.7" y="1119.4" width="16.8" height="2.9" fill="#fff"/>
<rect x="58.7" y="1471" width="16.8" height="3.6" fill="#000"/>
<rect x="58.7" y="1119.4" width="16.8" height="355.2" fill="none" stroke="#000" stroke-width="0.8"/>
<text x="90" y="1127.5" font-size="14.5" font-weight="bold">1.30</text>
<text x="90" y="1162.4" font-size="14.5" font-weight="bold">1.18</text>
<text x="90" y="1197.2" font-size="14.5" font-weight="bold">1.05</text>
<text x="90" y="1232.1" font-size="14.5" font-weight="bold">0.92</text>
<text x="90" y="1267" font-size="14.5" font-weight="bold">0.79</text>
<text x="90" y="1301.9" font-size="14.5" font-weight="bold">0.66</text>
<text x="90" y="1336.7" font-size="14.5" font-weight="bold">0.52</text>
<text x="90" y="1371.6" font-size="14.5" font-weight="bold">0.39</text>
<text x="90" y="1406.5" font-size="14.5" font-weight="bold">0.26</text>
<text x="90" y="1441.3" font-size="14.5" font-weight="bold">0.13</text>
<text x="90" y="1476.2" font-size="14.5" font-weight="bold">0.00</text>
<path d="M75.5 1122.3h8.5M75.5 1157.2h8.5M75.5 1192h8.5M75.5 1226.9h8.5M75.5 1261.8h8.5M75.5 1296.7h8.5M75.5 1331.5h8.5M75.5 1366.4h8.5M75.5 1401.3h8.5M75.5 1436.1h8.5M75.5 1471h8.5" stroke="#222" stroke-width="1.3"/>
<text x="290.5" y="1315" font-size="32.2" font-weight="bold">CuN<tspan font-size="22" dy="7">3</tspan><tspan dy="-7">-SAzyme</tspan></text>
<text transform="matrix(0.296 -0.298 0.995 0.098 74.2 1522.8)" font-size="18" font-weight="bold">0</text>
<text transform="matrix(0.279 -0.314 0.995 0.098 155.8 1531.2)" font-size="18" font-weight="bold">1</text>
<text transform="matrix(0.259 -0.331 0.995 0.098 238.6 1539.7)" font-size="18" font-weight="bold">2</text>
<text transform="matrix(0.236 -0.348 0.995 0.098 322.8 1548.4)" font-size="18" font-weight="bold">3</text>
<text transform="matrix(0.209 -0.364 0.995 0.098 408.2 1557.2)" font-size="18" font-weight="bold">4</text>
<text transform="matrix(0.178 -0.380 0.995 0.098 495 1566)" font-size="18" font-weight="bold">5</text>
<text transform="matrix(0.995 0.098 -0.212 0.453 505.2 1561.6)" font-size="17" font-weight="bold">0</text>
<text transform="matrix(0.995 0.095 -0.212 0.453 521 1527.9)" font-size="17" font-weight="bold">3</text>
<text transform="matrix(0.996 0.093 -0.212 0.453 535.6 1496.7)" font-size="17" font-weight="bold">6</text>
<text transform="matrix(0.996 0.090 -0.212 0.453 549.2 1467.7)" font-size="17" font-weight="bold">9</text>
<text transform="matrix(0.996 0.088 -0.212 0.453 561.8 1440.8)" font-size="17" font-weight="bold">12</text>
<text transform="matrix(0.996 0.085 -0.212 0.453 573.6 1415.6)" font-size="17" font-weight="bold">15</text>
<path d="M75.3 1515.1l-4.9 5M156.5 1523.1l-4.7 5.2M238.8 1531.3l-4.3 5.5M322.4 1539.5l-3.9 5.8M407.2 1547.9l-3.5 6.1M493.3 1556.4l-3 6.3M493.3 1556.4l8 0.8M509.1 1522.7l8 0.8M523.7 1491.6l8 0.7M537.2 1462.6l8 0.7M549.8 1435.7l8 0.7M561.6 1410.6l8 0.7" stroke="#000" stroke-width="1.2"/>
<text transform="matrix(0.995 0.098 -0.318 0.385 199.4 1552.7)" font-size="27" font-weight="bold" font-style="italic" letter-spacing="2">R + α (Å)</text>
<text transform="matrix(0.318 -0.679 0.846 0.078 581.8 1490.6)" font-size="22" font-weight="bold" font-style="italic" text-anchor="middle">k(Å<tspan font-size="14" dy="-8">-1</tspan><tspan dy="8">)</tspan></text>
<text x="16" y="1053" font-size="44" font-weight="bold">g</text>
<defs><clipPath id="h_fl"><path d="M743.4 1500L1161.4 1545.4L1226 1394.1L879 1364.7Z"/></clipPath><radialGradient id="h_b0" gradientUnits="userSpaceOnUse" cx="0" cy="0" r="3.2"><stop offset="0.000" stop-color="#0008be" stop-opacity="1.00"/><stop offset="0.031" stop-color="#0008be" stop-opacity="1.00"/><stop offset="0.062" stop-color="#0008be" stop-opacity="1.00"/><stop offset="0.094" stop-color="#0008be" stop-opacity="1.00"/><stop offset="0.125" stop-color="#0008be" stop-opacity="1.00"/><stop offset="0.156" stop-color="#0008be" stop-opacity="1.00"/><stop offset="0.188" stop-color="#0009bf" stop-opacity="1.00"/><stop offset="0.219" stop-color="#0009bf" stop-opacity="1.00"/><stop offset="0.250" stop-color="#000ac0" stop-opacity="1.00"/><stop offset="0.281" stop-color="#000bc1" stop-opacity="1.00"/><stop offset="0.312" stop-color="#000dc3" stop-opacity="1.00"/><stop offset="0.344" stop-color="#000fc4" stop-opacity="1.00"/><stop offset="0.375" stop-color="#0011c6" stop-opacity="1.00"/><stop offset="0.406" stop-color="#0013c9" stop-opacity="1.00"/><stop offset="0.438" stop-color="#0016cb" stop-opacity="1.00"/><stop offset="0.469" stop-color="#0018cd" stop-opacity="0.81"/><stop offset="0.500" stop-color="#011ace" stop-opacity="0.56"/><stop offset="0.531" stop-color="#021ccf" stop-opacity="0.35"/><stop offset="0.562" stop-color="#031dd0" stop-opacity="0.21"/><stop offset="0.594" stop-color="#031ed1" stop-opacity="0.11"/><stop offset="0.625" stop-color="#041fd1" stop-opacity="0.05"/><stop offset="0.656" stop-color="#041fd1" stop-opacity="0.02"/><stop offset="0.688" stop-color="#041fd1" stop-opacity="0.01"/><stop offset="0.719" stop-color="#041fd1" stop-opacity="0.00"/><stop offset="0.750" stop-color="#041fd1" stop-opacity="0.00"/><stop offset="0.781" stop-color="#041fd1" stop-opacity="0.00"/><stop offset="0.812" stop-color="#041fd1" stop-opacity="0.00"/><stop offset="0.844" stop-color="#041fd1" stop-opacity="0.00"/><stop offset="0.875" stop-color="#041fd1" stop-opacity="0.00"/><stop offset="0.906" stop-color="#041fd1" stop-opacity="0.00"/><stop offset="0.938" stop-color="#041fd1" stop-opacity="0.00"/><stop offset="0.969" stop-color="#041fd1" stop-opacity="0.00"/><stop offset="1.000" stop-color="#041fd1" stop-opacity="0.00"/></radialGradient><radialGradient id="h_b1" gradientUnits="userSpaceOnUse" cx="0" cy="0" r="3.2"><stop offset="0.000" stop-color="#0008be" stop-opacity="1.00"/><stop offset="0.031" stop-color="#0008be" stop-opacity="1.00"/><stop offset="0.062" stop-color="#0008be" stop-opacity="1.00"/><stop offset="0.094" stop-color="#0008be" stop-opacity="1.00"/><stop offset="0.125" stop-color="#0009be" stop-opacity="1.00"/><stop offset="0.156" stop-color="#0009bf" stop-opacity="1.00"/><stop offset="0.188" stop-color="#000ac0" stop-opacity="1.00"/><stop offset="0.219" stop-color="#000bc0" stop-opacity="1.00"/><stop offset="0.250" stop-color="#000cc1" stop-opacity="1.00"/><stop offset="0.281" stop-color="#000dc3" stop-opacity="1.00"/><stop offset="0.312" stop-color="#000fc4" stop-opacity="1.00"/><stop offset="0.344" stop-color="#0010c6" stop-opacity="1.00"/><stop offset="0.375" stop-color="#0012c8" stop-opacity="1.00"/><stop offset="0.406" stop-color="#0014c9" stop-opacity="1.00"/><stop offset="0.438" stop-color="#0016cb" stop-opacity="1.00"/><stop offset="0.469" stop-color="#0018cd" stop-opacity="0.87"/><stop offset="0.500" stop-color="#0119ce" stop-opacity="0.67"/><stop offset="0.531" stop-color="#021bcf" stop-opacity="0.50"/><stop offset="0.562" stop-color="#021ccf" stop-opacity="0.36"/><stop offset="0.594" stop-color="#031dd0" stop-opacity="0.25"/><stop offset="0.625" stop-color="#031ed0" stop-opacity="0.17"/><stop offset="0.656" stop-color="#031ed1" stop-opacity="0.11"/><stop offset="0.688" stop-color="#041fd1" stop-opacity="0.07"/><stop offset="0.719" stop-color="#041fd1" stop-opacity="0.04"/><stop offset="0.750" stop-color="#041fd1" stop-opacity="0.02"/><stop offset="0.781" stop-color="#041fd1" stop-opacity="0.01"/><stop offset="0.812" stop-color="#041fd1" stop-opacity="0.01"/><stop offset="0.844" stop-color="#041fd1" stop-opacity="0.00"/><stop offset="0.875" stop-color="#041fd1" stop-opacity="0.00"/><stop offset="0.906" stop-color="#041fd1" stop-opacity="0.00"/><stop offset="0.938" stop-color="#041fd1" stop-opacity="0.00"/><stop offset="0.969" stop-color="#041fd1" stop-opacity="0.00"/><stop offset="1.000" stop-color="#041fd1" stop-opacity="0.00"/></radialGradient><radialGradient id="h_b2" gradientUnits="userSpaceOnUse" cx="0" cy="0" r="3.2"><stop offset="0.000" stop-color="#1e8af6" stop-opacity="1.00"/><stop offset="0.031" stop-color="#1e89f6" stop-opacity="1.00"/><stop offset="0.062" stop-color="#1e89f6" stop-opacity="1.00"/><stop offset="0.094" stop-color="#1e89f6" stop-opacity="1.00"/><stop offset="0.125" stop-color="#1e89f6" stop-opacity="1.00"/><stop offset="0.156" stop-color="#1e89f6" stop-opacity="1.00"/><stop offset="0.188" stop-color="#1e88f6" stop-opacity="1.00"/><stop offset="0.219" stop-color="#1e87f6" stop-opacity="1.00"/><stop offset="0.250" stop-color="#1e84f5" stop-opacity="1.00"/><stop offset="0.281" stop-color="#1e80f4" stop-opacity="1.00"/><stop offset="0.312" stop-color="#1e7af3" stop-opacity="1.00"/><stop offset="0.344" stop-color="#1e72f1" stop-opacity="1.00"/><stop offset="0.375" stop-color="#1d66ef" stop-opacity="1.00"/><stop offset="0.406" stop-color="#1a55ec" stop-opacity="1.00"/><stop offset="0.438" stop-color="#1644e5" stop-opacity="1.00"/><stop offset="0.469" stop-color="#1138df" stop-opacity="0.75"/><stop offset="0.500" stop-color="#0c2eda" stop-opacity="0.45"/><stop offset="0.531" stop-color="#0827d6" stop-opacity="0.23"/><stop offset="0.562" stop-color="#0623d4" stop-opacity="0.10"/><stop offset="0.594" stop-color="#0520d2" stop-opacity="0.04"/><stop offset="0.625" stop-color="#0420d2" stop-opacity="0.01"/><stop offset="0.656" stop-color="#041fd1" stop-opacity="0.00"/><stop offset="0.688" stop-color="#041fd1" stop-opacity="0.00"/><stop offset="0.719" stop-color="#041fd1" stop-opacity="0.00"/><stop offset="0.750" stop-color="#041fd1" stop-opacity="0.00"/><stop offset="0.781" stop-color="#041fd1" stop-opacity="0.00"/><stop offset="0.812" stop-color="#041fd1" stop-opacity="0.00"/><stop offset="0.844" stop-color="#041fd1" stop-opacity="0.00"/><stop offset="0.875" stop-color="#041fd1" stop-opacity="0.00"/><stop offset="0.906" stop-color="#041fd1" stop-opacity="0.00"/><stop offset="0.938" stop-color="#041fd1" stop-opacity="0.00"/><stop offset="0.969" stop-color="#041fd1" stop-opacity="0.00"/><stop offset="1.000" stop-color="#041fd1" stop-opacity="0.00"/></radialGradient><radialGradient id="h_b3" gradientUnits="userSpaceOnUse" cx="0" cy="0" r="3.2"><stop offset="0.000" stop-color="#1e7bf3" stop-opacity="1.00"/><stop offset="0.031" stop-color="#1e7bf3" stop-opacity="1.00"/><stop offset="0.062" stop-color="#1e7bf3" stop-opacity="1.00"/><stop offset="0.094" stop-color="#1e7bf3" stop-opacity="1.00"/><stop offset="0.125" stop-color="#1e7bf3" stop-opacity="1.00"/><stop offset="0.156" stop-color="#1e7bf3" stop-opacity="1.00"/><stop offset="0.188" stop-color="#1e7af3" stop-opacity="1.00"/><stop offset="0.219" stop-color="#1e79f3" stop-opacity="1.00"/><stop offset="0.250" stop-color="#1e77f2" stop-opacity="1.00"/><stop offset="0.281" stop-color="#1e74f1" stop-opacity="1.00"/><stop offset="0.312" stop-color="#1e6ff0" stop-opacity="1.00"/><stop offset="0.344" stop-color="#1d66ef" stop-opacity="1.00"/><stop offset="0.375" stop-color="#1b59ed" stop-opacity="1.00"/><stop offset="0.406" stop-color="#184be9" stop-opacity="1.00"/><stop offset="0.438" stop-color="#143ee2" stop-opacity="1.00"/><stop offset="0.469" stop-color="#0f34dd" stop-opacity="0.75"/><stop offset="0.500" stop-color="#0b2cd9" stop-opacity="0.45"/><stop offset="0.531" stop-color="#0826d6" stop-opacity="0.23"/><stop offset="0.562" stop-color="#0622d3" stop-opacity="0.10"/><stop offset="0.594" stop-color="#0520d2" stop-opacity="0.04"/><stop offset="0.625" stop-color="#041fd2" stop-opacity="0.01"/><stop offset="0.656" stop-color="#041fd1" stop-opacity="0.00"/><stop offset="0.688" stop-color="#041fd1" stop-opacity="0.00"/><stop offset="0.719" stop-color="#041fd1" stop-opacity="0.00"/><stop offset="0.750" stop-color="#041fd1" stop-opacity="0.00"/><stop offset="0.781" stop-color="#041fd1" stop-opacity="0.00"/><stop offset="0.812" stop-color="#041fd1" stop-opacity="0.00"/><stop offset="0.844" stop-color="#041fd1" stop-opacity="0.00"/><stop offset="0.875" stop-color="#041fd1" stop-opacity="0.00"/><stop offset="0.906" stop-color="#041fd1" stop-opacity="0.00"/><stop offset="0.938" stop-color="#041fd1" stop-opacity="0.00"/><stop offset="0.969" stop-color="#041fd1" stop-opacity="0.00"/><stop offset="1.000" stop-color="#041fd1" stop-opacity="0.00"/></radialGradient><radialGradient id="h_b4" gradientUnits="userSpaceOnUse" cx="0" cy="0" r="3.2"><stop offset="0.000" stop-color="#0008be" stop-opacity="1.00"/><stop offset="0.031" stop-color="#0008be" stop-opacity="1.00"/><stop offset="0.062" stop-color="#0008be" stop-opacity="1.00"/><stop offset="0.094" stop-color="#0009bf" stop-opacity="1.00"/><stop offset="0.125" stop-color="#000ac0" stop-opacity="1.00"/><stop offset="0.156" stop-color="#000bc0" stop-opacity="1.00"/><stop offset="0.188" stop-color="#000cc1" stop-opacity="1.00"/><stop offset="0.219" stop-color="#000dc3" stop-opacity="1.00"/><stop offset="0.250" stop-color="#000ec4" stop-opacity="1.00"/><stop offset="0.281" stop-color="#000fc5" stop-opacity="1.00"/><stop offset="0.312" stop-color="#0011c6" stop-opacity="1.00"/><stop offset="0.344" stop-color="#0012c8" stop-opacity="1.00"/><stop offset="0.375" stop-color="#0013c9" stop-opacity="1.00"/><stop offset="0.406" stop-color="#0015ca" stop-opacity="1.00"/><stop offset="0.438" stop-color="#0016cb" stop-opacity="1.00"/><stop offset="0.469" stop-color="#0017cc" stop-opacity="0.93"/><stop offset="0.500" stop-color="#0018cd" stop-opacity="0.79"/><stop offset="0.531" stop-color="#0119ce" stop-opacity="0.67"/><stop offset="0.562" stop-color="#011ace" stop-opacity="0.57"/><stop offset="0.594" stop-color="#021bcf" stop-opacity="0.47"/><stop offset="0.625" stop-color="#021ccf" stop-opacity="0.39"/><stop offset="0.656" stop-color="#021cd0" stop-opacity="0.32"/><stop offset="0.688" stop-color="#031dd0" stop-opacity="0.25"/><stop offset="0.719" stop-color="#031dd0" stop-opacity="0.20"/><stop offset="0.750" stop-color="#031ed1" stop-opacity="0.16"/><stop offset="0.781" stop-color="#031ed1" stop-opacity="0.13"/><stop offset="0.812" stop-color="#041ed1" stop-opacity="0.10"/><stop offset="0.844" stop-color="#041fd1" stop-opacity="0.07"/><stop offset="0.875" stop-color="#041fd1" stop-opacity="0.06"/><stop offset="0.906" stop-color="#041fd1" stop-opacity="0.04"/><stop offset="0.938" stop-color="#041fd1" stop-opacity="0.03"/><stop offset="0.969" stop-color="#041fd1" stop-opacity="0.02"/><stop offset="1.000" stop-color="#041fd1" stop-opacity="0.00"/></radialGradient><radialGradient id="h_b5" gradientUnits="userSpaceOnUse" cx="0" cy="0" r="3.2"><stop offset="0.000" stop-color="#0008be" stop-opacity="1.00"/><stop offset="0.031" stop-color="#0008be" stop-opacity="1.00"/><stop offset="0.062" stop-color="#0008be" stop-opacity="1.00"/><stop offset="0.094" stop-color="#0009bf" stop-opacity="1.00"/><stop offset="0.125" stop-color="#000ac0" stop-opacity="1.00"/><stop offset="0.156" stop-color="#000bc0" stop-opacity="1.00"/><stop offset="0.188" stop-color="#000cc1" stop-opacity="1.00"/><stop offset="0.219" stop-color="#000dc3" stop-opacity="1.00"/><stop offset="0.250" stop-color="#000ec4" stop-opacity="1.00"/><stop offset="0.281" stop-color="#000fc5" stop-opacity="1.00"/><stop offset="0.312" stop-color="#0011c6" stop-opacity="1.00"/><stop offset="0.344" stop-color="#0012c8" stop-opacity="1.00"/><stop offset="0.375" stop-color="#0013c9" stop-opacity="1.00"/><stop offset="0.406" stop-color="#0015ca" stop-opacity="1.00"/><stop offset="0.438" stop-color="#0016cb" stop-opacity="1.00"/><stop offset="0.469" stop-color="#0017cc" stop-opacity="0.93"/><stop offset="0.500" stop-color="#0018cd" stop-opacity="0.79"/><stop offset="0.531" stop-color="#0119ce" stop-opacity="0.67"/><stop offset="0.562" stop-color="#011ace" stop-opacity="0.57"/><stop offset="0.594" stop-color="#021bcf" stop-opacity="0.47"/><stop offset="0.625" stop-color="#021ccf" stop-opacity="0.39"/><stop offset="0.656" stop-color="#021cd0" stop-opacity="0.32"/><stop offset="0.688" stop-color="#031dd0" stop-opacity="0.25"/><stop offset="0.719" stop-color="#031dd0" stop-opacity="0.20"/><stop offset="0.750" stop-color="#031ed1" stop-opacity="0.16"/><stop offset="0.781" stop-color="#031ed1" stop-opacity="0.13"/><stop offset="0.812" stop-color="#041ed1" stop-opacity="0.10"/><stop offset="0.844" stop-color="#041fd1" stop-opacity="0.07"/><stop offset="0.875" stop-color="#041fd1" stop-opacity="0.06"/><stop offset="0.906" stop-color="#041fd1" stop-opacity="0.04"/><stop offset="0.938" stop-color="#041fd1" stop-opacity="0.03"/><stop offset="0.969" stop-color="#041fd1" stop-opacity="0.02"/><stop offset="1.000" stop-color="#041fd1" stop-opacity="0.00"/></radialGradient><radialGradient id="h_b6" gradientUnits="userSpaceOnUse" cx="0" cy="0" r="3.2"><stop offset="0.000" stop-color="#0008be" stop-opacity="1.00"/><stop offset="0.031" stop-color="#0008be" stop-opacity="1.00"/><stop offset="0.062" stop-color="#0008be" stop-opacity="1.00"/><stop offset="0.094" stop-color="#0009bf" stop-opacity="1.00"/><stop offset="0.125" stop-color="#000ac0" stop-opacity="1.00"/><stop offset="0.156" stop-color="#000bc0" stop-opacity="1.00"/><stop offset="0.188" stop-color="#000cc1" stop-opacity="1.00"/><stop offset="0.219" stop-color="#000dc3" stop-opacity="1.00"/><stop offset="0.250" stop-color="#000ec4" stop-opacity="1.00"/><stop offset="0.281" stop-color="#000fc5" stop-opacity="1.00"/><stop offset="0.312" stop-color="#0011c6" stop-opacity="1.00"/><stop offset="0.344" stop-color="#0012c8" stop-opacity="1.00"/><stop offset="0.375" stop-color="#0013c9" stop-opacity="1.00"/><stop offset="0.406" stop-color="#0015ca" stop-opacity="1.00"/><stop offset="0.438" stop-color="#0016cb" stop-opacity="1.00"/><stop offset="0.469" stop-color="#0017cc" stop-opacity="0.93"/><stop offset="0.500" stop-color="#0018cd" stop-opacity="0.79"/><stop offset="0.531" stop-color="#0119ce" stop-opacity="0.67"/><stop offset="0.562" stop-color="#011ace" stop-opacity="0.57"/><stop offset="0.594" stop-color="#021bcf" stop-opacity="0.47"/><stop offset="0.625" stop-color="#021ccf" stop-opacity="0.39"/><stop offset="0.656" stop-color="#021cd0" stop-opacity="0.32"/><stop offset="0.688" stop-color="#031dd0" stop-opacity="0.25"/><stop offset="0.719" stop-color="#031dd0" stop-opacity="0.20"/><stop offset="0.750" stop-color="#031ed1" stop-opacity="0.16"/><stop offset="0.781" stop-color="#031ed1" stop-opacity="0.13"/><stop offset="0.812" stop-color="#041ed1" stop-opacity="0.10"/><stop offset="0.844" stop-color="#041fd1" stop-opacity="0.07"/><stop offset="0.875" stop-color="#041fd1" stop-opacity="0.06"/><stop offset="0.906" stop-color="#041fd1" stop-opacity="0.04"/><stop offset="0.938" stop-color="#041fd1" stop-opacity="0.03"/><stop offset="0.969" stop-color="#041fd1" stop-opacity="0.02"/><stop offset="1.000" stop-color="#041fd1" stop-opacity="0.00"/></radialGradient><radialGradient id="h_b7" gradientUnits="userSpaceOnUse" cx="0" cy="0" r="3.2"><stop offset="0.000" stop-color="#0008be" stop-opacity="1.00"/><stop offset="0.031" stop-color="#0008be" stop-opacity="1.00"/><stop offset="0.062" stop-color="#0008be" stop-opacity="1.00"/><stop offset="0.094" stop-color="#0009bf" stop-opacity="1.00"/><stop offset="0.125" stop-color="#000ac0" stop-opacity="1.00"/><stop offset="0.156" stop-color="#000bc0" stop-opacity="1.00"/><stop offset="0.188" stop-color="#000cc1" stop-opacity="1.00"/><stop offset="0.219" stop-color="#000dc3" stop-opacity="1.00"/><stop offset="0.250" stop-color="#000ec4" stop-opacity="1.00"/><stop offset="0.281" stop-color="#000fc5" stop-opacity="1.00"/><stop offset="0.312" stop-color="#0011c6" stop-opacity="1.00"/><stop offset="0.344" stop-color="#0012c8" stop-opacity="1.00"/><stop offset="0.375" stop-color="#0013c9" stop-opacity="1.00"/><stop offset="0.406" stop-color="#0015ca" stop-opacity="1.00"/><stop offset="0.438" stop-color="#0016cb" stop-opacity="1.00"/><stop offset="0.469" stop-color="#0017cc" stop-opacity="0.93"/><stop offset="0.500" stop-color="#0018cd" stop-opacity="0.79"/><stop offset="0.531" stop-color="#0119ce" stop-opacity="0.67"/><stop offset="0.562" stop-color="#011ace" stop-opacity="0.57"/><stop offset="0.594" stop-color="#021bcf" stop-opacity="0.47"/><stop offset="0.625" stop-color="#021ccf" stop-opacity="0.39"/><stop offset="0.656" stop-color="#021cd0" stop-opacity="0.32"/><stop offset="0.688" stop-color="#031dd0" stop-opacity="0.25"/><stop offset="0.719" stop-color="#031dd0" stop-opacity="0.20"/><stop offset="0.750" stop-color="#031ed1" stop-opacity="0.16"/><stop offset="0.781" stop-color="#031ed1" stop-opacity="0.13"/><stop offset="0.812" stop-color="#041ed1" stop-opacity="0.10"/><stop offset="0.844" stop-color="#041fd1" stop-opacity="0.07"/><stop offset="0.875" stop-color="#041fd1" stop-opacity="0.06"/><stop offset="0.906" stop-color="#041fd1" stop-opacity="0.04"/><stop offset="0.938" stop-color="#041fd1" stop-opacity="0.03"/><stop offset="0.969" stop-color="#041fd1" stop-opacity="0.02"/><stop offset="1.000" stop-color="#041fd1" stop-opacity="0.00"/></radialGradient><radialGradient id="h_b8" gradientUnits="userSpaceOnUse" cx="0" cy="0" r="3.2"><stop offset="0.000" stop-color="#0008be" stop-opacity="1.00"/><stop offset="0.031" stop-color="#0008be" stop-opacity="1.00"/><stop offset="0.062" stop-color="#0008be" stop-opacity="1.00"/><stop offset="0.094" stop-color="#0009bf" stop-opacity="1.00"/><stop offset="0.125" stop-color="#000ac0" stop-opacity="1.00"/><stop offset="0.156" stop-color="#000bc0" stop-opacity="1.00"/><stop offset="0.188" stop-color="#000cc1" stop-opacity="1.00"/><stop offset="0.219" stop-color="#000dc3" stop-opacity="1.00"/><stop offset="0.250" stop-color="#000ec4" stop-opacity="1.00"/><stop offset="0.281" stop-color="#000fc5" stop-opacity="1.00"/><stop offset="0.312" stop-color="#0011c6" stop-opacity="1.00"/><stop offset="0.344" stop-color="#0012c8" stop-opacity="1.00"/><stop offset="0.375" stop-color="#0013c9" stop-opacity="1.00"/><stop offset="0.406" stop-color="#0015ca" stop-opacity="1.00"/><stop offset="0.438" stop-color="#0016cb" stop-opacity="1.00"/><stop offset="0.469" stop-color="#0017cc" stop-opacity="0.93"/><stop offset="0.500" stop-color="#0018cd" stop-opacity="0.79"/><stop offset="0.531" stop-color="#0119ce" stop-opacity="0.67"/><stop offset="0.562" stop-color="#011ace" stop-opacity="0.57"/><stop offset="0.594" stop-color="#021bcf" stop-opacity="0.47"/><stop offset="0.625" stop-color="#021ccf" stop-opacity="0.39"/><stop offset="0.656" stop-color="#021cd0" stop-opacity="0.32"/><stop offset="0.688" stop-color="#031dd0" stop-opacity="0.25"/><stop offset="0.719" stop-color="#031dd0" stop-opacity="0.20"/><stop offset="0.750" stop-color="#031ed1" stop-opacity="0.16"/><stop offset="0.781" stop-color="#031ed1" stop-opacity="0.13"/><stop offset="0.812" stop-color="#041ed1" stop-opacity="0.10"/><stop offset="0.844" stop-color="#041fd1" stop-opacity="0.07"/><stop offset="0.875" stop-color="#041fd1" stop-opacity="0.06"/><stop offset="0.906" stop-color="#041fd1" stop-opacity="0.04"/><stop offset="0.938" stop-color="#041fd1" stop-opacity="0.03"/><stop offset="0.969" stop-color="#041fd1" stop-opacity="0.02"/><stop offset="1.000" stop-color="#041fd1" stop-opacity="0.00"/></radialGradient><radialGradient id="h_b9" gradientUnits="userSpaceOnUse" cx="0" cy="0" r="3.2"><stop offset="0.000" stop-color="#0008be" stop-opacity="1.00"/><stop offset="0.031" stop-color="#0008be" stop-opacity="1.00"/><stop offset="0.062" stop-color="#0008be" stop-opacity="1.00"/><stop offset="0.094" stop-color="#0009bf" stop-opacity="1.00"/><stop offset="0.125" stop-color="#000ac0" stop-opacity="1.00"/><stop offset="0.156" stop-color="#000bc0" stop-opacity="1.00"/><stop offset="0.188" stop-color="#000cc1" stop-opacity="1.00"/><stop offset="0.219" stop-color="#000dc3" stop-opacity="1.00"/><stop offset="0.250" stop-color="#000ec4" stop-opacity="1.00"/><stop offset="0.281" stop-color="#000fc5" stop-opacity="1.00"/><stop offset="0.312" stop-color="#0011c6" stop-opacity="1.00"/><stop offset="0.344" stop-color="#0012c8" stop-opacity="1.00"/><stop offset="0.375" stop-color="#0013c9" stop-opacity="1.00"/><stop offset="0.406" stop-color="#0015ca" stop-opacity="1.00"/><stop offset="0.438" stop-color="#0016cb" stop-opacity="1.00"/><stop offset="0.469" stop-color="#0017cc" stop-opacity="0.93"/><stop offset="0.500" stop-color="#0018cd" stop-opacity="0.79"/><stop offset="0.531" stop-color="#0119ce" stop-opacity="0.67"/><stop offset="0.562" stop-color="#011ace" stop-opacity="0.57"/><stop offset="0.594" stop-color="#021bcf" stop-opacity="0.47"/><stop offset="0.625" stop-color="#021ccf" stop-opacity="0.39"/><stop offset="0.656" stop-color="#021cd0" stop-opacity="0.32"/><stop offset="0.688" stop-color="#031dd0" stop-opacity="0.25"/><stop offset="0.719" stop-color="#031dd0" stop-opacity="0.20"/><stop offset="0.750" stop-color="#031ed1" stop-opacity="0.16"/><stop offset="0.781" stop-color="#031ed1" stop-opacity="0.13"/><stop offset="0.812" stop-color="#041ed1" stop-opacity="0.10"/><stop offset="0.844" stop-color="#041fd1" stop-opacity="0.07"/><stop offset="0.875" stop-color="#041fd1" stop-opacity="0.06"/><stop offset="0.906" stop-color="#041fd1" stop-opacity="0.04"/><stop offset="0.938" stop-color="#041fd1" stop-opacity="0.03"/><stop offset="0.969" stop-color="#041fd1" stop-opacity="0.02"/><stop offset="1.000" stop-color="#041fd1" stop-opacity="0.00"/></radialGradient><radialGradient id="h_b10" gradientUnits="userSpaceOnUse" cx="0" cy="0" r="3.2"><stop offset="0.000" stop-color="#20b0fa" stop-opacity="1.00"/><stop offset="0.031" stop-color="#20b0fa" stop-opacity="1.00"/><stop offset="0.062" stop-color="#20b0fa" stop-opacity="1.00"/><stop offset="0.094" stop-color="#20b0fa" stop-opacity="1.00"/><stop offset="0.125" stop-color="#20b0fa" stop-opacity="1.00"/><stop offset="0.156" stop-color="#20b0fa" stop-opacity="1.00"/><stop offset="0.188" stop-color="#1faffa" stop-opacity="1.00"/><stop offset="0.219" stop-color="#1faefa" stop-opacity="1.00"/><stop offset="0.250" stop-color="#1fabfa" stop-opacity="1.00"/><stop offset="0.281" stop-color="#1fa8fa" stop-opacity="1.00"/><stop offset="0.312" stop-color="#1ea3fa" stop-opacity="1.00"/><stop offset="0.344" stop-color="#1e98f9" stop-opacity="1.00"/><stop offset="0.375" stop-color="#1e87f6" stop-opacity="1.00"/><stop offset="0.406" stop-color="#1e76f2" stop-opacity="1.00"/><stop offset="0.438" stop-color="#1b5eed" stop-opacity="1.00"/><stop offset="0.469" stop-color="#1646e6" stop-opacity="0.75"/><stop offset="0.500" stop-color="#1035de" stop-opacity="0.45"/><stop offset="0.531" stop-color="#0b2bd9" stop-opacity="0.23"/><stop offset="0.562" stop-color="#0724d5" stop-opacity="0.10"/><stop offset="0.594" stop-color="#0521d3" stop-opacity="0.04"/><stop offset="0.625" stop-color="#0420d2" stop-opacity="0.01"/><stop offset="0.656" stop-color="#041fd1" stop-opacity="0.00"/><stop offset="0.688" stop-color="#041fd1" stop-opacity="0.00"/><stop offset="0.719" stop-color="#041fd1" stop-opacity="0.00"/><stop offset="0.750" stop-color="#041fd1" stop-opacity="0.00"/><stop offset="0.781" stop-color="#041fd1" stop-opacity="0.00"/><stop offset="0.812" stop-color="#041fd1" stop-opacity="0.00"/><stop offset="0.844" stop-color="#041fd1" stop-opacity="0.00"/><stop offset="0.875" stop-color="#041fd1" stop-opacity="0.00"/><stop offset="0.906" stop-color="#041fd1" stop-opacity="0.00"/><stop offset="0.938" stop-color="#041fd1" stop-opacity="0.00"/><stop offset="0.969" stop-color="#041fd1" stop-opacity="0.00"/><stop offset="1.000" stop-color="#041fd1" stop-opacity="0.00"/></radialGradient><radialGradient id="h_b11" gradientUnits="userSpaceOnUse" cx="0" cy="0" r="3.2"><stop offset="0.000" stop-color="#143ee2" stop-opacity="1.00"/><stop offset="0.031" stop-color="#143ee2" stop-opacity="1.00"/><stop offset="0.062" stop-color="#143de2" stop-opacity="1.00"/><stop offset="0.094" stop-color="#133de1" stop-opacity="1.00"/><stop offset="0.125" stop-color="#133ce1" stop-opacity="1.00"/><stop offset="0.156" stop-color="#123ae0" stop-opacity="1.00"/><stop offset="0.188" stop-color="#1239e0" stop-opacity="1.00"/><stop offset="0.219" stop-color="#1137df" stop-opacity="1.00"/><stop offset="0.250" stop-color="#1036de" stop-opacity="1.00"/><stop offset="0.281" stop-color="#0f34dd" stop-opacity="1.00"/><stop offset="0.312" stop-color="#0e32dc" stop-opacity="1.00"/><stop offset="0.344" stop-color="#0d30db" stop-opacity="1.00"/><stop offset="0.375" stop-color="#0c2fda" stop-opacity="1.00"/><stop offset="0.406" stop-color="#0b2dd9" stop-opacity="1.00"/><stop offset="0.438" stop-color="#0b2bd9" stop-opacity="1.00"/><stop offset="0.469" stop-color="#0a2ad8" stop-opacity="0.93"/><stop offset="0.500" stop-color="#0928d7" stop-opacity="0.79"/><stop offset="0.531" stop-color="#0827d6" stop-opacity="0.67"/><stop offset="0.562" stop-color="#0826d5" stop-opacity="0.57"/><stop offset="0.594" stop-color="#0725d5" stop-opacity="0.47"/><stop offset="0.625" stop-color="#0624d4" stop-opacity="0.39"/><stop offset="0.656" stop-color="#0623d4" stop-opacity="0.32"/><stop offset="0.688" stop-color="#0622d3" stop-opacity="0.25"/><stop offset="0.719" stop-color="#0522d3" stop-opacity="0.20"/><stop offset="0.750" stop-color="#0521d3" stop-opacity="0.16"/><stop offset="0.781" stop-color="#0521d2" stop-opacity="0.13"/><stop offset="0.812" stop-color="#0520d2" stop-opacity="0.10"/><stop offset="0.844" stop-color="#0420d2" stop-opacity="0.07"/><stop offset="0.875" stop-color="#0420d2" stop-opacity="0.06"/><stop offset="0.906" stop-color="#0420d2" stop-opacity="0.04"/><stop offset="0.938" stop-color="#0420d2" stop-opacity="0.03"/><stop offset="0.969" stop-color="#041fd2" stop-opacity="0.02"/><stop offset="1.000" stop-color="#041fd2" stop-opacity="0.00"/></radialGradient><radialGradient id="h_b12" gradientUnits="userSpaceOnUse" cx="0" cy="0" r="3.2"><stop offset="0.000" stop-color="#0008be" stop-opacity="1.00"/><stop offset="0.031" stop-color="#0008be" stop-opacity="1.00"/><stop offset="0.062" stop-color="#0008be" stop-opacity="1.00"/><stop offset="0.094" stop-color="#0009bf" stop-opacity="1.00"/><stop offset="0.125" stop-color="#000ac0" stop-opacity="1.00"/><stop offset="0.156" stop-color="#000bc0" stop-opacity="1.00"/><stop offset="0.188" stop-color="#000cc1" stop-opacity="1.00"/><stop offset="0.219" stop-color="#000dc3" stop-opacity="1.00"/><stop offset="0.250" stop-color="#000ec4" stop-opacity="1.00"/><stop offset="0.281" stop-color="#000fc5" stop-opacity="1.00"/><stop offset="0.312" stop-color="#0011c6" stop-opacity="1.00"/><stop offset="0.344" stop-color="#0012c8" stop-opacity="1.00"/><stop offset="0.375" stop-color="#0013c9" stop-opacity="1.00"/><stop offset="0.406" stop-color="#0015ca" stop-opacity="1.00"/><stop offset="0.438" stop-color="#0016cb" stop-opacity="1.00"/><stop offset="0.469" stop-color="#0017cc" stop-opacity="0.93"/><stop offset="0.500" stop-color="#0018cd" stop-opacity="0.79"/><stop offset="0.531" stop-color="#0119ce" stop-opacity="0.67"/><stop offset="0.562" stop-color="#011ace" stop-opacity="0.57"/><stop offset="0.594" stop-color="#021bcf" stop-opacity="0.47"/><stop offset="0.625" stop-color="#021ccf" stop-opacity="0.39"/><stop offset="0.656" stop-color="#021cd0" stop-opacity="0.32"/><stop offset="0.688" stop-color="#031dd0" stop-opacity="0.25"/><stop offset="0.719" stop-color="#031dd0" stop-opacity="0.20"/><stop offset="0.750" stop-color="#031ed1" stop-opacity="0.16"/><stop offset="0.781" stop-color="#031ed1" stop-opacity="0.13"/><stop offset="0.812" stop-color="#041ed1" stop-opacity="0.10"/><stop offset="0.844" stop-color="#041fd1" stop-opacity="0.07"/><stop offset="0.875" stop-color="#041fd1" stop-opacity="0.06"/><stop offset="0.906" stop-color="#041fd1" stop-opacity="0.04"/><stop offset="0.938" stop-color="#041fd1" stop-opacity="0.03"/><stop offset="0.969" stop-color="#041fd1" stop-opacity="0.02"/><stop offset="1.000" stop-color="#041fd1" stop-opacity="0.00"/></radialGradient><radialGradient id="h_b13" gradientUnits="userSpaceOnUse" cx="0" cy="0" r="3.2"><stop offset="0.000" stop-color="#6e0000" stop-opacity="1.00"/><stop offset="0.031" stop-color="#710000" stop-opacity="1.00"/><stop offset="0.062" stop-color="#7b0000" stop-opacity="1.00"/><stop offset="0.094" stop-color="#900000" stop-opacity="1.00"/><stop offset="0.125" stop-color="#ae0000" stop-opacity="1.00"/><stop offset="0.156" stop-color="#d50000" stop-opacity="1.00"/><stop offset="0.188" stop-color="#ea1500" stop-opacity="1.00"/><stop offset="0.219" stop-color="#fa3900" stop-opacity="1.00"/><stop offset="0.250" stop-color="#ff5d00" stop-opacity="1.00"/><stop offset="0.281" stop-color="#ff8000" stop-opacity="1.00"/><stop offset="0.312" stop-color="#ffa000" stop-opacity="1.00"/><stop offset="0.344" stop-color="#fdcc30" stop-opacity="1.00"/><stop offset="0.375" stop-color="#ecec77" stop-opacity="1.00"/><stop offset="0.406" stop-color="#abf5c7" stop-opacity="1.00"/><stop offset="0.438" stop-color="#62eaf5" stop-opacity="1.00"/><stop offset="0.469" stop-color="#35d2fa" stop-opacity="0.91"/><stop offset="0.500" stop-color="#27c3fa" stop-opacity="0.76"/><stop offset="0.531" stop-color="#20b2fa" stop-opacity="0.62"/><stop offset="0.562" stop-color="#1ea2fa" stop-opacity="0.50"/><stop offset="0.594" stop-color="#1e89f6" stop-opacity="0.40"/><stop offset="0.625" stop-color="#1e75f2" stop-opacity="0.31"/><stop offset="0.656" stop-color="#1c60ee" stop-opacity="0.24"/><stop offset="0.688" stop-color="#184ce9" stop-opacity="0.18"/><stop offset="0.719" stop-color="#143ee2" stop-opacity="0.13"/><stop offset="0.750" stop-color="#1036de" stop-opacity="0.10"/><stop offset="0.781" stop-color="#0d30db" stop-opacity="0.07"/><stop offset="0.812" stop-color="#0b2bd9" stop-opacity="0.05"/><stop offset="0.844" stop-color="#0928d6" stop-opacity="0.03"/><stop offset="0.875" stop-color="#0725d5" stop-opacity="0.02"/><stop offset="0.906" stop-color="#0623d4" stop-opacity="0.02"/><stop offset="0.938" stop-color="#0522d3" stop-opacity="0.01"/><stop offset="0.969" stop-color="#0521d2" stop-opacity="0.01"/><stop offset="1.000" stop-color="#0520d2" stop-opacity="0.00"/></radialGradient><linearGradient id="h_bk" gradientUnits="userSpaceOnUse" x1="0" y1="1020" x2="0" y2="1110"><stop offset="0.000" stop-color="#021ccf"/><stop offset="0.500" stop-color="#0a2ad8"/><stop offset="1.000" stop-color="#1950eb"/></linearGradient><linearGradient id="h_rg0" gradientUnits="userSpaceOnUse" x1="0" y1="1095" x2="0" y2="1135"><stop offset="0.000" stop-color="#021ccf"/><stop offset="1.000" stop-color="#1e7bf3"/></linearGradient><linearGradient gradientTransform="rotate(-22 912 1240)" id="h_fn0" gradientUnits="userSpaceOnUse" x1="0" y1="1096.3" x2="0" y2="1365.2"><stop offset="0.000" stop-color="#143ee2"/><stop offset="0.121" stop-color="#1e8af6"/><stop offset="0.259" stop-color="#20b0fa"/><stop offset="0.362" stop-color="#28c6fa"/><stop offset="0.414" stop-color="#64ebf5"/><stop offset="0.459" stop-color="#adf5c5"/><stop offset="0.500" stop-color="#ebec78"/><stop offset="0.569" stop-color="#fcd037"/><stop offset="0.638" stop-color="#ffaf0a"/><stop offset="0.724" stop-color="#ff8700"/><stop offset="0.810" stop-color="#ff5800"/><stop offset="0.897" stop-color="#ec1800"/><stop offset="0.966" stop-color="#b80000"/><stop offset="1.000" stop-color="#870000"/></linearGradient><linearGradient gradientTransform="rotate(-15 840 1150)" id="h_in0" gradientUnits="userSpaceOnUse" x1="0" y1="1065" x2="0" y2="1230"><stop offset="0.000" stop-color="#143ee2"/><stop offset="0.450" stop-color="#1e91f8"/><stop offset="0.750" stop-color="#22b8fa"/><stop offset="1.000" stop-color="#49ddf8"/></linearGradient><linearGradient id="h_bd" gradientUnits="userSpaceOnUse" x1="797.7" y1="1049.8" x2="821.7" y2="1104.8"><stop offset="0.000" stop-color="#0008be" stop-opacity="1.00"/><stop offset="0.500" stop-color="#0010c5" stop-opacity="0.90"/><stop offset="1.000" stop-color="#0623d4" stop-opacity="0.00"/></linearGradient><linearGradient id="h_cb" x1="0" y1="0" x2="0" y2="1"><stop offset="0.000" stop-color="#6e0000"/><stop offset="0.040" stop-color="#a00000"/><stop offset="0.090" stop-color="#dc0000"/><stop offset="0.140" stop-color="#f01e00"/><stop offset="0.190" stop-color="#ff4600"/><stop offset="0.290" stop-color="#ff8200"/><stop offset="0.350" stop-color="#ffa000"/><stop offset="0.390" stop-color="#ffbe14"/><stop offset="0.450" stop-color="#fae15a"/><stop offset="0.490" stop-color="#e6f082"/><stop offset="0.520" stop-color="#c8f5aa"/><stop offset="0.550" stop-color="#a0f5d2"/><stop offset="0.600" stop-color="#64ebf5"/><stop offset="0.650" stop-color="#37d4fa"/><stop offset="0.700" stop-color="#28c6fa"/><stop offset="0.750" stop-color="#20b4fa"/><stop offset="0.800" stop-color="#1ea0fa"/><stop offset="0.840" stop-color="#1e82f5"/><stop offset="0.870" stop-color="#1e6ef0"/><stop offset="0.900" stop-color="#1950eb"/><stop offset="0.920" stop-color="#143ee2"/><stop offset="0.950" stop-color="#0a2ad8"/><stop offset="0.975" stop-color="#0018cd"/><stop offset="1.000" stop-color="#0008be"/></linearGradient></defs>
<path d="M871.3 1017.7L1237 1029.8L1226 1394.1M879 1364.7V1017.7M724.1 1082L743.4 1500" fill="none" stroke="#000" stroke-width="1"/>
<path d="M743.4 1500L1161.4 1545.4L1226 1394.1L879 1364.7Z" fill="#041fd1"/>
<g clip-path="url(#h_fl)">
<circle r="3.2" fill="url(#h_b0)" transform="matrix(25.2231 2.4056 77.9524 -81.0113 842.94 1428.14)"/>
<circle r="3.2" fill="url(#h_b1)" transform="matrix(109.9398 11.7266 9.0566 -15.0821 1037.22 1519.37)"/>
<circle r="3.2" fill="url(#h_b2)" transform="matrix(36.8703 3.3496 13.5424 -20.2226 1050.66 1418.75)"/>
<circle r="0.981" fill="none" stroke="#222" stroke-width="0.8" stroke-opacity="0.75" vector-effect="non-scaling-stroke" transform="matrix(36.8703 3.3496 13.5424 -20.2226 1050.66 1418.75)"/>
<circle r="3.2" fill="url(#h_b3)" transform="matrix(69.1339 6.4863 11.0838 -18.8197 1091.90 1441.81)"/>
<circle r="3.2" fill="url(#h_b4)" transform="matrix(7.2556 0.6540 3.7218 -5.1586 1020.77 1411.43)"/>
<circle r="3.2" fill="url(#h_b5)" transform="matrix(7.5214 0.7080 3.9103 -5.5527 1014.68 1436.53)"/>
<circle r="3.2" fill="url(#h_b6)" transform="matrix(11.6603 1.1251 3.7211 -5.8591 1051.01 1455.16)"/>
<circle r="3.2" fill="url(#h_b7)" transform="matrix(10.8980 0.9594 3.6769 -5.8967 1091.07 1404.16)"/>
<circle r="3.2" fill="url(#h_b8)" transform="matrix(18.9216 1.7054 4.0890 -8.0485 1157.86 1423.78)"/>
<circle r="3.2" fill="url(#h_b9)" transform="matrix(15.5119 1.4601 3.6953 -6.6666 1113.97 1445.88)"/>
<circle r="3.2" fill="url(#h_b10)" transform="matrix(24.3403 2.3214 54.5872 -64.3882 915.85 1435.09)"/>
<circle r="1.267" fill="none" stroke="#222" stroke-width="0.8" stroke-opacity="0.75" vector-effect="non-scaling-stroke" transform="matrix(24.3403 2.3214 54.5872 -64.3882 915.85 1435.09)"/>
<circle r="3.2" fill="url(#h_b11)" transform="matrix(4.1963 0.3735 7.0852 -8.2130 938.47 1396.86)"/>
<circle r="3.2" fill="url(#h_b12)" transform="matrix(7.7812 0.7739 5.1984 -7.0370 968.76 1466.14)"/>
<circle r="3.2" fill="url(#h_b13)" transform="matrix(14.9815 1.5224 32.7255 -29.7765 921.34 1447.77)"/>
<circle r="1.964" fill="none" stroke="#222" stroke-width="0.8" stroke-opacity="0.75" vector-effect="non-scaling-stroke" transform="matrix(14.9815 1.5224 32.7255 -29.7765 921.34 1447.77)"/>
<circle r="1.688" fill="none" stroke="#222" stroke-width="0.8" stroke-opacity="0.75" vector-effect="non-scaling-stroke" transform="matrix(14.9815 1.5224 32.7255 -29.7765 921.34 1447.77)"/>
<circle r="1.485" fill="none" stroke="#222" stroke-width="0.8" stroke-opacity="0.75" vector-effect="non-scaling-stroke" transform="matrix(14.9815 1.5224 32.7255 -29.7765 921.34 1447.77)"/>
<circle r="1.314" fill="none" stroke="#222" stroke-width="0.8" stroke-opacity="0.75" vector-effect="non-scaling-stroke" transform="matrix(14.9815 1.5224 32.7255 -29.7765 921.34 1447.77)"/>
<circle r="1.155" fill="none" stroke="#222" stroke-width="0.8" stroke-opacity="0.75" vector-effect="non-scaling-stroke" transform="matrix(14.9815 1.5224 32.7255 -29.7765 921.34 1447.77)"/>
<circle r="1.000" fill="none" stroke="#222" stroke-width="0.8" stroke-opacity="0.75" vector-effect="non-scaling-stroke" transform="matrix(14.9815 1.5224 32.7255 -29.7765 921.34 1447.77)"/>
<circle r="0.838" fill="none" stroke="#222" stroke-width="0.8" stroke-opacity="0.75" vector-effect="non-scaling-stroke" transform="matrix(14.9815 1.5224 32.7255 -29.7765 921.34 1447.77)"/>
<circle r="0.653" fill="none" stroke="#222" stroke-width="0.8" stroke-opacity="0.75" vector-effect="non-scaling-stroke" transform="matrix(14.9815 1.5224 32.7255 -29.7765 921.34 1447.77)"/>
<circle r="0.395" fill="none" stroke="#222" stroke-width="0.8" stroke-opacity="0.75" vector-effect="non-scaling-stroke" transform="matrix(14.9815 1.5224 32.7255 -29.7765 921.34 1447.77)"/>
</g>
<path d="M724.1 1082L871.3 1017.7L907 1029.3L923.5 1043L937.3 1065L951 1059.5L970.3 1022.4L981.3 1065L1000.5 1041.6L1017 1054L1033.5 1038.9L1050 1065L1077.5 1067.8L1099.5 1037.5L1118.8 1060.9L1140.8 1048.5L1162.8 1044.4L1187.5 1056.8L1206.8 1065L1227.4 1058.1L1236.5 1058L1234.3 1081.5L1187.5 1089.8L1172.4 1102.1L1105 1098L1050 1104.9L1008.8 1107.6L1006 1109L900 1100L800 1090Z" fill="url(#h_bk)"/>
<path d="M885 1128.3L907 1114.5L940 1095.3L995 1098L1050 1097L1105 1095L1172.4 1102.1L1105 1098L1050 1104.9L1008.8 1107.6L1006 1109L995 1133.8Z" fill="url(#h_rg0)"/>
<path d="M724.1 1082L747.5 1087L775 1085.6L791.5 1092.5L802.5 1114.5L816.3 1153L830 1188.8L843.8 1227.3L857.5 1263L869.9 1300L879.5 1315.8L896 1351.5L904 1366L909 1372L913.9 1373.5L918.5 1372L922.1 1369.4L931.8 1351.5L945.5 1315.8L951 1300L962 1249.3L973 1208L984 1169.5L995 1133.8L1006 1109L940 1095.3L907 1114.5L885 1128.3L874 1147.5L863 1188.8L851 1225L845 1215L830 1170L815 1125L790 1095Z" fill="url(#h_fn0)"/>
<path d="M791.5 1092.5L802.5 1114.5L816.3 1153L830 1188.8L843.8 1227.3L849.3 1227.3L863 1188.8L874 1147.5L885 1128.3L907 1114.5L940 1095.3L900 1070L850 1060L800 1075Z" fill="url(#h_in0)"/>
<path d="M724.1 1082L871.3 1017.7L907 1029.3L923.5 1043L930 1070L880 1090L820 1115L802.5 1114.5L791.5 1092.5L775 1085.6L747.5 1087Z" fill="url(#h_bd)"/>
<path d="M724.1 1082L871.3 1017.7" stroke="#333" stroke-width="1.2" stroke-dasharray="1.5 1"/>
<rect x="722" y="1097.3" width="18.4" height="367.2" fill="url(#h_cb)"/>
<rect x="722" y="1093.5" width="18.4" height="3.8" fill="#fff"/>
<rect x="722" y="1464.5" width="18.4" height="4.1" fill="#000"/>
<rect x="722" y="1093.5" width="18.4" height="375.1" fill="none" stroke="#000" stroke-width="0.8"/>
<text x="754.9" y="1102.5" font-size="14.5" font-weight="bold">2.40</text>
<text x="754.9" y="1139.2" font-size="14.5" font-weight="bold">2.16</text>
<text x="754.9" y="1175.9" font-size="14.5" font-weight="bold">1.92</text>
<text x="754.9" y="1212.7" font-size="14.5" font-weight="bold">1.68</text>
<text x="754.9" y="1249.4" font-size="14.5" font-weight="bold">1.44</text>
<text x="754.9" y="1286.1" font-size="14.5" font-weight="bold">1.20</text>
<text x="754.9" y="1322.8" font-size="14.5" font-weight="bold">0.96</text>
<text x="754.9" y="1359.5" font-size="14.5" font-weight="bold">0.72</text>
<text x="754.9" y="1396.3" font-size="14.5" font-weight="bold">0.48</text>
<text x="754.9" y="1433" font-size="14.5" font-weight="bold">0.24</text>
<text x="754.9" y="1469.7" font-size="14.5" font-weight="bold">0.00</text>
<path d="M740.4 1097.3h8.5M740.4 1134h8.5M740.4 1170.7h8.5M740.4 1207.5h8.5M740.4 1244.2h8.5M740.4 1280.9h8.5M740.4 1317.6h8.5M740.4 1354.3h8.5M740.4 1391.1h8.5M740.4 1427.8h8.5M740.4 1464.5h8.5" stroke="#222" stroke-width="1.3"/>
<text x="968.5" y="1314.4" font-size="32.2" font-weight="bold">CuN<tspan font-size="22" dy="7">4</tspan><tspan dy="-7">-SAzyme</tspan></text>
<text transform="matrix(0.297 -0.297 0.994 0.108 742.3 1507.7)" font-size="18" font-weight="bold">0</text>
<text transform="matrix(0.279 -0.314 0.994 0.108 822 1516.7)" font-size="18" font-weight="bold">1</text>
<text transform="matrix(0.257 -0.332 0.994 0.108 903.9 1526)" font-size="18" font-weight="bold">2</text>
<text transform="matrix(0.231 -0.351 0.994 0.108 988 1535.5)" font-size="18" font-weight="bold">3</text>
<text transform="matrix(0.200 -0.369 0.994 0.108 1074.5 1545.3)" font-size="18" font-weight="bold">4</text>
<text transform="matrix(0.165 -0.386 0.994 0.108 1163.4 1555.2)" font-size="18" font-weight="bold">5</text>
<text transform="matrix(0.994 0.108 -0.196 0.460 1173.3 1550.7)" font-size="17" font-weight="bold">0</text>
<text transform="matrix(0.995 0.102 -0.196 0.460 1188.5 1515)" font-size="17" font-weight="bold">3</text>
<text transform="matrix(0.995 0.097 -0.196 0.460 1202.5 1482.4)" font-size="17" font-weight="bold">6</text>
<text transform="matrix(0.996 0.093 -0.196 0.460 1215.3 1452.4)" font-size="17" font-weight="bold">9</text>
<text transform="matrix(0.996 0.088 -0.196 0.460 1227 1424.7)" font-size="17" font-weight="bold">12</text>
<text transform="matrix(0.996 0.084 -0.196 0.460 1238 1399.1)" font-size="17" font-weight="bold">15</text>
<path d="M743.4 1500l-5 4.9M822.7 1508.6l-4.6 5.2M904 1517.4l-4.3 5.5M987.6 1526.5l-3.8 5.8M1073.3 1535.8l-3.3 6.2M1161.4 1545.4l-2.7 6.4M1161.4 1545.4l8 0.9M1176.6 1509.8l8 0.8M1190.5 1477.2l8 0.8M1203.3 1447.2l8 0.7M1215.1 1419.6l8 0.7M1226 1394.1l8 0.7" stroke="#000" stroke-width="1.2"/>
<text transform="matrix(0.994 0.108 -0.317 0.387 865 1538.6)" font-size="27" font-weight="bold" font-style="italic" letter-spacing="2">R + α (Å)</text>
<text transform="matrix(0.295 -0.690 0.846 0.082 1248.5 1476.3)" font-size="22" font-weight="bold" font-style="italic" text-anchor="middle">k(Å<tspan font-size="14" dy="-8">-1</tspan><tspan dy="8">)</tspan></text>
<text x="698" y="1056" font-size="44" font-weight="bold">h</text>
<defs><clipPath id="i_fl"><path d="M1408.9 1491.8L1811.8 1549.5L1909.4 1402.4L1575.2 1362.2Z"/></clipPath><radialGradient id="i_b0" gradientUnits="userSpaceOnUse" cx="0" cy="0" r="3.2"><stop offset="0.000" stop-color="#0008be" stop-opacity="1.00"/><stop offset="0.031" stop-color="#0008be" stop-opacity="1.00"/><stop offset="0.062" stop-color="#0008be" stop-opacity="1.00"/><stop offset="0.094" stop-color="#0008be" stop-opacity="1.00"/><stop offset="0.125" stop-color="#0008be" stop-opacity="1.00"/><stop offset="0.156" stop-color="#0009bf" stop-opacity="1.00"/><stop offset="0.188" stop-color="#0009bf" stop-opacity="1.00"/><stop offset="0.219" stop-color="#000ac0" stop-opacity="1.00"/><stop offset="0.250" stop-color="#000cc2" stop-opacity="1.00"/><stop offset="0.281" stop-color="#000ec3" stop-opacity="1.00"/><stop offset="0.312" stop-color="#0010c6" stop-opacity="1.00"/><stop offset="0.344" stop-color="#0014c9" stop-opacity="1.00"/><stop offset="0.375" stop-color="#0018cd" stop-opacity="1.00"/><stop offset="0.406" stop-color="#021ccf" stop-opacity="1.00"/><stop offset="0.438" stop-color="#0521d2" stop-opacity="1.00"/><stop offset="0.469" stop-color="#0725d5" stop-opacity="0.81"/><stop offset="0.500" stop-color="#0929d7" stop-opacity="0.56"/><stop offset="0.531" stop-color="#0b2cd9" stop-opacity="0.35"/><stop offset="0.562" stop-color="#0c2eda" stop-opacity="0.21"/><stop offset="0.594" stop-color="#0d2fdb" stop-opacity="0.11"/><stop offset="0.625" stop-color="#0d30db" stop-opacity="0.05"/><stop offset="0.656" stop-color="#0d30db" stop-opacity="0.02"/><stop offset="0.688" stop-color="#0d31db" stop-opacity="0.01"/><stop offset="0.719" stop-color="#0d31db" stop-opacity="0.00"/><stop offset="0.750" stop-color="#0d31db" stop-opacity="0.00"/><stop offset="0.781" stop-color="#0d31db" stop-opacity="0.00"/><stop offset="0.812" stop-color="#0d31db" stop-opacity="0.00"/><stop offset="0.844" stop-color="#0d31db" stop-opacity="0.00"/><stop offset="0.875" stop-color="#0d31db" stop-opacity="0.00"/><stop offset="0.906" stop-color="#0d31db" stop-opacity="0.00"/><stop offset="0.938" stop-color="#0d31db" stop-opacity="0.00"/><stop offset="0.969" stop-color="#0d31db" stop-opacity="0.00"/><stop offset="1.000" stop-color="#0d31db" stop-opacity="0.00"/></radialGradient><radialGradient id="i_b1" gradientUnits="userSpaceOnUse" cx="0" cy="0" r="3.2"><stop offset="0.000" stop-color="#0008be" stop-opacity="1.00"/><stop offset="0.031" stop-color="#0008be" stop-opacity="1.00"/><stop offset="0.062" stop-color="#0008be" stop-opacity="1.00"/><stop offset="0.094" stop-color="#0008be" stop-opacity="1.00"/><stop offset="0.125" stop-color="#0009bf" stop-opacity="1.00"/><stop offset="0.156" stop-color="#000ac0" stop-opacity="1.00"/><stop offset="0.188" stop-color="#000bc1" stop-opacity="1.00"/><stop offset="0.219" stop-color="#000cc2" stop-opacity="1.00"/><stop offset="0.250" stop-color="#000ec4" stop-opacity="1.00"/><stop offset="0.281" stop-color="#0011c6" stop-opacity="1.00"/><stop offset="0.312" stop-color="#0013c9" stop-opacity="1.00"/><stop offset="0.344" stop-color="#0016cc" stop-opacity="1.00"/><stop offset="0.375" stop-color="#011ace" stop-opacity="1.00"/><stop offset="0.406" stop-color="#031dd0" stop-opacity="1.00"/><stop offset="0.438" stop-color="#0521d2" stop-opacity="1.00"/><stop offset="0.469" stop-color="#0724d4" stop-opacity="0.87"/><stop offset="0.500" stop-color="#0827d6" stop-opacity="0.67"/><stop offset="0.531" stop-color="#0a2ad8" stop-opacity="0.50"/><stop offset="0.562" stop-color="#0b2cd9" stop-opacity="0.36"/><stop offset="0.594" stop-color="#0c2dda" stop-opacity="0.25"/><stop offset="0.625" stop-color="#0c2eda" stop-opacity="0.17"/><stop offset="0.656" stop-color="#0d2fdb" stop-opacity="0.11"/><stop offset="0.688" stop-color="#0d30db" stop-opacity="0.07"/><stop offset="0.719" stop-color="#0d30db" stop-opacity="0.04"/><stop offset="0.750" stop-color="#0d30db" stop-opacity="0.02"/><stop offset="0.781" stop-color="#0d31db" stop-opacity="0.01"/><stop offset="0.812" stop-color="#0d31db" stop-opacity="0.01"/><stop offset="0.844" stop-color="#0d31db" stop-opacity="0.00"/><stop offset="0.875" stop-color="#0d31db" stop-opacity="0.00"/><stop offset="0.906" stop-color="#0d31db" stop-opacity="0.00"/><stop offset="0.938" stop-color="#0d31db" stop-opacity="0.00"/><stop offset="0.969" stop-color="#0d31db" stop-opacity="0.00"/><stop offset="1.000" stop-color="#0d31db" stop-opacity="0.00"/></radialGradient><radialGradient id="i_b2" gradientUnits="userSpaceOnUse" cx="0" cy="0" r="3.2"><stop offset="0.000" stop-color="#28c6fa" stop-opacity="1.00"/><stop offset="0.031" stop-color="#28c6fa" stop-opacity="1.00"/><stop offset="0.062" stop-color="#28c6fa" stop-opacity="1.00"/><stop offset="0.094" stop-color="#28c5fa" stop-opacity="1.00"/><stop offset="0.125" stop-color="#27c4fa" stop-opacity="1.00"/><stop offset="0.156" stop-color="#27c3fa" stop-opacity="1.00"/><stop offset="0.188" stop-color="#26c1fa" stop-opacity="1.00"/><stop offset="0.219" stop-color="#24bdfa" stop-opacity="1.00"/><stop offset="0.250" stop-color="#22b9fa" stop-opacity="1.00"/><stop offset="0.281" stop-color="#20b4fa" stop-opacity="1.00"/><stop offset="0.312" stop-color="#1fadfa" stop-opacity="1.00"/><stop offset="0.344" stop-color="#1fa5fa" stop-opacity="1.00"/><stop offset="0.375" stop-color="#1e9bf9" stop-opacity="1.00"/><stop offset="0.406" stop-color="#1e8bf6" stop-opacity="1.00"/><stop offset="0.438" stop-color="#1e7cf4" stop-opacity="1.00"/><stop offset="0.469" stop-color="#1e6ff0" stop-opacity="0.85"/><stop offset="0.500" stop-color="#1b5eed" stop-opacity="0.65"/><stop offset="0.531" stop-color="#1950eb" stop-opacity="0.47"/><stop offset="0.562" stop-color="#1645e5" stop-opacity="0.33"/><stop offset="0.594" stop-color="#133de1" stop-opacity="0.22"/><stop offset="0.625" stop-color="#1138df" stop-opacity="0.14"/><stop offset="0.656" stop-color="#1035de" stop-opacity="0.08"/><stop offset="0.688" stop-color="#0f33dd" stop-opacity="0.05"/><stop offset="0.719" stop-color="#0e32dc" stop-opacity="0.02"/><stop offset="0.750" stop-color="#0e31dc" stop-opacity="0.01"/><stop offset="0.781" stop-color="#0d31db" stop-opacity="0.01"/><stop offset="0.812" stop-color="#0d31db" stop-opacity="0.00"/><stop offset="0.844" stop-color="#0d31db" stop-opacity="0.00"/><stop offset="0.875" stop-color="#0d31db" stop-opacity="0.00"/><stop offset="0.906" stop-color="#0d31db" stop-opacity="0.00"/><stop offset="0.938" stop-color="#0d31db" stop-opacity="0.00"/><stop offset="0.969" stop-color="#0d31db" stop-opacity="0.00"/><stop offset="1.000" stop-color="#0d31db" stop-opacity="0.00"/></radialGradient><radialGradient id="i_b3" gradientUnits="userSpaceOnUse" cx="0" cy="0" r="3.2"><stop offset="0.000" stop-color="#0008be" stop-opacity="1.00"/><stop offset="0.031" stop-color="#0008be" stop-opacity="1.00"/><stop offset="0.062" stop-color="#0009bf" stop-opacity="1.00"/><stop offset="0.094" stop-color="#000ac0" stop-opacity="1.00"/><stop offset="0.125" stop-color="#000bc1" stop-opacity="1.00"/><stop offset="0.156" stop-color="#000dc2" stop-opacity="1.00"/><stop offset="0.188" stop-color="#000ec4" stop-opacity="1.00"/><stop offset="0.219" stop-color="#0010c6" stop-opacity="1.00"/><stop offset="0.250" stop-color="#0013c8" stop-opacity="1.00"/><stop offset="0.281" stop-color="#0015ca" stop-opacity="1.00"/><stop offset="0.312" stop-color="#0017cc" stop-opacity="1.00"/><stop offset="0.344" stop-color="#011ace" stop-opacity="1.00"/><stop offset="0.375" stop-color="#021cd0" stop-opacity="1.00"/><stop offset="0.406" stop-color="#041fd1" stop-opacity="1.00"/><stop offset="0.438" stop-color="#0521d2" stop-opacity="1.00"/><stop offset="0.469" stop-color="#0623d4" stop-opacity="0.93"/><stop offset="0.500" stop-color="#0725d5" stop-opacity="0.79"/><stop offset="0.531" stop-color="#0827d6" stop-opacity="0.67"/><stop offset="0.562" stop-color="#0929d7" stop-opacity="0.57"/><stop offset="0.594" stop-color="#0a2ad8" stop-opacity="0.47"/><stop offset="0.625" stop-color="#0b2bd9" stop-opacity="0.39"/><stop offset="0.656" stop-color="#0b2cd9" stop-opacity="0.32"/><stop offset="0.688" stop-color="#0c2dda" stop-opacity="0.25"/><stop offset="0.719" stop-color="#0c2eda" stop-opacity="0.20"/><stop offset="0.750" stop-color="#0c2eda" stop-opacity="0.16"/><stop offset="0.781" stop-color="#0c2fda" stop-opacity="0.13"/><stop offset="0.812" stop-color="#0d2fdb" stop-opacity="0.10"/><stop offset="0.844" stop-color="#0d30db" stop-opacity="0.07"/><stop offset="0.875" stop-color="#0d30db" stop-opacity="0.06"/><stop offset="0.906" stop-color="#0d30db" stop-opacity="0.04"/><stop offset="0.938" stop-color="#0d30db" stop-opacity="0.03"/><stop offset="0.969" stop-color="#0d30db" stop-opacity="0.02"/><stop offset="1.000" stop-color="#0d30db" stop-opacity="0.00"/></radialGradient><radialGradient id="i_b4" gradientUnits="userSpaceOnUse" cx="0" cy="0" r="3.2"><stop offset="0.000" stop-color="#0008be" stop-opacity="1.00"/><stop offset="0.031" stop-color="#0008be" stop-opacity="1.00"/><stop offset="0.062" stop-color="#0009bf" stop-opacity="1.00"/><stop offset="0.094" stop-color="#000ac0" stop-opacity="1.00"/><stop offset="0.125" stop-color="#000bc1" stop-opacity="1.00"/><stop offset="0.156" stop-color="#000dc2" stop-opacity="1.00"/><stop offset="0.188" stop-color="#000ec4" stop-opacity="1.00"/><stop offset="0.219" stop-color="#0010c6" stop-opacity="1.00"/><stop offset="0.250" stop-color="#0013c8" stop-opacity="1.00"/><stop offset="0.281" stop-color="#0015ca" stop-opacity="1.00"/><stop offset="0.312" stop-color="#0017cc" stop-opacity="1.00"/><stop offset="0.344" stop-color="#011ace" stop-opacity="1.00"/><stop offset="0.375" stop-color="#021cd0" stop-opacity="1.00"/><stop offset="0.406" stop-color="#041fd1" stop-opacity="1.00"/><stop offset="0.438" stop-color="#0521d2" stop-opacity="1.00"/><stop offset="0.469" stop-color="#0623d4" stop-opacity="0.93"/><stop offset="0.500" stop-color="#0725d5" stop-opacity="0.79"/><stop offset="0.531" stop-color="#0827d6" stop-opacity="0.67"/><stop offset="0.562" stop-color="#0929d7" stop-opacity="0.57"/><stop offset="0.594" stop-color="#0a2ad8" stop-opacity="0.47"/><stop offset="0.625" stop-color="#0b2bd9" stop-opacity="0.39"/><stop offset="0.656" stop-color="#0b2cd9" stop-opacity="0.32"/><stop offset="0.688" stop-color="#0c2dda" stop-opacity="0.25"/><stop offset="0.719" stop-color="#0c2eda" stop-opacity="0.20"/><stop offset="0.750" stop-color="#0c2eda" stop-opacity="0.16"/><stop offset="0.781" stop-color="#0c2fda" stop-opacity="0.13"/><stop offset="0.812" stop-color="#0d2fdb" stop-opacity="0.10"/><stop offset="0.844" stop-color="#0d30db" stop-opacity="0.07"/><stop offset="0.875" stop-color="#0d30db" stop-opacity="0.06"/><stop offset="0.906" stop-color="#0d30db" stop-opacity="0.04"/><stop offset="0.938" stop-color="#0d30db" stop-opacity="0.03"/><stop offset="0.969" stop-color="#0d30db" stop-opacity="0.02"/><stop offset="1.000" stop-color="#0d30db" stop-opacity="0.00"/></radialGradient><radialGradient id="i_b5" gradientUnits="userSpaceOnUse" cx="0" cy="0" r="3.2"><stop offset="0.000" stop-color="#0008be" stop-opacity="1.00"/><stop offset="0.031" stop-color="#0008be" stop-opacity="1.00"/><stop offset="0.062" stop-color="#0009bf" stop-opacity="1.00"/><stop offset="0.094" stop-color="#000ac0" stop-opacity="1.00"/><stop offset="0.125" stop-color="#000bc1" stop-opacity="1.00"/><stop offset="0.156" stop-color="#000dc2" stop-opacity="1.00"/><stop offset="0.188" stop-color="#000ec4" stop-opacity="1.00"/><stop offset="0.219" stop-color="#0010c6" stop-opacity="1.00"/><stop offset="0.250" stop-color="#0013c8" stop-opacity="1.00"/><stop offset="0.281" stop-color="#0015ca" stop-opacity="1.00"/><stop offset="0.312" stop-color="#0017cc" stop-opacity="1.00"/><stop offset="0.344" stop-color="#011ace" stop-opacity="1.00"/><stop offset="0.375" stop-color="#021cd0" stop-opacity="1.00"/><stop offset="0.406" stop-color="#041fd1" stop-opacity="1.00"/><stop offset="0.438" stop-color="#0521d2" stop-opacity="1.00"/><stop offset="0.469" stop-color="#0623d4" stop-opacity="0.93"/><stop offset="0.500" stop-color="#0725d5" stop-opacity="0.79"/><stop offset="0.531" stop-color="#0827d6" stop-opacity="0.67"/><stop offset="0.562" stop-color="#0929d7" stop-opacity="0.57"/><stop offset="0.594" stop-color="#0a2ad8" stop-opacity="0.47"/><stop offset="0.625" stop-color="#0b2bd9" stop-opacity="0.39"/><stop offset="0.656" stop-color="#0b2cd9" stop-opacity="0.32"/><stop offset="0.688" stop-color="#0c2dda" stop-opacity="0.25"/><stop offset="0.719" stop-color="#0c2eda" stop-opacity="0.20"/><stop offset="0.750" stop-color="#0c2eda" stop-opacity="0.16"/><stop offset="0.781" stop-color="#0c2fda" stop-opacity="0.13"/><stop offset="0.812" stop-color="#0d2fdb" stop-opacity="0.10"/><stop offset="0.844" stop-color="#0d30db" stop-opacity="0.07"/><stop offset="0.875" stop-color="#0d30db" stop-opacity="0.06"/><stop offset="0.906" stop-color="#0d30db" stop-opacity="0.04"/><stop offset="0.938" stop-color="#0d30db" stop-opacity="0.03"/><stop offset="0.969" stop-color="#0d30db" stop-opacity="0.02"/><stop offset="1.000" stop-color="#0d30db" stop-opacity="0.00"/></radialGradient><radialGradient id="i_b6" gradientUnits="userSpaceOnUse" cx="0" cy="0" r="3.2"><stop offset="0.000" stop-color="#0008be" stop-opacity="1.00"/><stop offset="0.031" stop-color="#0008be" stop-opacity="1.00"/><stop offset="0.062" stop-color="#0009bf" stop-opacity="1.00"/><stop offset="0.094" stop-color="#000ac0" stop-opacity="1.00"/><stop offset="0.125" stop-color="#000bc1" stop-opacity="1.00"/><stop offset="0.156" stop-color="#000dc2" stop-opacity="1.00"/><stop offset="0.188" stop-color="#000ec4" stop-opacity="1.00"/><stop offset="0.219" stop-color="#0010c6" stop-opacity="1.00"/><stop offset="0.250" stop-color="#0013c8" stop-opacity="1.00"/><stop offset="0.281" stop-color="#0015ca" stop-opacity="1.00"/><stop offset="0.312" stop-color="#0017cc" stop-opacity="1.00"/><stop offset="0.344" stop-color="#011ace" stop-opacity="1.00"/><stop offset="0.375" stop-color="#021cd0" stop-opacity="1.00"/><stop offset="0.406" stop-color="#041fd1" stop-opacity="1.00"/><stop offset="0.438" stop-color="#0521d2" stop-opacity="1.00"/><stop offset="0.469" stop-color="#0623d4" stop-opacity="0.93"/><stop offset="0.500" stop-color="#0725d5" stop-opacity="0.79"/><stop offset="0.531" stop-color="#0827d6" stop-opacity="0.67"/><stop offset="0.562" stop-color="#0929d7" stop-opacity="0.57"/><stop offset="0.594" stop-color="#0a2ad8" stop-opacity="0.47"/><stop offset="0.625" stop-color="#0b2bd9" stop-opacity="0.39"/><stop offset="0.656" stop-color="#0b2cd9" stop-opacity="0.32"/><stop offset="0.688" stop-color="#0c2dda" stop-opacity="0.25"/><stop offset="0.719" stop-color="#0c2eda" stop-opacity="0.20"/><stop offset="0.750" stop-color="#0c2eda" stop-opacity="0.16"/><stop offset="0.781" stop-color="#0c2fda" stop-opacity="0.13"/><stop offset="0.812" stop-color="#0d2fdb" stop-opacity="0.10"/><stop offset="0.844" stop-color="#0d30db" stop-opacity="0.07"/><stop offset="0.875" stop-color="#0d30db" stop-opacity="0.06"/><stop offset="0.906" stop-color="#0d30db" stop-opacity="0.04"/><stop offset="0.938" stop-color="#0d30db" stop-opacity="0.03"/><stop offset="0.969" stop-color="#0d30db" stop-opacity="0.02"/><stop offset="1.000" stop-color="#0d30db" stop-opacity="0.00"/></radialGradient><radialGradient id="i_b7" gradientUnits="userSpaceOnUse" cx="0" cy="0" r="3.2"><stop offset="0.000" stop-color="#0008be" stop-opacity="1.00"/><stop offset="0.031" stop-color="#0008be" stop-opacity="1.00"/><stop offset="0.062" stop-color="#0009bf" stop-opacity="1.00"/><stop offset="0.094" stop-color="#000ac0" stop-opacity="1.00"/><stop offset="0.125" stop-color="#000bc1" stop-opacity="1.00"/><stop offset="0.156" stop-color="#000dc2" stop-opacity="1.00"/><stop offset="0.188" stop-color="#000ec4" stop-opacity="1.00"/><stop offset="0.219" stop-color="#0010c6" stop-opacity="1.00"/><stop offset="0.250" stop-color="#0013c8" stop-opacity="1.00"/><stop offset="0.281" stop-color="#0015ca" stop-opacity="1.00"/><stop offset="0.312" stop-color="#0017cc" stop-opacity="1.00"/><stop offset="0.344" stop-color="#011ace" stop-opacity="1.00"/><stop offset="0.375" stop-color="#021cd0" stop-opacity="1.00"/><stop offset="0.406" stop-color="#041fd1" stop-opacity="1.00"/><stop offset="0.438" stop-color="#0521d2" stop-opacity="1.00"/><stop offset="0.469" stop-color="#0623d4" stop-opacity="0.93"/><stop offset="0.500" stop-color="#0725d5" stop-opacity="0.79"/><stop offset="0.531" stop-color="#0827d6" stop-opacity="0.67"/><stop offset="0.562" stop-color="#0929d7" stop-opacity="0.57"/><stop offset="0.594" stop-color="#0a2ad8" stop-opacity="0.47"/><stop offset="0.625" stop-color="#0b2bd9" stop-opacity="0.39"/><stop offset="0.656" stop-color="#0b2cd9" stop-opacity="0.32"/><stop offset="0.688" stop-color="#0c2dda" stop-opacity="0.25"/><stop offset="0.719" stop-color="#0c2eda" stop-opacity="0.20"/><stop offset="0.750" stop-color="#0c2eda" stop-opacity="0.16"/><stop offset="0.781" stop-color="#0c2fda" stop-opacity="0.13"/><stop offset="0.812" stop-color="#0d2fdb" stop-opacity="0.10"/><stop offset="0.844" stop-color="#0d30db" stop-opacity="0.07"/><stop offset="0.875" stop-color="#0d30db" stop-opacity="0.06"/><stop offset="0.906" stop-color="#0d30db" stop-opacity="0.04"/><stop offset="0.938" stop-color="#0d30db" stop-opacity="0.03"/><stop offset="0.969" stop-color="#0d30db" stop-opacity="0.02"/><stop offset="1.000" stop-color="#0d30db" stop-opacity="0.00"/></radialGradient><radialGradient id="i_b8" gradientUnits="userSpaceOnUse" cx="0" cy="0" r="3.2"><stop offset="0.000" stop-color="#0008be" stop-opacity="1.00"/><stop offset="0.031" stop-color="#0008be" stop-opacity="1.00"/><stop offset="0.062" stop-color="#0009bf" stop-opacity="1.00"/><stop offset="0.094" stop-color="#000ac0" stop-opacity="1.00"/><stop offset="0.125" stop-color="#000bc1" stop-opacity="1.00"/><stop offset="0.156" stop-color="#000dc2" stop-opacity="1.00"/><stop offset="0.188" stop-color="#000ec4" stop-opacity="1.00"/><stop offset="0.219" stop-color="#0010c6" stop-opacity="1.00"/><stop offset="0.250" stop-color="#0013c8" stop-opacity="1.00"/><stop offset="0.281" stop-color="#0015ca" stop-opacity="1.00"/><stop offset="0.312" stop-color="#0017cc" stop-opacity="1.00"/><stop offset="0.344" stop-color="#011ace" stop-opacity="1.00"/><stop offset="0.375" stop-color="#021cd0" stop-opacity="1.00"/><stop offset="0.406" stop-color="#041fd1" stop-opacity="1.00"/><stop offset="0.438" stop-color="#0521d2" stop-opacity="1.00"/><stop offset="0.469" stop-color="#0623d4" stop-opacity="0.93"/><stop offset="0.500" stop-color="#0725d5" stop-opacity="0.79"/><stop offset="0.531" stop-color="#0827d6" stop-opacity="0.67"/><stop offset="0.562" stop-color="#0929d7" stop-opacity="0.57"/><stop offset="0.594" stop-color="#0a2ad8" stop-opacity="0.47"/><stop offset="0.625" stop-color="#0b2bd9" stop-opacity="0.39"/><stop offset="0.656" stop-color="#0b2cd9" stop-opacity="0.32"/><stop offset="0.688" stop-color="#0c2dda" stop-opacity="0.25"/><stop offset="0.719" stop-color="#0c2eda" stop-opacity="0.20"/><stop offset="0.750" stop-color="#0c2eda" stop-opacity="0.16"/><stop offset="0.781" stop-color="#0c2fda" stop-opacity="0.13"/><stop offset="0.812" stop-color="#0d2fdb" stop-opacity="0.10"/><stop offset="0.844" stop-color="#0d30db" stop-opacity="0.07"/><stop offset="0.875" stop-color="#0d30db" stop-opacity="0.06"/><stop offset="0.906" stop-color="#0d30db" stop-opacity="0.04"/><stop offset="0.938" stop-color="#0d30db" stop-opacity="0.03"/><stop offset="0.969" stop-color="#0d30db" stop-opacity="0.02"/><stop offset="1.000" stop-color="#0d30db" stop-opacity="0.00"/></radialGradient><radialGradient id="i_b9" gradientUnits="userSpaceOnUse" cx="0" cy="0" r="3.2"><stop offset="0.000" stop-color="#25bffa" stop-opacity="1.00"/><stop offset="0.031" stop-color="#25bffa" stop-opacity="1.00"/><stop offset="0.062" stop-color="#25bffa" stop-opacity="1.00"/><stop offset="0.094" stop-color="#25bffa" stop-opacity="1.00"/><stop offset="0.125" stop-color="#25bffa" stop-opacity="1.00"/><stop offset="0.156" stop-color="#25befa" stop-opacity="1.00"/><stop offset="0.188" stop-color="#24befa" stop-opacity="1.00"/><stop offset="0.219" stop-color="#24bcfa" stop-opacity="1.00"/><stop offset="0.250" stop-color="#23bafa" stop-opacity="1.00"/><stop offset="0.281" stop-color="#21b7fa" stop-opacity="1.00"/><stop offset="0.312" stop-color="#20b2fa" stop-opacity="1.00"/><stop offset="0.344" stop-color="#1faafa" stop-opacity="1.00"/><stop offset="0.375" stop-color="#1ea1fa" stop-opacity="1.00"/><stop offset="0.406" stop-color="#1e8df7" stop-opacity="1.00"/><stop offset="0.438" stop-color="#1e78f3" stop-opacity="1.00"/><stop offset="0.469" stop-color="#1c61ee" stop-opacity="0.75"/><stop offset="0.500" stop-color="#184be9" stop-opacity="0.45"/><stop offset="0.531" stop-color="#133de1" stop-opacity="0.23"/><stop offset="0.562" stop-color="#1036de" stop-opacity="0.10"/><stop offset="0.594" stop-color="#0e33dc" stop-opacity="0.04"/><stop offset="0.625" stop-color="#0e31dc" stop-opacity="0.01"/><stop offset="0.656" stop-color="#0d31db" stop-opacity="0.00"/><stop offset="0.688" stop-color="#0d31db" stop-opacity="0.00"/><stop offset="0.719" stop-color="#0d31db" stop-opacity="0.00"/><stop offset="0.750" stop-color="#0d31db" stop-opacity="0.00"/><stop offset="0.781" stop-color="#0d31db" stop-opacity="0.00"/><stop offset="0.812" stop-color="#0d31db" stop-opacity="0.00"/><stop offset="0.844" stop-color="#0d31db" stop-opacity="0.00"/><stop offset="0.875" stop-color="#0d31db" stop-opacity="0.00"/><stop offset="0.906" stop-color="#0d31db" stop-opacity="0.00"/><stop offset="0.938" stop-color="#0d31db" stop-opacity="0.00"/><stop offset="0.969" stop-color="#0d31db" stop-opacity="0.00"/><stop offset="1.000" stop-color="#0d31db" stop-opacity="0.00"/></radialGradient><radialGradient id="i_b10" gradientUnits="userSpaceOnUse" cx="0" cy="0" r="3.2"><stop offset="0.000" stop-color="#20b4fa" stop-opacity="1.00"/><stop offset="0.031" stop-color="#20b4fa" stop-opacity="1.00"/><stop offset="0.062" stop-color="#20b4fa" stop-opacity="1.00"/><stop offset="0.094" stop-color="#20b4fa" stop-opacity="1.00"/><stop offset="0.125" stop-color="#20b4fa" stop-opacity="1.00"/><stop offset="0.156" stop-color="#20b3fa" stop-opacity="1.00"/><stop offset="0.188" stop-color="#20b2fa" stop-opacity="1.00"/><stop offset="0.219" stop-color="#20b0fa" stop-opacity="1.00"/><stop offset="0.250" stop-color="#1fadfa" stop-opacity="1.00"/><stop offset="0.281" stop-color="#1fa9fa" stop-opacity="1.00"/><stop offset="0.312" stop-color="#1ea3fa" stop-opacity="1.00"/><stop offset="0.344" stop-color="#1e9af9" stop-opacity="1.00"/><stop offset="0.375" stop-color="#1e8cf7" stop-opacity="1.00"/><stop offset="0.406" stop-color="#1e7df4" stop-opacity="1.00"/><stop offset="0.438" stop-color="#1e70f0" stop-opacity="1.00"/><stop offset="0.469" stop-color="#1b5eed" stop-opacity="0.81"/><stop offset="0.500" stop-color="#184dea" stop-opacity="0.56"/><stop offset="0.531" stop-color="#1541e4" stop-opacity="0.35"/><stop offset="0.562" stop-color="#123ae0" stop-opacity="0.21"/><stop offset="0.594" stop-color="#1036de" stop-opacity="0.11"/><stop offset="0.625" stop-color="#0e33dc" stop-opacity="0.05"/><stop offset="0.656" stop-color="#0e32dc" stop-opacity="0.02"/><stop offset="0.688" stop-color="#0e31dc" stop-opacity="0.01"/><stop offset="0.719" stop-color="#0d31db" stop-opacity="0.00"/><stop offset="0.750" stop-color="#0d31db" stop-opacity="0.00"/><stop offset="0.781" stop-color="#0d31db" stop-opacity="0.00"/><stop offset="0.812" stop-color="#0d31db" stop-opacity="0.00"/><stop offset="0.844" stop-color="#0d31db" stop-opacity="0.00"/><stop offset="0.875" stop-color="#0d31db" stop-opacity="0.00"/><stop offset="0.906" stop-color="#0d31db" stop-opacity="0.00"/><stop offset="0.938" stop-color="#0d31db" stop-opacity="0.00"/><stop offset="0.969" stop-color="#0d31db" stop-opacity="0.00"/><stop offset="1.000" stop-color="#0d31db" stop-opacity="0.00"/></radialGradient><radialGradient id="i_b11" gradientUnits="userSpaceOnUse" cx="0" cy="0" r="3.2"><stop offset="0.000" stop-color="#143ee2" stop-opacity="1.00"/><stop offset="0.031" stop-color="#143ee2" stop-opacity="1.00"/><stop offset="0.062" stop-color="#143ee2" stop-opacity="1.00"/><stop offset="0.094" stop-color="#143de2" stop-opacity="1.00"/><stop offset="0.125" stop-color="#133de1" stop-opacity="1.00"/><stop offset="0.156" stop-color="#133ce1" stop-opacity="1.00"/><stop offset="0.188" stop-color="#133ce1" stop-opacity="1.00"/><stop offset="0.219" stop-color="#133be1" stop-opacity="1.00"/><stop offset="0.250" stop-color="#123ae0" stop-opacity="1.00"/><stop offset="0.281" stop-color="#123ae0" stop-opacity="1.00"/><stop offset="0.312" stop-color="#1139df" stop-opacity="1.00"/><stop offset="0.344" stop-color="#1138df" stop-opacity="1.00"/><stop offset="0.375" stop-color="#1137df" stop-opacity="1.00"/><stop offset="0.406" stop-color="#1036de" stop-opacity="1.00"/><stop offset="0.438" stop-color="#1036de" stop-opacity="1.00"/><stop offset="0.469" stop-color="#0f35dd" stop-opacity="0.93"/><stop offset="0.500" stop-color="#0f34dd" stop-opacity="0.79"/><stop offset="0.531" stop-color="#0f34dd" stop-opacity="0.67"/><stop offset="0.562" stop-color="#0f33dd" stop-opacity="0.57"/><stop offset="0.594" stop-color="#0e33dc" stop-opacity="0.47"/><stop offset="0.625" stop-color="#0e32dc" stop-opacity="0.39"/><stop offset="0.656" stop-color="#0e32dc" stop-opacity="0.32"/><stop offset="0.688" stop-color="#0e32dc" stop-opacity="0.25"/><stop offset="0.719" stop-color="#0e32dc" stop-opacity="0.20"/><stop offset="0.750" stop-color="#0e31dc" stop-opacity="0.16"/><stop offset="0.781" stop-color="#0e31dc" stop-opacity="0.13"/><stop offset="0.812" stop-color="#0e31dc" stop-opacity="0.10"/><stop offset="0.844" stop-color="#0e31dc" stop-opacity="0.07"/><stop offset="0.875" stop-color="#0d31db" stop-opacity="0.06"/><stop offset="0.906" stop-color="#0d31db" stop-opacity="0.04"/><stop offset="0.938" stop-color="#0d31db" stop-opacity="0.03"/><stop offset="0.969" stop-color="#0d31db" stop-opacity="0.02"/><stop offset="1.000" stop-color="#0d31db" stop-opacity="0.00"/></radialGradient><radialGradient id="i_b12" gradientUnits="userSpaceOnUse" cx="0" cy="0" r="3.2"><stop offset="0.000" stop-color="#ff8700" stop-opacity="1.00"/><stop offset="0.031" stop-color="#ff8800" stop-opacity="1.00"/><stop offset="0.062" stop-color="#ff8a00" stop-opacity="1.00"/><stop offset="0.094" stop-color="#ff8f00" stop-opacity="1.00"/><stop offset="0.125" stop-color="#ff9600" stop-opacity="1.00"/><stop offset="0.156" stop-color="#ffa000" stop-opacity="1.00"/><stop offset="0.188" stop-color="#ffb40d" stop-opacity="1.00"/><stop offset="0.219" stop-color="#fdc929" stop-opacity="1.00"/><stop offset="0.250" stop-color="#fbdd53" stop-opacity="1.00"/><stop offset="0.281" stop-color="#e9ee7c" stop-opacity="1.00"/><stop offset="0.312" stop-color="#c0f5b2" stop-opacity="1.00"/><stop offset="0.344" stop-color="#88f1e0" stop-opacity="1.00"/><stop offset="0.375" stop-color="#58e5f6" stop-opacity="1.00"/><stop offset="0.406" stop-color="#35d2fa" stop-opacity="1.00"/><stop offset="0.438" stop-color="#28c6fa" stop-opacity="1.00"/><stop offset="0.469" stop-color="#22b8fa" stop-opacity="0.90"/><stop offset="0.500" stop-color="#1fabfa" stop-opacity="0.74"/><stop offset="0.531" stop-color="#1e9cf9" stop-opacity="0.60"/><stop offset="0.562" stop-color="#1e88f6" stop-opacity="0.48"/><stop offset="0.594" stop-color="#1e77f2" stop-opacity="0.37"/><stop offset="0.625" stop-color="#1d68ef" stop-opacity="0.29"/><stop offset="0.656" stop-color="#1a58ec" stop-opacity="0.22"/><stop offset="0.688" stop-color="#184ce9" stop-opacity="0.16"/><stop offset="0.719" stop-color="#1543e5" stop-opacity="0.11"/><stop offset="0.750" stop-color="#133de1" stop-opacity="0.08"/><stop offset="0.781" stop-color="#1239e0" stop-opacity="0.06"/><stop offset="0.812" stop-color="#1036de" stop-opacity="0.04"/><stop offset="0.844" stop-color="#0f34dd" stop-opacity="0.03"/><stop offset="0.875" stop-color="#0f33dd" stop-opacity="0.02"/><stop offset="0.906" stop-color="#0e32dc" stop-opacity="0.01"/><stop offset="0.938" stop-color="#0e32dc" stop-opacity="0.01"/><stop offset="0.969" stop-color="#0e31dc" stop-opacity="0.00"/><stop offset="1.000" stop-color="#0e31dc" stop-opacity="0.00"/></radialGradient><radialGradient id="i_b13" gradientUnits="userSpaceOnUse" cx="0" cy="0" r="3.2"><stop offset="0.000" stop-color="#6e0000" stop-opacity="1.00"/><stop offset="0.031" stop-color="#710000" stop-opacity="1.00"/><stop offset="0.062" stop-color="#7b0000" stop-opacity="1.00"/><stop offset="0.094" stop-color="#8f0000" stop-opacity="1.00"/><stop offset="0.125" stop-color="#ac0000" stop-opacity="1.00"/><stop offset="0.156" stop-color="#d30000" stop-opacity="1.00"/><stop offset="0.188" stop-color="#e91300" stop-opacity="1.00"/><stop offset="0.219" stop-color="#f93500" stop-opacity="1.00"/><stop offset="0.250" stop-color="#ff5900" stop-opacity="1.00"/><stop offset="0.281" stop-color="#ff7c00" stop-opacity="1.00"/><stop offset="0.312" stop-color="#ff9c00" stop-opacity="1.00"/><stop offset="0.344" stop-color="#fec624" stop-opacity="1.00"/><stop offset="0.375" stop-color="#f2e76a" stop-opacity="1.00"/><stop offset="0.406" stop-color="#bef5b4" stop-opacity="1.00"/><stop offset="0.438" stop-color="#75eeeb" stop-opacity="1.00"/><stop offset="0.469" stop-color="#3fd8f9" stop-opacity="0.91"/><stop offset="0.500" stop-color="#2bc9fa" stop-opacity="0.76"/><stop offset="0.531" stop-color="#22b9fa" stop-opacity="0.62"/><stop offset="0.562" stop-color="#1faafa" stop-opacity="0.50"/><stop offset="0.594" stop-color="#1e99f9" stop-opacity="0.40"/><stop offset="0.625" stop-color="#1e84f5" stop-opacity="0.31"/><stop offset="0.656" stop-color="#1e74f1" stop-opacity="0.24"/><stop offset="0.688" stop-color="#1c63ee" stop-opacity="0.18"/><stop offset="0.719" stop-color="#1a54ec" stop-opacity="0.13"/><stop offset="0.750" stop-color="#1749e7" stop-opacity="0.10"/><stop offset="0.781" stop-color="#1541e3" stop-opacity="0.07"/><stop offset="0.812" stop-color="#133ce1" stop-opacity="0.05"/><stop offset="0.844" stop-color="#1138df" stop-opacity="0.03"/><stop offset="0.875" stop-color="#1036de" stop-opacity="0.02"/><stop offset="0.906" stop-color="#0f34dd" stop-opacity="0.02"/><stop offset="0.938" stop-color="#0e33dc" stop-opacity="0.01"/><stop offset="0.969" stop-color="#0e32dc" stop-opacity="0.01"/><stop offset="1.000" stop-color="#0e32dc" stop-opacity="0.00"/></radialGradient><linearGradient id="i_bk" gradientUnits="userSpaceOnUse" x1="0" y1="1020" x2="0" y2="1160"><stop offset="0.000" stop-color="#021ccf"/><stop offset="0.500" stop-color="#1137df"/><stop offset="1.000" stop-color="#1e75f2"/></linearGradient><linearGradient id="i_rg0" gradientUnits="userSpaceOnUse" x1="0" y1="1085" x2="0" y2="1150"><stop offset="0.000" stop-color="#1c64ee"/><stop offset="1.000" stop-color="#20b4fa"/></linearGradient><linearGradient gradientTransform="rotate(-15 1680 1240)" id="i_fn0" gradientUnits="userSpaceOnUse" x1="0" y1="1124.1" x2="0" y2="1342.4"><stop offset="0.000" stop-color="#1950eb"/><stop offset="0.177" stop-color="#1e98f9"/><stop offset="0.354" stop-color="#22b8fa"/><stop offset="0.465" stop-color="#37d4fa"/><stop offset="0.531" stop-color="#7cefe7"/><stop offset="0.597" stop-color="#bbf5b7"/><stop offset="0.664" stop-color="#ebec78"/><stop offset="0.752" stop-color="#fdca2b"/><stop offset="0.841" stop-color="#ffa805"/><stop offset="1.000" stop-color="#ff8c00"/></linearGradient><linearGradient gradientTransform="rotate(-20 1570 1260)" id="i_fn1" gradientUnits="userSpaceOnUse" x1="0" y1="1105" x2="0" y2="1392.5"><stop offset="0.000" stop-color="#0d31db"/><stop offset="0.147" stop-color="#1e6ef0"/><stop offset="0.278" stop-color="#1ea0fa"/><stop offset="0.376" stop-color="#25bffa"/><stop offset="0.435" stop-color="#64ebf5"/><stop offset="0.490" stop-color="#adf5c5"/><stop offset="0.546" stop-color="#ebec78"/><stop offset="0.605" stop-color="#fec420"/><stop offset="0.670" stop-color="#ffa000"/><stop offset="0.719" stop-color="#ff8200"/><stop offset="0.817" stop-color="#ff4600"/><stop offset="0.915" stop-color="#dc0000"/><stop offset="1.000" stop-color="#6e0000"/></linearGradient><linearGradient gradientTransform="rotate(-15 1500 1150)" id="i_in0" gradientUnits="userSpaceOnUse" x1="0" y1="1070" x2="0" y2="1225"><stop offset="0.000" stop-color="#1647e6"/><stop offset="0.500" stop-color="#1e98f9"/><stop offset="1.000" stop-color="#28c6fa"/></linearGradient><linearGradient id="i_bd" gradientUnits="userSpaceOnUse" x1="1478" y1="1050.3" x2="1497.9" y2="1106.9"><stop offset="0.000" stop-color="#0008be" stop-opacity="1.00"/><stop offset="0.500" stop-color="#0010c5" stop-opacity="0.90"/><stop offset="1.000" stop-color="#0623d4" stop-opacity="0.00"/></linearGradient><linearGradient id="i_cb" x1="0" y1="0" x2="0" y2="1"><stop offset="0.000" stop-color="#6e0000"/><stop offset="0.040" stop-color="#a00000"/><stop offset="0.090" stop-color="#dc0000"/><stop offset="0.140" stop-color="#f01e00"/><stop offset="0.190" stop-color="#ff4600"/><stop offset="0.290" stop-color="#ff8200"/><stop offset="0.350" stop-color="#ffa000"/><stop offset="0.390" stop-color="#ffbe14"/><stop offset="0.450" stop-color="#fae15a"/><stop offset="0.490" stop-color="#e6f082"/><stop offset="0.520" stop-color="#c8f5aa"/><stop offset="0.550" stop-color="#a0f5d2"/><stop offset="0.600" stop-color="#64ebf5"/><stop offset="0.650" stop-color="#37d4fa"/><stop offset="0.700" stop-color="#28c6fa"/><stop offset="0.750" stop-color="#20b4fa"/><stop offset="0.800" stop-color="#1ea0fa"/><stop offset="0.840" stop-color="#1e82f5"/><stop offset="0.870" stop-color="#1e6ef0"/><stop offset="0.900" stop-color="#1950eb"/><stop offset="0.920" stop-color="#143ee2"/><stop offset="0.950" stop-color="#0a2ad8"/><stop offset="0.975" stop-color="#0018cd"/><stop offset="1.000" stop-color="#0008be"/></linearGradient></defs>
<path d="M1565.6 1019.6L1921.8 1037L1909.4 1402.4M1575.2 1362.2V1019.6M1390.5 1081L1408.9 1491.8" fill="none" stroke="#000" stroke-width="1"/>
<path d="M1408.9 1491.8L1811.8 1549.5L1909.4 1402.4L1575.2 1362.2Z" fill="#0d31db"/>
<g clip-path="url(#i_fl)">
<circle r="3.2" fill="url(#i_b0)" transform="matrix(27.9053 3.6405 96.2075 -77.6451 1524.70 1423.69)"/>
<circle r="3.2" fill="url(#i_b1)" transform="matrix(57.9854 7.3135 15.2507 -19.1132 1803.62 1430.09)"/>
<circle r="3.2" fill="url(#i_b2)" transform="matrix(24.1814 3.0009 15.7538 -16.1289 1712.14 1404.70)"/>
<circle r="1.456" fill="none" stroke="#222" stroke-width="0.8" stroke-opacity="0.75" vector-effect="non-scaling-stroke" transform="matrix(24.1814 3.0009 15.7538 -16.1289 1712.14 1404.70)"/>
<circle r="0.958" fill="none" stroke="#222" stroke-width="0.8" stroke-opacity="0.75" vector-effect="non-scaling-stroke" transform="matrix(24.1814 3.0009 15.7538 -16.1289 1712.14 1404.70)"/>
<circle r="3.2" fill="url(#i_b3)" transform="matrix(6.3388 0.8075 5.2628 -5.0966 1660.79 1420.62)"/>
<circle r="3.2" fill="url(#i_b4)" transform="matrix(6.2095 0.7739 4.9219 -4.8541 1688.21 1405.36)"/>
<circle r="3.2" fill="url(#i_b5)" transform="matrix(8.6105 1.0884 4.5015 -5.1641 1758.90 1426.36)"/>
<circle r="3.2" fill="url(#i_b6)" transform="matrix(7.5399 1.0257 8.2262 -7.9187 1603.96 1471.49)"/>
<circle r="3.2" fill="url(#i_b7)" transform="matrix(19.6036 2.7002 7.5317 -8.4027 1682.52 1493.79)"/>
<circle r="3.2" fill="url(#i_b8)" transform="matrix(19.8386 2.6987 7.9938 -10.5023 1778.00 1495.16)"/>
<circle r="3.2" fill="url(#i_b9)" transform="matrix(21.3303 2.7827 69.5400 -61.7500 1588.09 1431.95)"/>
<circle r="1.417" fill="none" stroke="#222" stroke-width="0.8" stroke-opacity="0.75" vector-effect="non-scaling-stroke" transform="matrix(21.3303 2.7827 69.5400 -61.7500 1588.09 1431.95)"/>
<circle r="1.026" fill="none" stroke="#222" stroke-width="0.8" stroke-opacity="0.75" vector-effect="non-scaling-stroke" transform="matrix(21.3303 2.7827 69.5400 -61.7500 1588.09 1431.95)"/>
<circle r="3.2" fill="url(#i_b10)" transform="matrix(31.1232 4.1080 26.9613 -28.1387 1676.60 1453.91)"/>
<circle r="1.364" fill="none" stroke="#222" stroke-width="0.8" stroke-opacity="0.75" vector-effect="non-scaling-stroke" transform="matrix(31.1232 4.1080 26.9613 -28.1387 1676.60 1453.91)"/>
<circle r="0.682" fill="none" stroke="#222" stroke-width="0.8" stroke-opacity="0.75" vector-effect="non-scaling-stroke" transform="matrix(31.1232 4.1080 26.9613 -28.1387 1676.60 1453.91)"/>
<circle r="3.2" fill="url(#i_b11)" transform="matrix(3.4556 0.4358 17.7858 -16.4312 1640.83 1409.56)"/>
<circle r="3.2" fill="url(#i_b12)" transform="matrix(11.9704 1.5913 19.9180 -21.0324 1677.89 1460.48)"/>
<circle r="1.919" fill="none" stroke="#222" stroke-width="0.8" stroke-opacity="0.75" vector-effect="non-scaling-stroke" transform="matrix(11.9704 1.5913 19.9180 -21.0324 1677.89 1460.48)"/>
<circle r="1.562" fill="none" stroke="#222" stroke-width="0.8" stroke-opacity="0.75" vector-effect="non-scaling-stroke" transform="matrix(11.9704 1.5913 19.9180 -21.0324 1677.89 1460.48)"/>
<circle r="1.306" fill="none" stroke="#222" stroke-width="0.8" stroke-opacity="0.75" vector-effect="non-scaling-stroke" transform="matrix(11.9704 1.5913 19.9180 -21.0324 1677.89 1460.48)"/>
<circle r="1.078" fill="none" stroke="#222" stroke-width="0.8" stroke-opacity="0.75" vector-effect="non-scaling-stroke" transform="matrix(11.9704 1.5913 19.9180 -21.0324 1677.89 1460.48)"/>
<circle r="0.842" fill="none" stroke="#222" stroke-width="0.8" stroke-opacity="0.75" vector-effect="non-scaling-stroke" transform="matrix(11.9704 1.5913 19.9180 -21.0324 1677.89 1460.48)"/>
<circle r="0.538" fill="none" stroke="#222" stroke-width="0.8" stroke-opacity="0.75" vector-effect="non-scaling-stroke" transform="matrix(11.9704 1.5913 19.9180 -21.0324 1677.89 1460.48)"/>
<circle r="3.2" fill="url(#i_b13)" transform="matrix(12.0885 1.6090 34.5456 -26.9604 1592.08 1433.49)"/>
<circle r="2.093" fill="none" stroke="#222" stroke-width="0.8" stroke-opacity="0.75" vector-effect="non-scaling-stroke" transform="matrix(12.0885 1.6090 34.5456 -26.9604 1592.08 1433.49)"/>
<circle r="1.760" fill="none" stroke="#222" stroke-width="0.8" stroke-opacity="0.75" vector-effect="non-scaling-stroke" transform="matrix(12.0885 1.6090 34.5456 -26.9604 1592.08 1433.49)"/>
<circle r="1.537" fill="none" stroke="#222" stroke-width="0.8" stroke-opacity="0.75" vector-effect="non-scaling-stroke" transform="matrix(12.0885 1.6090 34.5456 -26.9604 1592.08 1433.49)"/>
<circle r="1.355" fill="none" stroke="#222" stroke-width="0.8" stroke-opacity="0.75" vector-effect="non-scaling-stroke" transform="matrix(12.0885 1.6090 34.5456 -26.9604 1592.08 1433.49)"/>
<circle r="1.190" fill="none" stroke="#222" stroke-width="0.8" stroke-opacity="0.75" vector-effect="non-scaling-stroke" transform="matrix(12.0885 1.6090 34.5456 -26.9604 1592.08 1433.49)"/>
<circle r="1.030" fill="none" stroke="#222" stroke-width="0.8" stroke-opacity="0.75" vector-effect="non-scaling-stroke" transform="matrix(12.0885 1.6090 34.5456 -26.9604 1592.08 1433.49)"/>
<circle r="0.866" fill="none" stroke="#222" stroke-width="0.8" stroke-opacity="0.75" vector-effect="non-scaling-stroke" transform="matrix(12.0885 1.6090 34.5456 -26.9604 1592.08 1433.49)"/>
<circle r="0.682" fill="none" stroke="#222" stroke-width="0.8" stroke-opacity="0.75" vector-effect="non-scaling-stroke" transform="matrix(12.0885 1.6090 34.5456 -26.9604 1592.08 1433.49)"/>
<circle r="0.434" fill="none" stroke="#222" stroke-width="0.8" stroke-opacity="0.75" vector-effect="non-scaling-stroke" transform="matrix(12.0885 1.6090 34.5456 -26.9604 1592.08 1433.49)"/>
</g>
<path d="M1390.5 1081L1565.6 1019.6L1597.3 1026.5L1608.3 1043L1622 1048.5L1634.4 1058.1L1652.3 1100.8L1664.7 1037.5L1675.6 1073.3L1682.5 1050.7L1693.5 1095.3L1704.5 1109L1714.2 1109L1729.3 1084.3L1738.9 1047.1L1751.3 1071.9L1771.9 1051.3L1787 1059.5L1809 1054L1825.5 1056.8L1847.5 1036.1L1869.5 1055.4L1897 1060.9L1903.9 1082.9L1920.4 1089.8L1910.8 1147.5L1872.3 1117.3L1864 1153L1847.5 1153L1820 1148.9L1765 1150.3L1737.5 1158.5L1723.8 1175L1700 1190L1660 1200L1630 1200L1600 1150L1560 1100L1460 1090Z" fill="url(#i_bk)"/>
<path d="M1872.3 1117.3L1910.8 1147.5L1920.4 1089.8L1903.9 1082.9L1870 1100Z" fill="url(#i_rg0)"/>
<path d="M1611 1139.3L1640 1125L1700 1120L1737.5 1158.5L1723.8 1175L1715.5 1202.5L1710 1230L1703 1265L1699 1285L1693.5 1307.5L1685.3 1332.3L1680 1341L1675.6 1345.2L1671 1341L1666 1332.3L1657.8 1307.5L1650.9 1280L1641.3 1252L1627.5 1202.5Z" fill="url(#i_fn0)"/>
<path d="M1390.5 1081L1421.3 1084.3L1446 1100.8L1459.8 1120L1470.8 1147.5L1484.5 1180.5L1498.3 1219L1512 1252L1525.8 1280L1545 1321.3L1561.5 1357L1572 1378L1578 1390L1584 1398L1589 1401L1595 1399L1600 1394L1605.5 1387.3L1619.3 1348.8L1627.5 1315.8L1637.2 1280L1642.6 1254.8L1630 1200L1611 1139.3L1594.5 1125.5L1572.5 1104.9L1545 1102.1L1534 1109L1517.5 1147.5L1503 1215L1495 1200L1480 1150L1460 1105L1430 1085Z" fill="url(#i_fn1)"/>
<path d="M1446 1100.8L1459.8 1120L1470.8 1147.5L1484.5 1180.5L1498.3 1219L1503 1221L1517.5 1147.5L1534 1109L1545 1102.1L1572.5 1104.9L1600 1089.8L1560 1070L1500 1070Z" fill="url(#i_in0)"/>
<path d="M1390.5 1081L1565.6 1019.6L1597.3 1026.5L1608.3 1043L1615 1070L1560 1095L1480 1125L1459.8 1120L1446 1100.8L1421.3 1084.3Z" fill="url(#i_bd)"/>
<path d="M1390.5 1081L1565.6 1019.6" stroke="#333" stroke-width="1.2" stroke-dasharray="1.5 1"/>
<rect x="1381.9" y="1098.3" width="18.5" height="363.8" fill="url(#i_cb)"/>
<rect x="1381.9" y="1095.3" width="18.5" height="3" fill="#fff"/>
<rect x="1381.9" y="1462.1" width="18.5" height="2.9" fill="#000"/>
<rect x="1381.9" y="1095.3" width="18.5" height="369.7" fill="none" stroke="#000" stroke-width="0.8"/>
<text x="1414.9" y="1103.5" font-size="14.5" font-weight="bold">1.80</text>
<text x="1414.9" y="1139.9" font-size="14.5" font-weight="bold">1.62</text>
<text x="1414.9" y="1176.3" font-size="14.5" font-weight="bold">1.44</text>
<text x="1414.9" y="1212.6" font-size="14.5" font-weight="bold">1.26</text>
<text x="1414.9" y="1249" font-size="14.5" font-weight="bold">1.08</text>
<text x="1414.9" y="1285.4" font-size="14.5" font-weight="bold">0.90</text>
<text x="1414.9" y="1321.8" font-size="14.5" font-weight="bold">0.72</text>
<text x="1414.9" y="1358.2" font-size="14.5" font-weight="bold">0.54</text>
<text x="1414.9" y="1394.5" font-size="14.5" font-weight="bold">0.36</text>
<text x="1414.9" y="1430.9" font-size="14.5" font-weight="bold">0.18</text>
<text x="1414.9" y="1467.3" font-size="14.5" font-weight="bold">0.00</text>
<path d="M1400.4 1098.3h8.5M1400.4 1134.7h8.5M1400.4 1171.1h8.5M1400.4 1207.4h8.5M1400.4 1243.8h8.5M1400.4 1280.2h8.5M1400.4 1316.6h8.5M1400.4 1353h8.5M1400.4 1389.3h8.5M1400.4 1425.7h8.5M1400.4 1462.1h8.5" stroke="#222" stroke-width="1.3"/>
<text x="1715.5" y="1315" font-size="32.5" font-weight="bold">Cu foil</text>
<text transform="matrix(0.331 -0.258 0.990 0.142 1407 1498.8)" font-size="18" font-weight="bold">0</text>
<text transform="matrix(0.318 -0.275 0.990 0.142 1484.1 1510.2)" font-size="18" font-weight="bold">1</text>
<text transform="matrix(0.302 -0.292 0.990 0.142 1563.1 1521.9)" font-size="18" font-weight="bold">2</text>
<text transform="matrix(0.282 -0.311 0.990 0.142 1644 1533.8)" font-size="18" font-weight="bold">3</text>
<text transform="matrix(0.259 -0.330 0.990 0.142 1727.1 1546.1)" font-size="18" font-weight="bold">4</text>
<text transform="matrix(0.232 -0.350 0.990 0.142 1812.2 1558.7)" font-size="18" font-weight="bold">5</text>
<text transform="matrix(0.990 0.142 -0.276 0.417 1823.7 1555.2)" font-size="17" font-weight="bold">0</text>
<text transform="matrix(0.991 0.136 -0.276 0.417 1846.7 1520.4)" font-size="17" font-weight="bold">3</text>
<text transform="matrix(0.991 0.132 -0.276 0.417 1867.8 1488.6)" font-size="17" font-weight="bold">6</text>
<text transform="matrix(0.992 0.127 -0.276 0.417 1887.1 1459.5)" font-size="17" font-weight="bold">9</text>
<text transform="matrix(0.992 0.123 -0.276 0.417 1904.9 1432.6)" font-size="17" font-weight="bold">12</text>
<text transform="matrix(0.993 0.119 -0.276 0.417 1921.3 1407.8)" font-size="17" font-weight="bold">15</text>
<path d="M1408.9 1491.8l-5.5 4.3M1485.7 1502.8l-5.3 4.6M1564.3 1514.1l-5 4.9M1644.8 1525.6l-4.7 5.2M1727.3 1537.4l-4.3 5.5M1811.8 1549.5l-3.9 5.8M1811.8 1549.5l7.9 1.1M1834.8 1514.8l7.9 1.1M1855.9 1483l7.9 1.1M1875.2 1453.9l7.9 1M1893 1427.1l7.9 1M1909.4 1402.4l7.9 1" stroke="#000" stroke-width="1.2"/>
<text transform="matrix(0.990 0.142 -0.367 0.339 1523.1 1531.2)" font-size="27" font-weight="bold" font-style="italic" letter-spacing="2">R + α (Å)</text>
<text transform="matrix(0.415 -0.625 0.843 0.111 1914.9 1483.8)" font-size="22" font-weight="bold" font-style="italic" text-anchor="middle">k(Å<tspan font-size="14" dy="-8">-1</tspan><tspan dy="8">)</tspan></text>
<text x="1369" y="1054" font-size="44" font-weight="bold">i</text>
</svg></body></html>
